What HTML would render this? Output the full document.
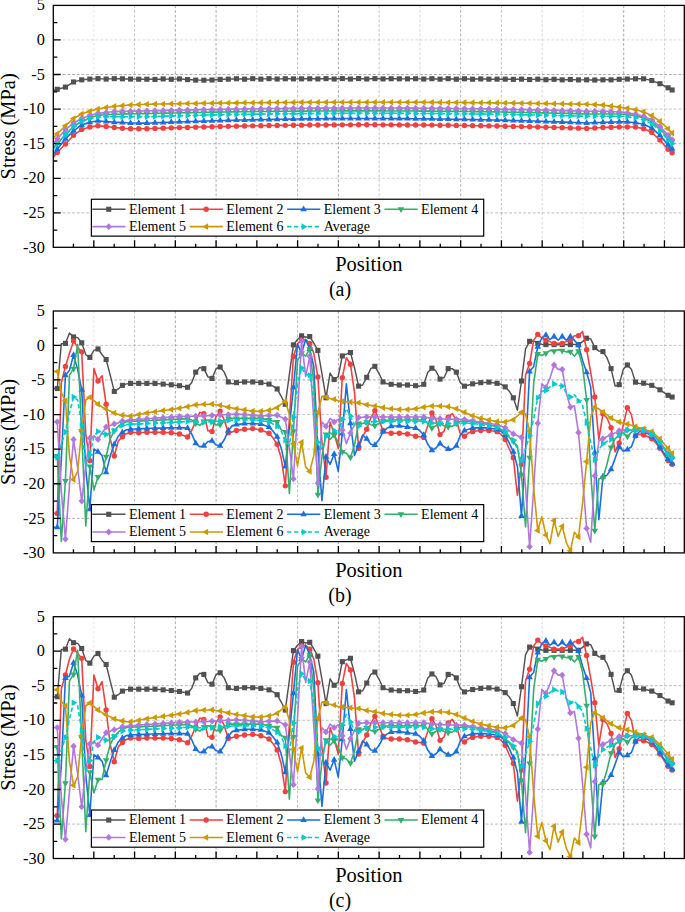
<!DOCTYPE html>
<html><head><meta charset="utf-8"><title>Stress vs Position</title>
<style>
html,body{margin:0;padding:0;background:#fff;}
svg{display:block;}
text{font-family:"Liberation Serif",serif;fill:#000;}
</style></head><body>
<svg width="685" height="912" viewBox="0 0 685 912">
<rect width="685" height="912" fill="#fff"/>
<defs><clipPath id="clip0"><rect x="53.30" y="5.40" width="631.00" height="241.90"/></clipPath><clipPath id="clip1"><rect x="53.30" y="311.00" width="631.00" height="241.90"/></clipPath><clipPath id="clip2"><rect x="53.30" y="616.70" width="631.00" height="241.80"/></clipPath></defs>
<path d="M93.81 5.40V247.30" stroke="#808080" stroke-opacity="0.23" stroke-width="0.85" stroke-dasharray="2.8 1.9" fill="none"/>
<path d="M134.57 5.40V247.30" stroke="#808080" stroke-opacity="0.54" stroke-width="0.85" stroke-dasharray="2.8 1.9" fill="none"/>
<path d="M175.33 5.40V247.30" stroke="#808080" stroke-opacity="0.81" stroke-width="0.85" stroke-dasharray="2.8 1.9" fill="none"/>
<path d="M216.09 5.40V247.30" stroke="#808080" stroke-opacity="0.81" stroke-width="0.85" stroke-dasharray="2.8 1.9" fill="none"/>
<path d="M256.85 5.40V247.30" stroke="#808080" stroke-opacity="0.27" stroke-width="0.85" stroke-dasharray="2.8 1.9" fill="none"/>
<path d="M297.61 5.40V247.30" stroke="#808080" stroke-opacity="0.63" stroke-width="0.85" stroke-dasharray="2.8 1.9" fill="none"/>
<path d="M338.37 5.40V247.30" stroke="#808080" stroke-opacity="0.81" stroke-width="0.85" stroke-dasharray="2.8 1.9" fill="none"/>
<path d="M379.13 5.40V247.30" stroke="#808080" stroke-opacity="0.54" stroke-width="0.85" stroke-dasharray="2.8 1.9" fill="none"/>
<path d="M419.89 5.40V247.30" stroke="#808080" stroke-opacity="0.36" stroke-width="0.85" stroke-dasharray="2.8 1.9" fill="none"/>
<path d="M460.65 5.40V247.30" stroke="#808080" stroke-opacity="0.68" stroke-width="0.85" stroke-dasharray="2.8 1.9" fill="none"/>
<path d="M501.41 5.40V247.30" stroke="#808080" stroke-opacity="0.54" stroke-width="0.85" stroke-dasharray="2.8 1.9" fill="none"/>
<path d="M542.17 5.40V247.30" stroke="#808080" stroke-opacity="0.38" stroke-width="0.85" stroke-dasharray="2.8 1.9" fill="none"/>
<path d="M582.93 5.40V247.30" stroke="#808080" stroke-opacity="0.18" stroke-width="0.85" stroke-dasharray="2.8 1.9" fill="none"/>
<path d="M623.69 5.40V247.30" stroke="#808080" stroke-opacity="0.81" stroke-width="0.85" stroke-dasharray="2.8 1.9" fill="none"/>
<path d="M664.45 5.40V247.30" stroke="#808080" stroke-opacity="0.41" stroke-width="0.85" stroke-dasharray="2.8 1.9" fill="none"/>
<path d="M53.30 39.90H684.30" stroke="#808080" stroke-opacity="0.36" stroke-width="0.85" stroke-dasharray="2.8 1.9" fill="none"/>
<path d="M53.30 74.50H684.30" stroke="#808080" stroke-opacity="0.77" stroke-width="0.85" stroke-dasharray="2.8 1.9" fill="none"/>
<path d="M53.30 109.10H684.30" stroke="#808080" stroke-opacity="0.54" stroke-width="0.85" stroke-dasharray="2.8 1.9" fill="none"/>
<path d="M53.30 143.70H684.30" stroke="#808080" stroke-opacity="0.68" stroke-width="0.85" stroke-dasharray="2.8 1.9" fill="none"/>
<path d="M53.30 178.30H684.30" stroke="#808080" stroke-opacity="0.41" stroke-width="0.85" stroke-dasharray="2.8 1.9" fill="none"/>
<path d="M53.30 212.90H684.30" stroke="#808080" stroke-opacity="0.63" stroke-width="0.85" stroke-dasharray="2.8 1.9" fill="none"/>
<g clip-path="url(#clip0)">
<polyline points="53.20,90.53 57.27,89.31 61.34,88.20 65.42,87.09 69.49,84.53 73.56,81.97 77.63,80.90 81.70,79.83 85.78,79.45 89.85,79.07 93.92,78.86 97.99,78.65 102.06,78.86 106.14,79.07 110.21,78.86 114.28,78.65 118.35,78.72 122.42,78.79 126.50,78.93 130.57,79.07 134.64,79.14 138.71,79.21 142.78,79.21 146.86,79.21 150.93,79.31 155.00,79.42 159.07,79.17 163.14,78.92 167.22,79.12 171.29,79.32 175.36,79.13 179.43,78.93 183.50,79.26 187.58,79.59 191.65,79.84 195.72,80.10 199.79,80.14 203.86,80.18 207.94,80.08 212.01,79.97 216.08,79.68 220.15,79.39 224.22,79.27 228.30,79.14 232.37,78.93 236.44,78.72 240.51,78.94 244.58,79.16 248.66,78.91 252.73,78.66 256.80,78.89 260.87,79.12 264.94,78.89 269.02,78.67 273.09,78.85 277.16,79.02 281.23,78.88 285.30,78.73 289.38,78.81 293.45,78.89 297.52,78.86 301.59,78.83 305.66,78.79 309.74,78.75 313.81,78.84 317.88,78.94 321.95,78.78 326.02,78.63 330.10,78.82 334.17,79.01 338.24,78.79 342.31,78.56 346.38,78.80 350.46,79.03 354.53,78.80 358.60,78.56 362.67,78.78 366.74,79.00 370.82,78.81 374.89,78.62 378.96,78.77 383.03,78.92 387.10,78.83 391.18,78.74 395.25,78.78 399.32,78.82 403.39,78.85 407.46,78.88 411.54,78.80 415.61,78.72 419.68,78.88 423.75,79.03 427.82,78.85 431.90,78.68 435.97,78.91 440.04,79.14 444.11,78.91 448.18,78.69 452.26,78.94 456.33,79.20 460.40,78.99 464.47,78.78 468.54,79.00 472.62,79.21 476.69,79.07 480.76,78.94 484.83,79.06 488.90,79.19 492.98,79.16 497.05,79.14 501.12,79.15 505.19,79.15 509.26,79.26 513.34,79.36 517.41,79.25 521.48,79.14 525.55,79.35 529.62,79.56 533.70,79.38 537.77,79.19 541.84,79.46 545.91,79.72 549.98,79.51 554.06,79.31 558.13,79.57 562.20,79.83 566.27,79.66 570.34,79.50 574.42,79.69 578.49,79.89 582.56,79.86 586.63,79.83 590.70,79.93 594.78,80.04 598.85,79.93 602.92,79.83 606.99,79.83 611.06,79.83 615.14,79.59 619.21,79.34 623.28,79.21 627.35,79.07 631.42,78.93 635.50,78.79 639.57,78.79 643.64,78.79 647.71,79.66 651.78,80.52 655.86,82.11 659.93,83.70 664.00,85.75 668.07,87.79 672.14,90.00" fill="none" stroke="#515151" stroke-width="1.45" stroke-linejoin="round"/>
<rect x="54.72" y="86.76" width="5.10" height="5.10" fill="#515151"/><rect x="62.87" y="84.54" width="5.10" height="5.10" fill="#515151"/><rect x="71.01" y="79.42" width="5.10" height="5.10" fill="#515151"/><rect x="79.15" y="77.28" width="5.10" height="5.10" fill="#515151"/><rect x="87.30" y="76.52" width="5.10" height="5.10" fill="#515151"/><rect x="95.44" y="76.10" width="5.10" height="5.10" fill="#515151"/><rect x="103.59" y="76.52" width="5.10" height="5.10" fill="#515151"/><rect x="111.73" y="76.10" width="5.10" height="5.10" fill="#515151"/><rect x="119.87" y="76.24" width="5.10" height="5.10" fill="#515151"/><rect x="128.02" y="76.52" width="5.10" height="5.10" fill="#515151"/><rect x="136.16" y="76.66" width="5.10" height="5.10" fill="#515151"/><rect x="144.31" y="76.66" width="5.10" height="5.10" fill="#515151"/><rect x="152.45" y="76.87" width="5.10" height="5.10" fill="#515151"/><rect x="160.59" y="76.37" width="5.10" height="5.10" fill="#515151"/><rect x="168.74" y="76.77" width="5.10" height="5.10" fill="#515151"/><rect x="176.88" y="76.38" width="5.10" height="5.10" fill="#515151"/><rect x="185.03" y="77.04" width="5.10" height="5.10" fill="#515151"/><rect x="193.17" y="77.55" width="5.10" height="5.10" fill="#515151"/><rect x="201.31" y="77.63" width="5.10" height="5.10" fill="#515151"/><rect x="209.46" y="77.42" width="5.10" height="5.10" fill="#515151"/><rect x="217.60" y="76.84" width="5.10" height="5.10" fill="#515151"/><rect x="225.75" y="76.59" width="5.10" height="5.10" fill="#515151"/><rect x="233.89" y="76.17" width="5.10" height="5.10" fill="#515151"/><rect x="242.03" y="76.61" width="5.10" height="5.10" fill="#515151"/><rect x="250.18" y="76.11" width="5.10" height="5.10" fill="#515151"/><rect x="258.32" y="76.57" width="5.10" height="5.10" fill="#515151"/><rect x="266.47" y="76.12" width="5.10" height="5.10" fill="#515151"/><rect x="274.61" y="76.47" width="5.10" height="5.10" fill="#515151"/><rect x="282.75" y="76.18" width="5.10" height="5.10" fill="#515151"/><rect x="290.90" y="76.34" width="5.10" height="5.10" fill="#515151"/><rect x="299.04" y="76.28" width="5.10" height="5.10" fill="#515151"/><rect x="307.19" y="76.20" width="5.10" height="5.10" fill="#515151"/><rect x="315.33" y="76.39" width="5.10" height="5.10" fill="#515151"/><rect x="323.47" y="76.08" width="5.10" height="5.10" fill="#515151"/><rect x="331.62" y="76.46" width="5.10" height="5.10" fill="#515151"/><rect x="339.76" y="76.01" width="5.10" height="5.10" fill="#515151"/><rect x="347.91" y="76.48" width="5.10" height="5.10" fill="#515151"/><rect x="356.05" y="76.01" width="5.10" height="5.10" fill="#515151"/><rect x="364.19" y="76.45" width="5.10" height="5.10" fill="#515151"/><rect x="372.34" y="76.07" width="5.10" height="5.10" fill="#515151"/><rect x="380.48" y="76.37" width="5.10" height="5.10" fill="#515151"/><rect x="388.63" y="76.19" width="5.10" height="5.10" fill="#515151"/><rect x="396.77" y="76.27" width="5.10" height="5.10" fill="#515151"/><rect x="404.91" y="76.33" width="5.10" height="5.10" fill="#515151"/><rect x="413.06" y="76.17" width="5.10" height="5.10" fill="#515151"/><rect x="421.20" y="76.48" width="5.10" height="5.10" fill="#515151"/><rect x="429.35" y="76.13" width="5.10" height="5.10" fill="#515151"/><rect x="437.49" y="76.59" width="5.10" height="5.10" fill="#515151"/><rect x="445.63" y="76.14" width="5.10" height="5.10" fill="#515151"/><rect x="453.78" y="76.65" width="5.10" height="5.10" fill="#515151"/><rect x="461.92" y="76.23" width="5.10" height="5.10" fill="#515151"/><rect x="470.07" y="76.66" width="5.10" height="5.10" fill="#515151"/><rect x="478.21" y="76.39" width="5.10" height="5.10" fill="#515151"/><rect x="486.35" y="76.64" width="5.10" height="5.10" fill="#515151"/><rect x="494.50" y="76.59" width="5.10" height="5.10" fill="#515151"/><rect x="502.64" y="76.60" width="5.10" height="5.10" fill="#515151"/><rect x="510.79" y="76.81" width="5.10" height="5.10" fill="#515151"/><rect x="518.93" y="76.59" width="5.10" height="5.10" fill="#515151"/><rect x="527.07" y="77.01" width="5.10" height="5.10" fill="#515151"/><rect x="535.22" y="76.64" width="5.10" height="5.10" fill="#515151"/><rect x="543.36" y="77.17" width="5.10" height="5.10" fill="#515151"/><rect x="551.51" y="76.76" width="5.10" height="5.10" fill="#515151"/><rect x="559.65" y="77.28" width="5.10" height="5.10" fill="#515151"/><rect x="567.79" y="76.95" width="5.10" height="5.10" fill="#515151"/><rect x="575.94" y="77.34" width="5.10" height="5.10" fill="#515151"/><rect x="584.08" y="77.28" width="5.10" height="5.10" fill="#515151"/><rect x="592.23" y="77.49" width="5.10" height="5.10" fill="#515151"/><rect x="600.37" y="77.28" width="5.10" height="5.10" fill="#515151"/><rect x="608.51" y="77.28" width="5.10" height="5.10" fill="#515151"/><rect x="616.66" y="76.79" width="5.10" height="5.10" fill="#515151"/><rect x="624.80" y="76.52" width="5.10" height="5.10" fill="#515151"/><rect x="632.95" y="76.24" width="5.10" height="5.10" fill="#515151"/><rect x="641.09" y="76.24" width="5.10" height="5.10" fill="#515151"/><rect x="649.23" y="77.97" width="5.10" height="5.10" fill="#515151"/><rect x="657.38" y="81.15" width="5.10" height="5.10" fill="#515151"/><rect x="665.52" y="85.24" width="5.10" height="5.10" fill="#515151"/><rect x="669.59" y="87.45" width="5.10" height="5.10" fill="#515151"/>
<polyline points="53.20,157.13 57.27,152.49 61.34,148.27 65.42,144.05 69.49,139.69 73.56,135.33 77.63,132.35 81.70,129.38 85.78,128.20 89.85,127.02 93.92,126.40 97.99,125.78 102.06,126.12 106.14,126.47 110.21,126.99 114.28,127.51 118.35,127.89 122.42,128.27 126.50,128.48 130.57,128.68 134.64,128.68 138.71,128.68 142.78,128.68 146.86,128.68 150.93,128.54 155.00,128.40 159.07,128.27 163.14,128.13 167.22,128.00 171.29,127.87 175.36,127.75 179.43,127.62 183.50,127.50 187.58,127.38 191.65,127.27 195.72,127.15 199.79,127.04 203.86,126.93 207.94,126.83 212.01,126.73 216.08,126.63 220.15,126.53 224.22,126.44 228.30,126.34 232.37,126.26 236.44,126.17 240.51,126.09 244.58,126.00 248.66,125.93 252.73,125.85 256.80,125.78 260.87,125.71 264.94,125.64 269.02,125.57 273.09,125.51 277.16,125.45 281.23,125.40 285.30,125.34 289.38,125.29 293.45,125.24 297.52,125.19 301.59,125.15 305.66,125.11 309.74,125.07 313.81,125.03 317.88,125.00 321.95,124.97 326.02,124.94 330.10,124.92 334.17,124.89 338.24,124.87 342.31,124.86 346.38,124.84 350.46,124.83 354.53,124.82 358.60,124.81 362.67,124.81 366.74,124.81 370.82,124.81 374.89,124.81 378.96,124.82 383.03,124.83 387.10,124.84 391.18,124.85 395.25,124.87 399.32,124.89 403.39,124.91 407.46,124.93 411.54,124.96 415.61,124.99 419.68,125.02 423.75,125.05 427.82,125.09 431.90,125.12 435.97,125.17 440.04,125.21 444.11,125.26 448.18,125.30 452.26,125.35 456.33,125.41 460.40,125.46 464.47,125.52 468.54,125.58 472.62,125.64 476.69,125.71 480.76,125.78 484.83,125.85 488.90,125.92 492.98,126.00 497.05,126.07 501.12,126.15 505.19,126.23 509.26,126.32 513.34,126.41 517.41,126.50 521.48,126.59 525.55,126.69 529.62,126.78 533.70,126.88 537.77,126.99 541.84,127.09 545.91,127.20 549.98,127.31 554.06,127.42 558.13,127.54 562.20,127.65 566.27,127.77 570.34,127.89 574.42,128.02 578.49,128.15 582.56,128.28 586.63,128.41 590.70,128.20 594.78,127.99 598.85,127.75 602.92,127.51 606.99,127.40 611.06,127.30 615.14,127.16 619.21,127.02 623.28,127.02 627.35,127.02 631.42,127.02 635.50,127.02 639.57,127.85 643.64,128.68 647.71,130.55 651.78,132.42 655.86,136.26 659.93,140.10 664.00,144.67 668.07,149.24 672.14,152.70" fill="none" stroke="#F14040" stroke-width="1.6" stroke-linejoin="round"/>
<circle cx="57.27" cy="152.49" r="2.70" fill="#F14040"/><circle cx="65.42" cy="144.05" r="2.70" fill="#F14040"/><circle cx="73.56" cy="135.33" r="2.70" fill="#F14040"/><circle cx="81.70" cy="129.38" r="2.70" fill="#F14040"/><circle cx="89.85" cy="127.02" r="2.70" fill="#F14040"/><circle cx="97.99" cy="125.78" r="2.70" fill="#F14040"/><circle cx="106.14" cy="126.47" r="2.70" fill="#F14040"/><circle cx="114.28" cy="127.51" r="2.70" fill="#F14040"/><circle cx="122.42" cy="128.27" r="2.70" fill="#F14040"/><circle cx="130.57" cy="128.68" r="2.70" fill="#F14040"/><circle cx="138.71" cy="128.68" r="2.70" fill="#F14040"/><circle cx="146.86" cy="128.68" r="2.70" fill="#F14040"/><circle cx="155.00" cy="128.40" r="2.70" fill="#F14040"/><circle cx="163.14" cy="128.13" r="2.70" fill="#F14040"/><circle cx="171.29" cy="127.87" r="2.70" fill="#F14040"/><circle cx="179.43" cy="127.62" r="2.70" fill="#F14040"/><circle cx="187.58" cy="127.38" r="2.70" fill="#F14040"/><circle cx="195.72" cy="127.15" r="2.70" fill="#F14040"/><circle cx="203.86" cy="126.93" r="2.70" fill="#F14040"/><circle cx="212.01" cy="126.73" r="2.70" fill="#F14040"/><circle cx="220.15" cy="126.53" r="2.70" fill="#F14040"/><circle cx="228.30" cy="126.34" r="2.70" fill="#F14040"/><circle cx="236.44" cy="126.17" r="2.70" fill="#F14040"/><circle cx="244.58" cy="126.00" r="2.70" fill="#F14040"/><circle cx="252.73" cy="125.85" r="2.70" fill="#F14040"/><circle cx="260.87" cy="125.71" r="2.70" fill="#F14040"/><circle cx="269.02" cy="125.57" r="2.70" fill="#F14040"/><circle cx="277.16" cy="125.45" r="2.70" fill="#F14040"/><circle cx="285.30" cy="125.34" r="2.70" fill="#F14040"/><circle cx="293.45" cy="125.24" r="2.70" fill="#F14040"/><circle cx="301.59" cy="125.15" r="2.70" fill="#F14040"/><circle cx="309.74" cy="125.07" r="2.70" fill="#F14040"/><circle cx="317.88" cy="125.00" r="2.70" fill="#F14040"/><circle cx="326.02" cy="124.94" r="2.70" fill="#F14040"/><circle cx="334.17" cy="124.89" r="2.70" fill="#F14040"/><circle cx="342.31" cy="124.86" r="2.70" fill="#F14040"/><circle cx="350.46" cy="124.83" r="2.70" fill="#F14040"/><circle cx="358.60" cy="124.81" r="2.70" fill="#F14040"/><circle cx="366.74" cy="124.81" r="2.70" fill="#F14040"/><circle cx="374.89" cy="124.81" r="2.70" fill="#F14040"/><circle cx="383.03" cy="124.83" r="2.70" fill="#F14040"/><circle cx="391.18" cy="124.85" r="2.70" fill="#F14040"/><circle cx="399.32" cy="124.89" r="2.70" fill="#F14040"/><circle cx="407.46" cy="124.93" r="2.70" fill="#F14040"/><circle cx="415.61" cy="124.99" r="2.70" fill="#F14040"/><circle cx="423.75" cy="125.05" r="2.70" fill="#F14040"/><circle cx="431.90" cy="125.12" r="2.70" fill="#F14040"/><circle cx="440.04" cy="125.21" r="2.70" fill="#F14040"/><circle cx="448.18" cy="125.30" r="2.70" fill="#F14040"/><circle cx="456.33" cy="125.41" r="2.70" fill="#F14040"/><circle cx="464.47" cy="125.52" r="2.70" fill="#F14040"/><circle cx="472.62" cy="125.64" r="2.70" fill="#F14040"/><circle cx="480.76" cy="125.78" r="2.70" fill="#F14040"/><circle cx="488.90" cy="125.92" r="2.70" fill="#F14040"/><circle cx="497.05" cy="126.07" r="2.70" fill="#F14040"/><circle cx="505.19" cy="126.23" r="2.70" fill="#F14040"/><circle cx="513.34" cy="126.41" r="2.70" fill="#F14040"/><circle cx="521.48" cy="126.59" r="2.70" fill="#F14040"/><circle cx="529.62" cy="126.78" r="2.70" fill="#F14040"/><circle cx="537.77" cy="126.99" r="2.70" fill="#F14040"/><circle cx="545.91" cy="127.20" r="2.70" fill="#F14040"/><circle cx="554.06" cy="127.42" r="2.70" fill="#F14040"/><circle cx="562.20" cy="127.65" r="2.70" fill="#F14040"/><circle cx="570.34" cy="127.89" r="2.70" fill="#F14040"/><circle cx="578.49" cy="128.15" r="2.70" fill="#F14040"/><circle cx="586.63" cy="128.41" r="2.70" fill="#F14040"/><circle cx="594.78" cy="127.99" r="2.70" fill="#F14040"/><circle cx="602.92" cy="127.51" r="2.70" fill="#F14040"/><circle cx="611.06" cy="127.30" r="2.70" fill="#F14040"/><circle cx="619.21" cy="127.02" r="2.70" fill="#F14040"/><circle cx="627.35" cy="127.02" r="2.70" fill="#F14040"/><circle cx="635.50" cy="127.02" r="2.70" fill="#F14040"/><circle cx="643.64" cy="128.68" r="2.70" fill="#F14040"/><circle cx="651.78" cy="132.42" r="2.70" fill="#F14040"/><circle cx="659.93" cy="140.10" r="2.70" fill="#F14040"/><circle cx="668.07" cy="149.24" r="2.70" fill="#F14040"/><circle cx="672.14" cy="152.70" r="2.70" fill="#F14040"/>
<polyline points="53.20,154.94 57.27,149.24 61.34,144.05 65.42,138.86 69.49,134.88 73.56,130.90 77.63,127.96 81.70,125.02 85.78,123.63 89.85,122.25 93.92,121.56 97.99,120.86 102.06,121.21 106.14,121.56 110.21,121.90 114.28,122.25 118.35,122.42 122.42,122.59 126.50,122.77 130.57,122.94 134.64,123.04 138.71,123.15 142.78,123.15 146.86,123.15 150.93,122.98 155.00,122.81 159.07,122.65 163.14,122.49 167.22,122.33 171.29,122.17 175.36,122.03 179.43,121.88 183.50,121.73 187.58,121.59 191.65,121.45 195.72,121.32 199.79,121.19 203.86,121.06 207.94,120.93 212.01,120.81 216.08,120.69 220.15,120.57 224.22,120.46 228.30,120.35 232.37,120.24 236.44,120.14 240.51,120.04 244.58,119.94 248.66,119.85 252.73,119.76 256.80,119.67 260.87,119.59 264.94,119.51 269.02,119.43 273.09,119.35 277.16,119.28 281.23,119.21 285.30,119.15 289.38,119.09 293.45,119.03 297.52,118.97 301.59,118.92 305.66,118.87 309.74,118.82 313.81,118.78 317.88,118.74 321.95,118.71 326.02,118.67 330.10,118.64 334.17,118.61 338.24,118.59 342.31,118.57 346.38,118.55 350.46,118.54 354.53,118.53 358.60,118.52 362.67,118.51 366.74,118.51 370.82,118.51 374.89,118.52 378.96,118.53 383.03,118.54 387.10,118.55 391.18,118.57 395.25,118.59 399.32,118.61 403.39,118.64 407.46,118.66 411.54,118.70 415.61,118.73 419.68,118.77 423.75,118.81 427.82,118.85 431.90,118.90 435.97,118.95 440.04,119.00 444.11,119.06 448.18,119.12 452.26,119.18 456.33,119.25 460.40,119.32 464.47,119.39 468.54,119.46 472.62,119.54 476.69,119.62 480.76,119.70 484.83,119.79 488.90,119.88 492.98,119.97 497.05,120.07 501.12,120.17 505.19,120.27 509.26,120.37 513.34,120.48 517.41,120.59 521.48,120.70 525.55,120.82 529.62,120.94 533.70,121.07 537.77,121.19 541.84,121.32 545.91,121.45 549.98,121.59 554.06,121.72 558.13,121.87 562.20,122.01 566.27,122.16 570.34,122.31 574.42,122.46 578.49,122.62 582.56,122.78 586.63,122.94 590.70,122.77 594.78,122.59 598.85,122.49 602.92,122.39 606.99,122.25 611.06,122.11 615.14,122.01 619.21,121.90 623.28,121.90 627.35,121.90 631.42,122.25 635.50,122.59 639.57,123.46 643.64,124.32 647.71,126.16 651.78,127.99 655.86,131.66 659.93,135.33 664.00,140.07 668.07,144.81 672.14,148.89" fill="none" stroke="#1A6FDF" stroke-width="1.6" stroke-linejoin="round"/>
<polygon points="57.27,145.44 60.57,151.19 53.97,151.19" fill="#1A6FDF"/><polygon points="65.42,135.06 68.72,140.81 62.12,140.81" fill="#1A6FDF"/><polygon points="73.56,127.10 76.86,132.85 70.26,132.85" fill="#1A6FDF"/><polygon points="81.70,121.22 85.00,126.97 78.40,126.97" fill="#1A6FDF"/><polygon points="89.85,118.45 93.15,124.20 86.55,124.20" fill="#1A6FDF"/><polygon points="97.99,117.06 101.29,122.81 94.69,122.81" fill="#1A6FDF"/><polygon points="106.14,117.76 109.44,123.51 102.84,123.51" fill="#1A6FDF"/><polygon points="114.28,118.45 117.58,124.20 110.98,124.20" fill="#1A6FDF"/><polygon points="122.42,118.79 125.72,124.54 119.12,124.54" fill="#1A6FDF"/><polygon points="130.57,119.14 133.87,124.89 127.27,124.89" fill="#1A6FDF"/><polygon points="138.71,119.35 142.01,125.10 135.41,125.10" fill="#1A6FDF"/><polygon points="146.86,119.35 150.16,125.10 143.56,125.10" fill="#1A6FDF"/><polygon points="155.00,119.01 158.30,124.76 151.70,124.76" fill="#1A6FDF"/><polygon points="163.14,118.69 166.44,124.44 159.84,124.44" fill="#1A6FDF"/><polygon points="171.29,118.37 174.59,124.12 167.99,124.12" fill="#1A6FDF"/><polygon points="179.43,118.08 182.73,123.83 176.13,123.83" fill="#1A6FDF"/><polygon points="187.58,117.79 190.88,123.54 184.28,123.54" fill="#1A6FDF"/><polygon points="195.72,117.52 199.02,123.27 192.42,123.27" fill="#1A6FDF"/><polygon points="203.86,117.26 207.16,123.01 200.56,123.01" fill="#1A6FDF"/><polygon points="212.01,117.01 215.31,122.76 208.71,122.76" fill="#1A6FDF"/><polygon points="220.15,116.77 223.45,122.52 216.85,122.52" fill="#1A6FDF"/><polygon points="228.30,116.55 231.60,122.30 225.00,122.30" fill="#1A6FDF"/><polygon points="236.44,116.34 239.74,122.09 233.14,122.09" fill="#1A6FDF"/><polygon points="244.58,116.14 247.88,121.89 241.28,121.89" fill="#1A6FDF"/><polygon points="252.73,115.96 256.03,121.71 249.43,121.71" fill="#1A6FDF"/><polygon points="260.87,115.79 264.17,121.54 257.57,121.54" fill="#1A6FDF"/><polygon points="269.02,115.63 272.32,121.38 265.72,121.38" fill="#1A6FDF"/><polygon points="277.16,115.48 280.46,121.23 273.86,121.23" fill="#1A6FDF"/><polygon points="285.30,115.35 288.60,121.10 282.00,121.10" fill="#1A6FDF"/><polygon points="293.45,115.23 296.75,120.98 290.15,120.98" fill="#1A6FDF"/><polygon points="301.59,115.12 304.89,120.87 298.29,120.87" fill="#1A6FDF"/><polygon points="309.74,115.02 313.04,120.77 306.44,120.77" fill="#1A6FDF"/><polygon points="317.88,114.94 321.18,120.69 314.58,120.69" fill="#1A6FDF"/><polygon points="326.02,114.87 329.32,120.62 322.72,120.62" fill="#1A6FDF"/><polygon points="334.17,114.81 337.47,120.56 330.87,120.56" fill="#1A6FDF"/><polygon points="342.31,114.77 345.61,120.52 339.01,120.52" fill="#1A6FDF"/><polygon points="350.46,114.74 353.76,120.49 347.16,120.49" fill="#1A6FDF"/><polygon points="358.60,114.72 361.90,120.47 355.30,120.47" fill="#1A6FDF"/><polygon points="366.74,114.71 370.04,120.46 363.44,120.46" fill="#1A6FDF"/><polygon points="374.89,114.72 378.19,120.47 371.59,120.47" fill="#1A6FDF"/><polygon points="383.03,114.74 386.33,120.49 379.73,120.49" fill="#1A6FDF"/><polygon points="391.18,114.77 394.48,120.52 387.88,120.52" fill="#1A6FDF"/><polygon points="399.32,114.81 402.62,120.56 396.02,120.56" fill="#1A6FDF"/><polygon points="407.46,114.86 410.76,120.61 404.16,120.61" fill="#1A6FDF"/><polygon points="415.61,114.93 418.91,120.68 412.31,120.68" fill="#1A6FDF"/><polygon points="423.75,115.01 427.05,120.76 420.45,120.76" fill="#1A6FDF"/><polygon points="431.90,115.10 435.20,120.85 428.60,120.85" fill="#1A6FDF"/><polygon points="440.04,115.20 443.34,120.95 436.74,120.95" fill="#1A6FDF"/><polygon points="448.18,115.32 451.48,121.07 444.88,121.07" fill="#1A6FDF"/><polygon points="456.33,115.45 459.63,121.20 453.03,121.20" fill="#1A6FDF"/><polygon points="464.47,115.59 467.77,121.34 461.17,121.34" fill="#1A6FDF"/><polygon points="472.62,115.74 475.92,121.49 469.32,121.49" fill="#1A6FDF"/><polygon points="480.76,115.90 484.06,121.65 477.46,121.65" fill="#1A6FDF"/><polygon points="488.90,116.08 492.20,121.83 485.60,121.83" fill="#1A6FDF"/><polygon points="497.05,116.27 500.35,122.02 493.75,122.02" fill="#1A6FDF"/><polygon points="505.19,116.47 508.49,122.22 501.89,122.22" fill="#1A6FDF"/><polygon points="513.34,116.68 516.64,122.43 510.04,122.43" fill="#1A6FDF"/><polygon points="521.48,116.90 524.78,122.65 518.18,122.65" fill="#1A6FDF"/><polygon points="529.62,117.14 532.92,122.89 526.32,122.89" fill="#1A6FDF"/><polygon points="537.77,117.39 541.07,123.14 534.47,123.14" fill="#1A6FDF"/><polygon points="545.91,117.65 549.21,123.40 542.61,123.40" fill="#1A6FDF"/><polygon points="554.06,117.92 557.36,123.67 550.76,123.67" fill="#1A6FDF"/><polygon points="562.20,118.21 565.50,123.96 558.90,123.96" fill="#1A6FDF"/><polygon points="570.34,118.51 573.64,124.26 567.04,124.26" fill="#1A6FDF"/><polygon points="578.49,118.82 581.79,124.57 575.19,124.57" fill="#1A6FDF"/><polygon points="586.63,119.14 589.93,124.89 583.33,124.89" fill="#1A6FDF"/><polygon points="594.78,118.79 598.08,124.54 591.48,124.54" fill="#1A6FDF"/><polygon points="602.92,118.59 606.22,124.34 599.62,124.34" fill="#1A6FDF"/><polygon points="611.06,118.31 614.36,124.06 607.76,124.06" fill="#1A6FDF"/><polygon points="619.21,118.10 622.51,123.85 615.91,123.85" fill="#1A6FDF"/><polygon points="627.35,118.10 630.65,123.85 624.05,123.85" fill="#1A6FDF"/><polygon points="635.50,118.79 638.80,124.54 632.20,124.54" fill="#1A6FDF"/><polygon points="643.64,120.52 646.94,126.27 640.34,126.27" fill="#1A6FDF"/><polygon points="651.78,124.19 655.08,129.94 648.48,129.94" fill="#1A6FDF"/><polygon points="659.93,131.53 663.23,137.28 656.63,137.28" fill="#1A6FDF"/><polygon points="668.07,141.01 671.37,146.76 664.77,146.76" fill="#1A6FDF"/><polygon points="672.14,145.09 675.44,150.84 668.84,150.84" fill="#1A6FDF"/>
<polyline points="53.20,148.11 57.27,143.35 61.34,139.03 65.42,134.70 69.49,130.55 73.56,126.40 77.63,123.98 81.70,121.56 85.78,119.69 89.85,117.82 93.92,116.57 97.99,115.33 102.06,114.98 106.14,114.64 110.21,114.53 114.28,114.43 118.35,114.19 122.42,113.94 126.50,113.87 130.57,113.81 134.64,113.74 138.71,113.67 142.78,113.63 146.86,113.60 150.93,113.50 155.00,113.40 159.07,113.31 163.14,113.21 167.22,113.12 171.29,113.03 175.36,112.94 179.43,112.86 183.50,112.77 187.58,112.69 191.65,112.61 195.72,112.53 199.79,112.46 203.86,112.38 207.94,112.31 212.01,112.24 216.08,112.17 220.15,112.10 224.22,112.03 228.30,111.97 232.37,111.91 236.44,111.85 240.51,111.79 244.58,111.73 248.66,111.68 252.73,111.62 256.80,111.57 260.87,111.52 264.94,111.48 269.02,111.43 273.09,111.39 277.16,111.35 281.23,111.31 285.30,111.27 289.38,111.23 293.45,111.20 297.52,111.17 301.59,111.14 305.66,111.11 309.74,111.08 313.81,111.06 317.88,111.03 321.95,111.01 326.02,110.99 330.10,110.98 334.17,110.96 338.24,110.95 342.31,110.93 346.38,110.92 350.46,110.91 354.53,110.91 358.60,110.90 362.67,110.90 366.74,110.90 370.82,110.90 374.89,110.90 378.96,110.91 383.03,110.92 387.10,110.93 391.18,110.94 395.25,110.95 399.32,110.97 403.39,110.98 407.46,111.00 411.54,111.03 415.61,111.05 419.68,111.08 423.75,111.10 427.82,111.14 431.90,111.17 435.97,111.20 440.04,111.24 444.11,111.28 448.18,111.32 452.26,111.36 456.33,111.40 460.40,111.45 464.47,111.50 468.54,111.55 472.62,111.61 476.69,111.66 480.76,111.72 484.83,111.78 488.90,111.84 492.98,111.90 497.05,111.97 501.12,112.04 505.19,112.11 509.26,112.18 513.34,112.25 517.41,112.33 521.48,112.41 525.55,112.49 529.62,112.57 533.70,112.66 537.77,112.74 541.84,112.83 545.91,112.92 549.98,113.01 554.06,113.11 558.13,113.21 562.20,113.30 566.27,113.41 570.34,113.51 574.42,113.62 578.49,113.72 582.56,113.83 586.63,113.94 590.70,113.94 594.78,113.94 598.85,113.94 602.92,113.94 606.99,113.94 611.06,113.94 615.14,113.94 619.21,113.94 623.28,114.22 627.35,114.50 631.42,115.09 635.50,115.67 639.57,116.82 643.64,117.96 647.71,119.76 651.78,121.56 655.86,125.19 659.93,128.82 664.00,133.15 668.07,137.47 672.14,141.62" fill="none" stroke="#37AD6B" stroke-width="1.6" stroke-linejoin="round"/>
<polygon points="57.27,147.15 60.57,141.40 53.97,141.40" fill="#37AD6B"/><polygon points="65.42,138.50 68.72,132.75 62.12,132.75" fill="#37AD6B"/><polygon points="73.56,130.20 76.86,124.45 70.26,124.45" fill="#37AD6B"/><polygon points="81.70,125.36 85.00,119.61 78.40,119.61" fill="#37AD6B"/><polygon points="89.85,121.62 93.15,115.87 86.55,115.87" fill="#37AD6B"/><polygon points="97.99,119.13 101.29,113.38 94.69,113.38" fill="#37AD6B"/><polygon points="106.14,118.44 109.44,112.69 102.84,112.69" fill="#37AD6B"/><polygon points="114.28,118.23 117.58,112.48 110.98,112.48" fill="#37AD6B"/><polygon points="122.42,117.74 125.72,111.99 119.12,111.99" fill="#37AD6B"/><polygon points="130.57,117.61 133.87,111.86 127.27,111.86" fill="#37AD6B"/><polygon points="138.71,117.47 142.01,111.72 135.41,111.72" fill="#37AD6B"/><polygon points="146.86,117.40 150.16,111.65 143.56,111.65" fill="#37AD6B"/><polygon points="155.00,117.20 158.30,111.45 151.70,111.45" fill="#37AD6B"/><polygon points="163.14,117.01 166.44,111.26 159.84,111.26" fill="#37AD6B"/><polygon points="171.29,116.83 174.59,111.08 167.99,111.08" fill="#37AD6B"/><polygon points="179.43,116.66 182.73,110.91 176.13,110.91" fill="#37AD6B"/><polygon points="187.58,116.49 190.88,110.74 184.28,110.74" fill="#37AD6B"/><polygon points="195.72,116.33 199.02,110.58 192.42,110.58" fill="#37AD6B"/><polygon points="203.86,116.18 207.16,110.43 200.56,110.43" fill="#37AD6B"/><polygon points="212.01,116.04 215.31,110.29 208.71,110.29" fill="#37AD6B"/><polygon points="220.15,115.90 223.45,110.15 216.85,110.15" fill="#37AD6B"/><polygon points="228.30,115.77 231.60,110.02 225.00,110.02" fill="#37AD6B"/><polygon points="236.44,115.65 239.74,109.90 233.14,109.90" fill="#37AD6B"/><polygon points="244.58,115.53 247.88,109.78 241.28,109.78" fill="#37AD6B"/><polygon points="252.73,115.42 256.03,109.67 249.43,109.67" fill="#37AD6B"/><polygon points="260.87,115.32 264.17,109.57 257.57,109.57" fill="#37AD6B"/><polygon points="269.02,115.23 272.32,109.48 265.72,109.48" fill="#37AD6B"/><polygon points="277.16,115.15 280.46,109.40 273.86,109.40" fill="#37AD6B"/><polygon points="285.30,115.07 288.60,109.32 282.00,109.32" fill="#37AD6B"/><polygon points="293.45,115.00 296.75,109.25 290.15,109.25" fill="#37AD6B"/><polygon points="301.59,114.94 304.89,109.19 298.29,109.19" fill="#37AD6B"/><polygon points="309.74,114.88 313.04,109.13 306.44,109.13" fill="#37AD6B"/><polygon points="317.88,114.83 321.18,109.08 314.58,109.08" fill="#37AD6B"/><polygon points="326.02,114.79 329.32,109.04 322.72,109.04" fill="#37AD6B"/><polygon points="334.17,114.76 337.47,109.01 330.87,109.01" fill="#37AD6B"/><polygon points="342.31,114.73 345.61,108.98 339.01,108.98" fill="#37AD6B"/><polygon points="350.46,114.71 353.76,108.96 347.16,108.96" fill="#37AD6B"/><polygon points="358.60,114.70 361.90,108.95 355.30,108.95" fill="#37AD6B"/><polygon points="366.74,114.70 370.04,108.95 363.44,108.95" fill="#37AD6B"/><polygon points="374.89,114.70 378.19,108.95 371.59,108.95" fill="#37AD6B"/><polygon points="383.03,114.72 386.33,108.97 379.73,108.97" fill="#37AD6B"/><polygon points="391.18,114.74 394.48,108.99 387.88,108.99" fill="#37AD6B"/><polygon points="399.32,114.77 402.62,109.02 396.02,109.02" fill="#37AD6B"/><polygon points="407.46,114.80 410.76,109.05 404.16,109.05" fill="#37AD6B"/><polygon points="415.61,114.85 418.91,109.10 412.31,109.10" fill="#37AD6B"/><polygon points="423.75,114.90 427.05,109.15 420.45,109.15" fill="#37AD6B"/><polygon points="431.90,114.97 435.20,109.22 428.60,109.22" fill="#37AD6B"/><polygon points="440.04,115.04 443.34,109.29 436.74,109.29" fill="#37AD6B"/><polygon points="448.18,115.12 451.48,109.37 444.88,109.37" fill="#37AD6B"/><polygon points="456.33,115.20 459.63,109.45 453.03,109.45" fill="#37AD6B"/><polygon points="464.47,115.30 467.77,109.55 461.17,109.55" fill="#37AD6B"/><polygon points="472.62,115.41 475.92,109.66 469.32,109.66" fill="#37AD6B"/><polygon points="480.76,115.52 484.06,109.77 477.46,109.77" fill="#37AD6B"/><polygon points="488.90,115.64 492.20,109.89 485.60,109.89" fill="#37AD6B"/><polygon points="497.05,115.77 500.35,110.02 493.75,110.02" fill="#37AD6B"/><polygon points="505.19,115.91 508.49,110.16 501.89,110.16" fill="#37AD6B"/><polygon points="513.34,116.05 516.64,110.30 510.04,110.30" fill="#37AD6B"/><polygon points="521.48,116.21 524.78,110.46 518.18,110.46" fill="#37AD6B"/><polygon points="529.62,116.37 532.92,110.62 526.32,110.62" fill="#37AD6B"/><polygon points="537.77,116.54 541.07,110.79 534.47,110.79" fill="#37AD6B"/><polygon points="545.91,116.72 549.21,110.97 542.61,110.97" fill="#37AD6B"/><polygon points="554.06,116.91 557.36,111.16 550.76,111.16" fill="#37AD6B"/><polygon points="562.20,117.10 565.50,111.35 558.90,111.35" fill="#37AD6B"/><polygon points="570.34,117.31 573.64,111.56 567.04,111.56" fill="#37AD6B"/><polygon points="578.49,117.52 581.79,111.77 575.19,111.77" fill="#37AD6B"/><polygon points="586.63,117.74 589.93,111.99 583.33,111.99" fill="#37AD6B"/><polygon points="594.78,117.74 598.08,111.99 591.48,111.99" fill="#37AD6B"/><polygon points="602.92,117.74 606.22,111.99 599.62,111.99" fill="#37AD6B"/><polygon points="611.06,117.74 614.36,111.99 607.76,111.99" fill="#37AD6B"/><polygon points="619.21,117.74 622.51,111.99 615.91,111.99" fill="#37AD6B"/><polygon points="627.35,118.30 630.65,112.55 624.05,112.55" fill="#37AD6B"/><polygon points="635.50,119.47 638.80,113.72 632.20,113.72" fill="#37AD6B"/><polygon points="643.64,121.76 646.94,116.01 640.34,116.01" fill="#37AD6B"/><polygon points="651.78,125.36 655.08,119.61 648.48,119.61" fill="#37AD6B"/><polygon points="659.93,132.62 663.23,126.87 656.63,126.87" fill="#37AD6B"/><polygon points="668.07,141.27 671.37,135.52 664.77,135.52" fill="#37AD6B"/><polygon points="672.14,145.42 675.44,139.67 668.84,139.67" fill="#37AD6B"/>
<polyline points="53.20,143.80 57.27,138.86 61.34,134.36 65.42,129.86 69.49,126.40 73.56,122.94 77.63,120.73 81.70,118.51 85.78,116.92 89.85,115.33 93.92,114.29 97.99,113.25 102.06,112.91 106.14,112.56 110.21,112.04 114.28,111.52 118.35,111.35 122.42,111.18 126.50,111.18 130.57,111.18 134.64,111.11 138.71,111.04 142.78,110.97 146.86,110.90 150.93,110.79 155.00,110.69 159.07,110.59 163.14,110.48 167.22,110.39 171.29,110.29 175.36,110.20 179.43,110.10 183.50,110.01 187.58,109.92 191.65,109.84 195.72,109.75 199.79,109.67 203.86,109.59 207.94,109.51 212.01,109.43 216.08,109.36 220.15,109.28 224.22,109.21 228.30,109.14 232.37,109.08 236.44,109.01 240.51,108.95 244.58,108.89 248.66,108.83 252.73,108.77 256.80,108.72 260.87,108.67 264.94,108.62 269.02,108.57 273.09,108.52 277.16,108.48 281.23,108.43 285.30,108.39 289.38,108.35 293.45,108.32 297.52,108.28 301.59,108.25 305.66,108.22 309.74,108.19 313.81,108.16 317.88,108.14 321.95,108.11 326.02,108.09 330.10,108.07 334.17,108.06 338.24,108.04 342.31,108.03 346.38,108.02 350.46,108.01 354.53,108.00 358.60,108.00 362.67,107.99 366.74,107.99 370.82,107.99 374.89,108.00 378.96,108.00 383.03,108.01 387.10,108.02 391.18,108.03 395.25,108.05 399.32,108.06 403.39,108.08 407.46,108.10 411.54,108.13 415.61,108.15 419.68,108.18 423.75,108.21 427.82,108.24 431.90,108.27 435.97,108.31 440.04,108.35 444.11,108.39 448.18,108.43 452.26,108.48 456.33,108.52 460.40,108.57 464.47,108.62 468.54,108.68 472.62,108.73 476.69,108.79 480.76,108.85 484.83,108.91 488.90,108.98 492.98,109.04 497.05,109.11 501.12,109.18 505.19,109.25 509.26,109.33 513.34,109.41 517.41,109.49 521.48,109.57 525.55,109.65 529.62,109.74 533.70,109.83 537.77,109.92 541.84,110.01 545.91,110.11 549.98,110.20 554.06,110.30 558.13,110.41 562.20,110.51 566.27,110.61 570.34,110.72 574.42,110.83 578.49,110.94 582.56,111.06 586.63,111.18 590.70,111.18 594.78,111.18 598.85,111.18 602.92,111.18 606.99,111.35 611.06,111.52 615.14,111.69 619.21,111.87 623.28,112.39 627.35,112.91 631.42,113.49 635.50,114.08 639.57,115.19 643.64,116.30 647.71,118.13 651.78,119.96 655.86,123.18 659.93,126.40 664.00,130.86 668.07,135.33 672.14,139.69" fill="none" stroke="#B177DE" stroke-width="1.6" stroke-linejoin="round"/>
<polygon points="57.27,135.46 60.47,138.86 57.27,142.26 54.07,138.86" fill="#B177DE"/><polygon points="65.42,126.46 68.62,129.86 65.42,133.26 62.22,129.86" fill="#B177DE"/><polygon points="73.56,119.54 76.76,122.94 73.56,126.34 70.36,122.94" fill="#B177DE"/><polygon points="81.70,115.11 84.90,118.51 81.70,121.91 78.50,118.51" fill="#B177DE"/><polygon points="89.85,111.93 93.05,115.33 89.85,118.73 86.65,115.33" fill="#B177DE"/><polygon points="97.99,109.85 101.19,113.25 97.99,116.65 94.79,113.25" fill="#B177DE"/><polygon points="106.14,109.16 109.34,112.56 106.14,115.96 102.94,112.56" fill="#B177DE"/><polygon points="114.28,108.12 117.48,111.52 114.28,114.92 111.08,111.52" fill="#B177DE"/><polygon points="122.42,107.78 125.62,111.18 122.42,114.58 119.22,111.18" fill="#B177DE"/><polygon points="130.57,107.78 133.77,111.18 130.57,114.58 127.37,111.18" fill="#B177DE"/><polygon points="138.71,107.64 141.91,111.04 138.71,114.44 135.51,111.04" fill="#B177DE"/><polygon points="146.86,107.50 150.06,110.90 146.86,114.30 143.66,110.90" fill="#B177DE"/><polygon points="155.00,107.29 158.20,110.69 155.00,114.09 151.80,110.69" fill="#B177DE"/><polygon points="163.14,107.08 166.34,110.48 163.14,113.88 159.94,110.48" fill="#B177DE"/><polygon points="171.29,106.89 174.49,110.29 171.29,113.69 168.09,110.29" fill="#B177DE"/><polygon points="179.43,106.70 182.63,110.10 179.43,113.50 176.23,110.10" fill="#B177DE"/><polygon points="187.58,106.52 190.78,109.92 187.58,113.32 184.38,109.92" fill="#B177DE"/><polygon points="195.72,106.35 198.92,109.75 195.72,113.15 192.52,109.75" fill="#B177DE"/><polygon points="203.86,106.19 207.06,109.59 203.86,112.99 200.66,109.59" fill="#B177DE"/><polygon points="212.01,106.03 215.21,109.43 212.01,112.83 208.81,109.43" fill="#B177DE"/><polygon points="220.15,105.88 223.35,109.28 220.15,112.68 216.95,109.28" fill="#B177DE"/><polygon points="228.30,105.74 231.50,109.14 228.30,112.54 225.10,109.14" fill="#B177DE"/><polygon points="236.44,105.61 239.64,109.01 236.44,112.41 233.24,109.01" fill="#B177DE"/><polygon points="244.58,105.49 247.78,108.89 244.58,112.29 241.38,108.89" fill="#B177DE"/><polygon points="252.73,105.37 255.93,108.77 252.73,112.17 249.53,108.77" fill="#B177DE"/><polygon points="260.87,105.27 264.07,108.67 260.87,112.07 257.67,108.67" fill="#B177DE"/><polygon points="269.02,105.17 272.22,108.57 269.02,111.97 265.82,108.57" fill="#B177DE"/><polygon points="277.16,105.08 280.36,108.48 277.16,111.88 273.96,108.48" fill="#B177DE"/><polygon points="285.30,104.99 288.50,108.39 285.30,111.79 282.10,108.39" fill="#B177DE"/><polygon points="293.45,104.92 296.65,108.32 293.45,111.72 290.25,108.32" fill="#B177DE"/><polygon points="301.59,104.85 304.79,108.25 301.59,111.65 298.39,108.25" fill="#B177DE"/><polygon points="309.74,104.79 312.94,108.19 309.74,111.59 306.54,108.19" fill="#B177DE"/><polygon points="317.88,104.74 321.08,108.14 317.88,111.54 314.68,108.14" fill="#B177DE"/><polygon points="326.02,104.69 329.22,108.09 326.02,111.49 322.82,108.09" fill="#B177DE"/><polygon points="334.17,104.66 337.37,108.06 334.17,111.46 330.97,108.06" fill="#B177DE"/><polygon points="342.31,104.63 345.51,108.03 342.31,111.43 339.11,108.03" fill="#B177DE"/><polygon points="350.46,104.61 353.66,108.01 350.46,111.41 347.26,108.01" fill="#B177DE"/><polygon points="358.60,104.60 361.80,108.00 358.60,111.40 355.40,108.00" fill="#B177DE"/><polygon points="366.74,104.59 369.94,107.99 366.74,111.39 363.54,107.99" fill="#B177DE"/><polygon points="374.89,104.60 378.09,108.00 374.89,111.40 371.69,108.00" fill="#B177DE"/><polygon points="383.03,104.61 386.23,108.01 383.03,111.41 379.83,108.01" fill="#B177DE"/><polygon points="391.18,104.63 394.38,108.03 391.18,111.43 387.98,108.03" fill="#B177DE"/><polygon points="399.32,104.66 402.52,108.06 399.32,111.46 396.12,108.06" fill="#B177DE"/><polygon points="407.46,104.70 410.66,108.10 407.46,111.50 404.26,108.10" fill="#B177DE"/><polygon points="415.61,104.75 418.81,108.15 415.61,111.55 412.41,108.15" fill="#B177DE"/><polygon points="423.75,104.81 426.95,108.21 423.75,111.61 420.55,108.21" fill="#B177DE"/><polygon points="431.90,104.87 435.10,108.27 431.90,111.67 428.70,108.27" fill="#B177DE"/><polygon points="440.04,104.95 443.24,108.35 440.04,111.75 436.84,108.35" fill="#B177DE"/><polygon points="448.18,105.03 451.38,108.43 448.18,111.83 444.98,108.43" fill="#B177DE"/><polygon points="456.33,105.12 459.53,108.52 456.33,111.92 453.13,108.52" fill="#B177DE"/><polygon points="464.47,105.22 467.67,108.62 464.47,112.02 461.27,108.62" fill="#B177DE"/><polygon points="472.62,105.33 475.82,108.73 472.62,112.13 469.42,108.73" fill="#B177DE"/><polygon points="480.76,105.45 483.96,108.85 480.76,112.25 477.56,108.85" fill="#B177DE"/><polygon points="488.90,105.58 492.10,108.98 488.90,112.38 485.70,108.98" fill="#B177DE"/><polygon points="497.05,105.71 500.25,109.11 497.05,112.51 493.85,109.11" fill="#B177DE"/><polygon points="505.19,105.85 508.39,109.25 505.19,112.65 501.99,109.25" fill="#B177DE"/><polygon points="513.34,106.01 516.54,109.41 513.34,112.81 510.14,109.41" fill="#B177DE"/><polygon points="521.48,106.17 524.68,109.57 521.48,112.97 518.28,109.57" fill="#B177DE"/><polygon points="529.62,106.34 532.82,109.74 529.62,113.14 526.42,109.74" fill="#B177DE"/><polygon points="537.77,106.52 540.97,109.92 537.77,113.32 534.57,109.92" fill="#B177DE"/><polygon points="545.91,106.71 549.11,110.11 545.91,113.51 542.71,110.11" fill="#B177DE"/><polygon points="554.06,106.90 557.26,110.30 554.06,113.70 550.86,110.30" fill="#B177DE"/><polygon points="562.20,107.11 565.40,110.51 562.20,113.91 559.00,110.51" fill="#B177DE"/><polygon points="570.34,107.32 573.54,110.72 570.34,114.12 567.14,110.72" fill="#B177DE"/><polygon points="578.49,107.54 581.69,110.94 578.49,114.34 575.29,110.94" fill="#B177DE"/><polygon points="586.63,107.78 589.83,111.18 586.63,114.58 583.43,111.18" fill="#B177DE"/><polygon points="594.78,107.78 597.98,111.18 594.78,114.58 591.58,111.18" fill="#B177DE"/><polygon points="602.92,107.78 606.12,111.18 602.92,114.58 599.72,111.18" fill="#B177DE"/><polygon points="611.06,108.12 614.26,111.52 611.06,114.92 607.86,111.52" fill="#B177DE"/><polygon points="619.21,108.47 622.41,111.87 619.21,115.27 616.01,111.87" fill="#B177DE"/><polygon points="627.35,109.51 630.55,112.91 627.35,116.31 624.15,112.91" fill="#B177DE"/><polygon points="635.50,110.68 638.70,114.08 635.50,117.48 632.30,114.08" fill="#B177DE"/><polygon points="643.64,112.90 646.84,116.30 643.64,119.70 640.44,116.30" fill="#B177DE"/><polygon points="651.78,116.56 654.98,119.96 651.78,123.36 648.58,119.96" fill="#B177DE"/><polygon points="659.93,123.00 663.13,126.40 659.93,129.80 656.73,126.40" fill="#B177DE"/><polygon points="668.07,131.93 671.27,135.33 668.07,138.73 664.87,135.33" fill="#B177DE"/><polygon points="672.14,136.29 675.34,139.69 672.14,143.09 668.94,139.69" fill="#B177DE"/>
<polyline points="53.20,138.26 57.27,133.80 61.34,129.76 65.42,125.71 69.49,122.11 73.56,118.51 77.63,116.23 81.70,113.94 85.78,112.56 89.85,111.18 93.92,110.10 97.99,109.03 102.06,108.27 106.14,107.51 110.21,106.92 114.28,106.33 118.35,105.99 122.42,105.64 126.50,105.29 130.57,104.95 134.64,104.78 138.71,104.60 142.78,104.43 146.86,104.26 150.93,104.18 155.00,104.11 159.07,104.03 163.14,103.96 167.22,103.89 171.29,103.82 175.36,103.75 179.43,103.69 183.50,103.62 187.58,103.56 191.65,103.50 195.72,103.44 199.79,103.38 203.86,103.32 207.94,103.26 212.01,103.21 216.08,103.16 220.15,103.10 224.22,103.05 228.30,103.00 232.37,102.96 236.44,102.91 240.51,102.86 244.58,102.82 248.66,102.78 252.73,102.74 256.80,102.70 260.87,102.66 264.94,102.63 269.02,102.59 273.09,102.56 277.16,102.52 281.23,102.49 285.30,102.46 289.38,102.44 293.45,102.41 297.52,102.39 301.59,102.36 305.66,102.34 309.74,102.32 313.81,102.30 317.88,102.28 321.95,102.27 326.02,102.25 330.10,102.24 334.17,102.23 338.24,102.22 342.31,102.21 346.38,102.20 350.46,102.19 354.53,102.19 358.60,102.18 362.67,102.18 366.74,102.18 370.82,102.18 374.89,102.18 378.96,102.19 383.03,102.19 387.10,102.20 391.18,102.21 395.25,102.22 399.32,102.23 403.39,102.24 407.46,102.25 411.54,102.27 415.61,102.28 419.68,102.30 423.75,102.32 427.82,102.34 431.90,102.36 435.97,102.39 440.04,102.41 444.11,102.44 448.18,102.46 452.26,102.49 456.33,102.52 460.40,102.56 464.47,102.59 468.54,102.63 472.62,102.66 476.69,102.70 480.76,102.74 484.83,102.78 488.90,102.82 492.98,102.86 497.05,102.91 501.12,102.96 505.19,103.00 509.26,103.05 513.34,103.10 517.41,103.16 521.48,103.21 525.55,103.26 529.62,103.32 533.70,103.38 537.77,103.44 541.84,103.50 545.91,103.56 549.98,103.62 554.06,103.69 558.13,103.75 562.20,103.82 566.27,103.89 570.34,103.96 574.42,104.03 578.49,104.11 582.56,104.18 586.63,104.26 590.70,104.43 594.78,104.60 598.85,104.84 602.92,105.09 606.99,105.61 611.06,106.12 615.14,106.61 619.21,107.09 623.28,107.68 627.35,108.27 631.42,109.03 635.50,109.79 639.57,110.83 643.64,111.87 647.71,113.74 651.78,115.60 655.86,118.51 659.93,121.42 664.00,125.05 668.07,128.68 672.14,133.11" fill="none" stroke="#CC9900" stroke-width="1.6" stroke-linejoin="round"/>
<polygon points="53.47,133.80 59.22,130.50 59.22,137.10" fill="#CC9900"/><polygon points="61.62,125.71 67.37,122.41 67.37,129.01" fill="#CC9900"/><polygon points="69.76,118.51 75.51,115.21 75.51,121.81" fill="#CC9900"/><polygon points="77.90,113.94 83.65,110.64 83.65,117.24" fill="#CC9900"/><polygon points="86.05,111.18 91.80,107.88 91.80,114.48" fill="#CC9900"/><polygon points="94.19,109.03 99.94,105.73 99.94,112.33" fill="#CC9900"/><polygon points="102.34,107.51 108.09,104.21 108.09,110.81" fill="#CC9900"/><polygon points="110.48,106.33 116.23,103.03 116.23,109.63" fill="#CC9900"/><polygon points="118.62,105.64 124.37,102.34 124.37,108.94" fill="#CC9900"/><polygon points="126.77,104.95 132.52,101.65 132.52,108.25" fill="#CC9900"/><polygon points="134.91,104.60 140.66,101.30 140.66,107.90" fill="#CC9900"/><polygon points="143.06,104.26 148.81,100.96 148.81,107.56" fill="#CC9900"/><polygon points="151.20,104.11 156.95,100.81 156.95,107.41" fill="#CC9900"/><polygon points="159.34,103.96 165.09,100.66 165.09,107.26" fill="#CC9900"/><polygon points="167.49,103.82 173.24,100.52 173.24,107.12" fill="#CC9900"/><polygon points="175.63,103.69 181.38,100.39 181.38,106.99" fill="#CC9900"/><polygon points="183.78,103.56 189.53,100.26 189.53,106.86" fill="#CC9900"/><polygon points="191.92,103.44 197.67,100.14 197.67,106.74" fill="#CC9900"/><polygon points="200.06,103.32 205.81,100.02 205.81,106.62" fill="#CC9900"/><polygon points="208.21,103.21 213.96,99.91 213.96,106.51" fill="#CC9900"/><polygon points="216.35,103.10 222.10,99.80 222.10,106.40" fill="#CC9900"/><polygon points="224.50,103.00 230.25,99.70 230.25,106.30" fill="#CC9900"/><polygon points="232.64,102.91 238.39,99.61 238.39,106.21" fill="#CC9900"/><polygon points="240.78,102.82 246.53,99.52 246.53,106.12" fill="#CC9900"/><polygon points="248.93,102.74 254.68,99.44 254.68,106.04" fill="#CC9900"/><polygon points="257.07,102.66 262.82,99.36 262.82,105.96" fill="#CC9900"/><polygon points="265.22,102.59 270.97,99.29 270.97,105.89" fill="#CC9900"/><polygon points="273.36,102.52 279.11,99.22 279.11,105.82" fill="#CC9900"/><polygon points="281.50,102.46 287.25,99.16 287.25,105.76" fill="#CC9900"/><polygon points="289.65,102.41 295.40,99.11 295.40,105.71" fill="#CC9900"/><polygon points="297.79,102.36 303.54,99.06 303.54,105.66" fill="#CC9900"/><polygon points="305.94,102.32 311.69,99.02 311.69,105.62" fill="#CC9900"/><polygon points="314.08,102.28 319.83,98.98 319.83,105.58" fill="#CC9900"/><polygon points="322.22,102.25 327.97,98.95 327.97,105.55" fill="#CC9900"/><polygon points="330.37,102.23 336.12,98.93 336.12,105.53" fill="#CC9900"/><polygon points="338.51,102.21 344.26,98.91 344.26,105.51" fill="#CC9900"/><polygon points="346.66,102.19 352.41,98.89 352.41,105.49" fill="#CC9900"/><polygon points="354.80,102.18 360.55,98.88 360.55,105.48" fill="#CC9900"/><polygon points="362.94,102.18 368.69,98.88 368.69,105.48" fill="#CC9900"/><polygon points="371.09,102.18 376.84,98.88 376.84,105.48" fill="#CC9900"/><polygon points="379.23,102.19 384.98,98.89 384.98,105.49" fill="#CC9900"/><polygon points="387.38,102.21 393.13,98.91 393.13,105.51" fill="#CC9900"/><polygon points="395.52,102.23 401.27,98.93 401.27,105.53" fill="#CC9900"/><polygon points="403.66,102.25 409.41,98.95 409.41,105.55" fill="#CC9900"/><polygon points="411.81,102.28 417.56,98.98 417.56,105.58" fill="#CC9900"/><polygon points="419.95,102.32 425.70,99.02 425.70,105.62" fill="#CC9900"/><polygon points="428.10,102.36 433.85,99.06 433.85,105.66" fill="#CC9900"/><polygon points="436.24,102.41 441.99,99.11 441.99,105.71" fill="#CC9900"/><polygon points="444.38,102.46 450.13,99.16 450.13,105.76" fill="#CC9900"/><polygon points="452.53,102.52 458.28,99.22 458.28,105.82" fill="#CC9900"/><polygon points="460.67,102.59 466.42,99.29 466.42,105.89" fill="#CC9900"/><polygon points="468.82,102.66 474.57,99.36 474.57,105.96" fill="#CC9900"/><polygon points="476.96,102.74 482.71,99.44 482.71,106.04" fill="#CC9900"/><polygon points="485.10,102.82 490.85,99.52 490.85,106.12" fill="#CC9900"/><polygon points="493.25,102.91 499.00,99.61 499.00,106.21" fill="#CC9900"/><polygon points="501.39,103.00 507.14,99.70 507.14,106.30" fill="#CC9900"/><polygon points="509.54,103.10 515.29,99.80 515.29,106.40" fill="#CC9900"/><polygon points="517.68,103.21 523.43,99.91 523.43,106.51" fill="#CC9900"/><polygon points="525.82,103.32 531.57,100.02 531.57,106.62" fill="#CC9900"/><polygon points="533.97,103.44 539.72,100.14 539.72,106.74" fill="#CC9900"/><polygon points="542.11,103.56 547.86,100.26 547.86,106.86" fill="#CC9900"/><polygon points="550.26,103.69 556.01,100.39 556.01,106.99" fill="#CC9900"/><polygon points="558.40,103.82 564.15,100.52 564.15,107.12" fill="#CC9900"/><polygon points="566.54,103.96 572.29,100.66 572.29,107.26" fill="#CC9900"/><polygon points="574.69,104.11 580.44,100.81 580.44,107.41" fill="#CC9900"/><polygon points="582.83,104.26 588.58,100.96 588.58,107.56" fill="#CC9900"/><polygon points="590.98,104.60 596.73,101.30 596.73,107.90" fill="#CC9900"/><polygon points="599.12,105.09 604.87,101.79 604.87,108.39" fill="#CC9900"/><polygon points="607.26,106.12 613.01,102.82 613.01,109.42" fill="#CC9900"/><polygon points="615.41,107.09 621.16,103.79 621.16,110.39" fill="#CC9900"/><polygon points="623.55,108.27 629.30,104.97 629.30,111.57" fill="#CC9900"/><polygon points="631.70,109.79 637.45,106.49 637.45,113.09" fill="#CC9900"/><polygon points="639.84,111.87 645.59,108.57 645.59,115.17" fill="#CC9900"/><polygon points="647.98,115.60 653.73,112.30 653.73,118.90" fill="#CC9900"/><polygon points="656.13,121.42 661.88,118.12 661.88,124.72" fill="#CC9900"/><polygon points="664.27,128.68 670.02,125.38 670.02,131.98" fill="#CC9900"/><polygon points="668.34,133.11 674.09,129.81 674.09,136.41" fill="#CC9900"/>
<polyline points="53.20,149.18 57.27,144.05 61.34,139.38 65.42,134.70 69.49,130.55 73.56,126.40 77.63,123.74 81.70,121.07 85.78,119.79 89.85,118.51 93.92,117.75 97.99,116.99 102.06,116.85 106.14,116.71 110.21,116.71 114.28,116.71 118.35,116.71 122.42,116.71 126.50,116.71 130.57,116.71 134.64,116.71 138.71,116.71 142.78,116.71 146.86,116.71 150.93,116.59 155.00,116.46 159.07,116.34 163.14,116.22 167.22,116.10 171.29,115.99 175.36,115.87 179.43,115.76 183.50,115.66 187.58,115.55 191.65,115.45 195.72,115.35 199.79,115.25 203.86,115.15 207.94,115.06 212.01,114.97 216.08,114.88 220.15,114.79 224.22,114.71 228.30,114.62 232.37,114.55 236.44,114.47 240.51,114.39 244.58,114.32 248.66,114.25 252.73,114.18 256.80,114.12 260.87,114.05 264.94,113.99 269.02,113.94 273.09,113.88 277.16,113.83 281.23,113.78 285.30,113.73 289.38,113.68 293.45,113.64 297.52,113.60 301.59,113.56 305.66,113.52 309.74,113.48 313.81,113.45 317.88,113.42 321.95,113.40 326.02,113.37 330.10,113.35 334.17,113.33 338.24,113.31 342.31,113.29 346.38,113.28 350.46,113.27 354.53,113.26 358.60,113.26 362.67,113.25 366.74,113.25 370.82,113.25 374.89,113.26 378.96,113.26 383.03,113.27 387.10,113.28 391.18,113.29 395.25,113.30 399.32,113.32 403.39,113.34 407.46,113.36 411.54,113.38 415.61,113.40 419.68,113.43 423.75,113.46 427.82,113.49 431.90,113.52 435.97,113.55 440.04,113.59 444.11,113.63 448.18,113.67 452.26,113.71 456.33,113.76 460.40,113.81 464.47,113.85 468.54,113.91 472.62,113.96 476.69,114.01 480.76,114.07 484.83,114.13 488.90,114.19 492.98,114.26 497.05,114.32 501.12,114.39 505.19,114.46 509.26,114.53 513.34,114.61 517.41,114.68 521.48,114.76 525.55,114.84 529.62,114.92 533.70,115.01 537.77,115.09 541.84,115.18 545.91,115.27 549.98,115.37 554.06,115.46 558.13,115.56 562.20,115.66 566.27,115.76 570.34,115.86 574.42,115.97 578.49,116.08 582.56,116.19 586.63,116.30 590.70,116.30 594.78,116.30 598.85,116.30 602.92,116.30 606.99,116.30 611.06,116.30 615.14,116.30 619.21,116.30 623.28,116.50 627.35,116.71 631.42,117.27 635.50,117.82 639.57,118.89 643.64,119.96 647.71,121.80 651.78,123.63 655.86,127.26 659.93,130.90 664.00,135.29 668.07,139.69 672.14,143.56" fill="none" stroke="#00CBCC" stroke-width="1.6" stroke-linejoin="round" stroke-dasharray="4.3 2.6"/>
<polygon points="61.07,144.05 55.32,140.75 55.32,147.35" fill="#00CBCC"/><polygon points="69.22,134.70 63.47,131.40 63.47,138.00" fill="#00CBCC"/><polygon points="77.36,126.40 71.61,123.10 71.61,129.70" fill="#00CBCC"/><polygon points="85.50,121.07 79.75,117.77 79.75,124.37" fill="#00CBCC"/><polygon points="93.65,118.51 87.90,115.21 87.90,121.81" fill="#00CBCC"/><polygon points="101.79,116.99 96.04,113.69 96.04,120.29" fill="#00CBCC"/><polygon points="109.94,116.71 104.19,113.41 104.19,120.01" fill="#00CBCC"/><polygon points="118.08,116.71 112.33,113.41 112.33,120.01" fill="#00CBCC"/><polygon points="126.22,116.71 120.47,113.41 120.47,120.01" fill="#00CBCC"/><polygon points="134.37,116.71 128.62,113.41 128.62,120.01" fill="#00CBCC"/><polygon points="142.51,116.71 136.76,113.41 136.76,120.01" fill="#00CBCC"/><polygon points="150.66,116.71 144.91,113.41 144.91,120.01" fill="#00CBCC"/><polygon points="158.80,116.46 153.05,113.16 153.05,119.76" fill="#00CBCC"/><polygon points="166.94,116.22 161.19,112.92 161.19,119.52" fill="#00CBCC"/><polygon points="175.09,115.99 169.34,112.69 169.34,119.29" fill="#00CBCC"/><polygon points="183.23,115.76 177.48,112.46 177.48,119.06" fill="#00CBCC"/><polygon points="191.38,115.55 185.63,112.25 185.63,118.85" fill="#00CBCC"/><polygon points="199.52,115.35 193.77,112.05 193.77,118.65" fill="#00CBCC"/><polygon points="207.66,115.15 201.91,111.85 201.91,118.45" fill="#00CBCC"/><polygon points="215.81,114.97 210.06,111.67 210.06,118.27" fill="#00CBCC"/><polygon points="223.95,114.79 218.20,111.49 218.20,118.09" fill="#00CBCC"/><polygon points="232.10,114.62 226.35,111.32 226.35,117.92" fill="#00CBCC"/><polygon points="240.24,114.47 234.49,111.17 234.49,117.77" fill="#00CBCC"/><polygon points="248.38,114.32 242.63,111.02 242.63,117.62" fill="#00CBCC"/><polygon points="256.53,114.18 250.78,110.88 250.78,117.48" fill="#00CBCC"/><polygon points="264.67,114.05 258.92,110.75 258.92,117.35" fill="#00CBCC"/><polygon points="272.82,113.94 267.07,110.64 267.07,117.24" fill="#00CBCC"/><polygon points="280.96,113.83 275.21,110.53 275.21,117.13" fill="#00CBCC"/><polygon points="289.10,113.73 283.35,110.43 283.35,117.03" fill="#00CBCC"/><polygon points="297.25,113.64 291.50,110.34 291.50,116.94" fill="#00CBCC"/><polygon points="305.39,113.56 299.64,110.26 299.64,116.86" fill="#00CBCC"/><polygon points="313.54,113.48 307.79,110.18 307.79,116.78" fill="#00CBCC"/><polygon points="321.68,113.42 315.93,110.12 315.93,116.72" fill="#00CBCC"/><polygon points="329.82,113.37 324.07,110.07 324.07,116.67" fill="#00CBCC"/><polygon points="337.97,113.33 332.22,110.03 332.22,116.63" fill="#00CBCC"/><polygon points="346.11,113.29 340.36,109.99 340.36,116.59" fill="#00CBCC"/><polygon points="354.26,113.27 348.51,109.97 348.51,116.57" fill="#00CBCC"/><polygon points="362.40,113.26 356.65,109.96 356.65,116.56" fill="#00CBCC"/><polygon points="370.54,113.25 364.79,109.95 364.79,116.55" fill="#00CBCC"/><polygon points="378.69,113.26 372.94,109.96 372.94,116.56" fill="#00CBCC"/><polygon points="386.83,113.27 381.08,109.97 381.08,116.57" fill="#00CBCC"/><polygon points="394.98,113.29 389.23,109.99 389.23,116.59" fill="#00CBCC"/><polygon points="403.12,113.32 397.37,110.02 397.37,116.62" fill="#00CBCC"/><polygon points="411.26,113.36 405.51,110.06 405.51,116.66" fill="#00CBCC"/><polygon points="419.41,113.40 413.66,110.10 413.66,116.70" fill="#00CBCC"/><polygon points="427.55,113.46 421.80,110.16 421.80,116.76" fill="#00CBCC"/><polygon points="435.70,113.52 429.95,110.22 429.95,116.82" fill="#00CBCC"/><polygon points="443.84,113.59 438.09,110.29 438.09,116.89" fill="#00CBCC"/><polygon points="451.98,113.67 446.23,110.37 446.23,116.97" fill="#00CBCC"/><polygon points="460.13,113.76 454.38,110.46 454.38,117.06" fill="#00CBCC"/><polygon points="468.27,113.85 462.52,110.55 462.52,117.15" fill="#00CBCC"/><polygon points="476.42,113.96 470.67,110.66 470.67,117.26" fill="#00CBCC"/><polygon points="484.56,114.07 478.81,110.77 478.81,117.37" fill="#00CBCC"/><polygon points="492.70,114.19 486.95,110.89 486.95,117.49" fill="#00CBCC"/><polygon points="500.85,114.32 495.10,111.02 495.10,117.62" fill="#00CBCC"/><polygon points="508.99,114.46 503.24,111.16 503.24,117.76" fill="#00CBCC"/><polygon points="517.14,114.61 511.39,111.31 511.39,117.91" fill="#00CBCC"/><polygon points="525.28,114.76 519.53,111.46 519.53,118.06" fill="#00CBCC"/><polygon points="533.42,114.92 527.67,111.62 527.67,118.22" fill="#00CBCC"/><polygon points="541.57,115.09 535.82,111.79 535.82,118.39" fill="#00CBCC"/><polygon points="549.71,115.27 543.96,111.97 543.96,118.57" fill="#00CBCC"/><polygon points="557.86,115.46 552.11,112.16 552.11,118.76" fill="#00CBCC"/><polygon points="566.00,115.66 560.25,112.36 560.25,118.96" fill="#00CBCC"/><polygon points="574.14,115.86 568.39,112.56 568.39,119.16" fill="#00CBCC"/><polygon points="582.29,116.08 576.54,112.78 576.54,119.38" fill="#00CBCC"/><polygon points="590.43,116.30 584.68,113.00 584.68,119.60" fill="#00CBCC"/><polygon points="598.58,116.30 592.83,113.00 592.83,119.60" fill="#00CBCC"/><polygon points="606.72,116.30 600.97,113.00 600.97,119.60" fill="#00CBCC"/><polygon points="614.86,116.30 609.11,113.00 609.11,119.60" fill="#00CBCC"/><polygon points="623.01,116.30 617.26,113.00 617.26,119.60" fill="#00CBCC"/><polygon points="631.15,116.71 625.40,113.41 625.40,120.01" fill="#00CBCC"/><polygon points="639.30,117.82 633.55,114.52 633.55,121.12" fill="#00CBCC"/><polygon points="647.44,119.96 641.69,116.66 641.69,123.26" fill="#00CBCC"/><polygon points="655.58,123.63 649.83,120.33 649.83,126.93" fill="#00CBCC"/><polygon points="663.73,130.90 657.98,127.60 657.98,134.20" fill="#00CBCC"/><polygon points="671.87,139.69 666.12,136.39 666.12,142.99" fill="#00CBCC"/><polygon points="675.94,143.56 670.19,140.26 670.19,146.86" fill="#00CBCC"/>
</g>
<rect x="91.40" y="199.24" width="392.30" height="36.89" fill="#fff" stroke="#000" stroke-width="1.2"/>
<line x1="92.30" y1="209.27" x2="125.50" y2="209.27" stroke="#515151" stroke-width="1.45"/>
<rect x="106.20" y="206.72" width="5.10" height="5.10" fill="#515151"/>
<text x="128.90" y="213.67" font-size="14">Element 1</text>
<line x1="189.70" y1="209.27" x2="222.90" y2="209.27" stroke="#F14040" stroke-width="1.6"/>
<circle cx="206.15" cy="209.27" r="2.70" fill="#F14040"/>
<text x="226.30" y="213.67" font-size="14">Element 2</text>
<line x1="287.10" y1="209.27" x2="320.30" y2="209.27" stroke="#1A6FDF" stroke-width="1.6"/>
<polygon points="303.55,205.47 306.85,211.22 300.25,211.22" fill="#1A6FDF"/>
<text x="323.70" y="213.67" font-size="14">Element 3</text>
<line x1="384.50" y1="209.27" x2="417.70" y2="209.27" stroke="#37AD6B" stroke-width="1.6"/>
<polygon points="400.95,213.07 404.25,207.32 397.65,207.32" fill="#37AD6B"/>
<text x="421.10" y="213.67" font-size="14">Element 4</text>
<line x1="92.30" y1="226.65" x2="125.50" y2="226.65" stroke="#B177DE" stroke-width="1.6"/>
<polygon points="108.75,223.25 111.95,226.65 108.75,230.05 105.55,226.65" fill="#B177DE"/>
<text x="128.90" y="231.05" font-size="14">Element 5</text>
<line x1="189.70" y1="226.65" x2="222.90" y2="226.65" stroke="#CC9900" stroke-width="1.6"/>
<polygon points="202.35,226.65 208.10,223.35 208.10,229.95" fill="#CC9900"/>
<text x="226.30" y="231.05" font-size="14">Element 6</text>
<line x1="287.10" y1="226.65" x2="320.30" y2="226.65" stroke="#00CBCC" stroke-width="1.6" stroke-dasharray="4.3 2.6"/>
<polygon points="307.35,226.65 301.60,223.35 301.60,229.95" fill="#00CBCC"/>
<text x="323.70" y="231.05" font-size="14">Average</text>
<rect x="53.30" y="5.40" width="631.00" height="241.90" fill="none" stroke="#000" stroke-width="1.3"/>
<text x="44.8" y="10.45" font-size="16.3" text-anchor="end">5</text>
<text x="44.8" y="45.05" font-size="16.3" text-anchor="end">0</text>
<text x="44.8" y="79.65" font-size="16.3" text-anchor="end">-5</text>
<text x="44.8" y="114.25" font-size="16.3" text-anchor="end">-10</text>
<text x="44.8" y="148.85" font-size="16.3" text-anchor="end">-15</text>
<text x="44.8" y="183.45" font-size="16.3" text-anchor="end">-20</text>
<text x="44.8" y="218.05" font-size="16.3" text-anchor="end">-25</text>
<text x="44.8" y="252.65" font-size="16.3" text-anchor="end">-30</text>
<path d="M73.43 247.30v-3.6M93.81 247.30v-7M114.19 247.30v-3.6M134.57 247.30v-7M154.95 247.30v-3.6M175.33 247.30v-7M195.71 247.30v-3.6M216.09 247.30v-7M236.47 247.30v-3.6M256.85 247.30v-7M277.23 247.30v-3.6M297.61 247.30v-7M317.99 247.30v-3.6M338.37 247.30v-7M358.75 247.30v-3.6M379.13 247.30v-7M399.51 247.30v-3.6M419.89 247.30v-7M440.27 247.30v-3.6M460.65 247.30v-7M481.03 247.30v-3.6M501.41 247.30v-7M521.79 247.30v-3.6M542.17 247.30v-7M562.55 247.30v-3.6M582.93 247.30v-7M603.31 247.30v-3.6M623.69 247.30v-7M644.07 247.30v-3.6M664.45 247.30v-7M53.30 22.60h4M53.30 39.90h7.4M53.30 57.20h4M53.30 74.50h7.4M53.30 91.80h4M53.30 109.10h7.4M53.30 126.40h4M53.30 143.70h7.4M53.30 161.00h4M53.30 178.30h7.4M53.30 195.60h4M53.30 212.90h7.4M53.30 230.20h4" stroke="#000" stroke-width="1.3" fill="none"/>
<text transform="translate(14.8 126.35) rotate(-90)" font-size="20.45" text-anchor="middle">Stress (MPa)</text>
<text x="368.8" y="271.20" font-size="20.5" text-anchor="middle">Position</text>
<text x="340" y="296.10" font-size="20" text-anchor="middle">(a)</text><path d="M93.81 311.00V552.90" stroke="#808080" stroke-opacity="0.23" stroke-width="0.85" stroke-dasharray="2.8 1.9" fill="none"/>
<path d="M134.57 311.00V552.90" stroke="#808080" stroke-opacity="0.54" stroke-width="0.85" stroke-dasharray="2.8 1.9" fill="none"/>
<path d="M175.33 311.00V552.90" stroke="#808080" stroke-opacity="0.81" stroke-width="0.85" stroke-dasharray="2.8 1.9" fill="none"/>
<path d="M216.09 311.00V552.90" stroke="#808080" stroke-opacity="0.81" stroke-width="0.85" stroke-dasharray="2.8 1.9" fill="none"/>
<path d="M256.85 311.00V552.90" stroke="#808080" stroke-opacity="0.27" stroke-width="0.85" stroke-dasharray="2.8 1.9" fill="none"/>
<path d="M297.61 311.00V552.90" stroke="#808080" stroke-opacity="0.63" stroke-width="0.85" stroke-dasharray="2.8 1.9" fill="none"/>
<path d="M338.37 311.00V552.90" stroke="#808080" stroke-opacity="0.81" stroke-width="0.85" stroke-dasharray="2.8 1.9" fill="none"/>
<path d="M379.13 311.00V552.90" stroke="#808080" stroke-opacity="0.54" stroke-width="0.85" stroke-dasharray="2.8 1.9" fill="none"/>
<path d="M419.89 311.00V552.90" stroke="#808080" stroke-opacity="0.36" stroke-width="0.85" stroke-dasharray="2.8 1.9" fill="none"/>
<path d="M460.65 311.00V552.90" stroke="#808080" stroke-opacity="0.68" stroke-width="0.85" stroke-dasharray="2.8 1.9" fill="none"/>
<path d="M501.41 311.00V552.90" stroke="#808080" stroke-opacity="0.54" stroke-width="0.85" stroke-dasharray="2.8 1.9" fill="none"/>
<path d="M542.17 311.00V552.90" stroke="#808080" stroke-opacity="0.38" stroke-width="0.85" stroke-dasharray="2.8 1.9" fill="none"/>
<path d="M582.93 311.00V552.90" stroke="#808080" stroke-opacity="0.18" stroke-width="0.85" stroke-dasharray="2.8 1.9" fill="none"/>
<path d="M623.69 311.00V552.90" stroke="#808080" stroke-opacity="0.81" stroke-width="0.85" stroke-dasharray="2.8 1.9" fill="none"/>
<path d="M664.45 311.00V552.90" stroke="#808080" stroke-opacity="0.41" stroke-width="0.85" stroke-dasharray="2.8 1.9" fill="none"/>
<path d="M53.30 345.35H684.30" stroke="#808080" stroke-opacity="0.54" stroke-width="0.85" stroke-dasharray="2.8 1.9" fill="none"/>
<path d="M53.30 379.95H684.30" stroke="#808080" stroke-opacity="0.77" stroke-width="0.85" stroke-dasharray="2.8 1.9" fill="none"/>
<path d="M53.30 414.55H684.30" stroke="#808080" stroke-opacity="0.54" stroke-width="0.85" stroke-dasharray="2.8 1.9" fill="none"/>
<path d="M53.30 449.15H684.30" stroke="#808080" stroke-opacity="0.54" stroke-width="0.85" stroke-dasharray="2.8 1.9" fill="none"/>
<path d="M53.30 483.75H684.30" stroke="#808080" stroke-opacity="0.54" stroke-width="0.85" stroke-dasharray="2.8 1.9" fill="none"/>
<path d="M53.30 518.35H684.30" stroke="#808080" stroke-opacity="0.77" stroke-width="0.85" stroke-dasharray="2.8 1.9" fill="none"/>
<g clip-path="url(#clip1)">
<polyline points="53.20,388.53 57.27,388.53 61.34,343.83 65.42,343.41 69.49,332.89 73.56,336.98 77.63,337.60 81.70,342.79 85.78,354.76 89.85,357.39 93.92,350.40 97.99,348.95 102.06,354.76 106.14,359.54 110.21,375.11 114.28,391.44 118.35,388.95 122.42,385.35 126.50,383.89 130.57,383.41 134.64,383.41 138.71,383.41 142.78,383.41 146.86,383.41 150.93,383.41 155.00,383.41 159.07,383.76 163.14,384.10 167.22,384.45 171.29,384.79 175.36,385.24 179.43,385.69 183.50,386.49 187.58,387.29 191.65,382.72 195.72,372.13 199.79,367.49 203.86,368.67 207.94,376.84 212.01,378.43 216.08,368.67 220.15,367.01 224.22,372.13 228.30,381.96 232.37,383.83 236.44,382.65 240.51,382.30 244.58,381.96 248.66,381.96 252.73,381.96 256.80,382.30 260.87,382.65 264.94,383.38 269.02,384.10 273.09,386.18 277.16,388.95 281.23,396.28 285.30,404.31 289.38,374.41 293.45,344.87 297.52,339.47 301.59,335.80 305.66,337.25 309.74,336.56 313.81,343.14 317.88,350.40 321.95,373.72 326.02,397.80 330.10,373.03 334.17,379.53 338.24,376.49 342.31,355.94 346.38,354.07 350.46,352.55 354.53,367.91 358.60,386.11 362.67,385.00 366.74,377.32 370.82,368.67 374.89,366.32 378.96,373.31 383.03,381.96 387.10,383.83 391.18,384.31 395.25,384.66 399.32,385.00 403.39,385.00 407.46,385.00 411.54,385.35 415.61,385.69 419.68,386.18 423.75,384.31 427.82,372.34 431.90,368.19 435.97,370.95 440.04,379.12 444.11,377.53 448.18,368.67 452.26,368.67 456.33,372.13 460.40,382.65 464.47,386.18 468.54,385.00 472.62,383.83 476.69,383.24 480.76,382.65 484.83,382.41 488.90,382.16 492.98,382.75 497.05,383.34 501.12,384.31 505.19,386.87 509.26,391.23 513.34,397.80 517.41,410.19 521.48,380.99 525.55,348.95 529.62,341.34 533.70,340.92 537.77,343.41 541.84,344.24 545.91,344.59 549.98,344.59 554.06,344.59 558.13,344.59 562.20,344.59 566.27,344.59 570.34,344.59 574.42,344.59 578.49,344.59 582.56,341.61 586.63,338.22 590.70,338.91 594.78,347.63 598.85,351.09 602.92,351.58 606.99,357.67 611.06,368.60 615.14,386.11 619.21,384.66 623.28,369.36 627.35,365.00 631.42,369.36 635.50,382.16 639.57,383.62 643.64,383.20 647.71,384.24 651.78,385.35 655.86,387.56 659.93,389.78 664.00,392.68 668.07,395.31 672.14,397.04" fill="none" stroke="#515151" stroke-width="1.45" stroke-linejoin="round"/>
<rect x="54.72" y="385.98" width="5.10" height="5.10" fill="#515151"/><rect x="62.87" y="340.86" width="5.10" height="5.10" fill="#515151"/><rect x="71.01" y="334.43" width="5.10" height="5.10" fill="#515151"/><rect x="79.15" y="340.24" width="5.10" height="5.10" fill="#515151"/><rect x="87.30" y="354.84" width="5.10" height="5.10" fill="#515151"/><rect x="95.44" y="346.40" width="5.10" height="5.10" fill="#515151"/><rect x="103.59" y="356.99" width="5.10" height="5.10" fill="#515151"/><rect x="111.73" y="388.89" width="5.10" height="5.10" fill="#515151"/><rect x="119.87" y="382.80" width="5.10" height="5.10" fill="#515151"/><rect x="128.02" y="380.86" width="5.10" height="5.10" fill="#515151"/><rect x="136.16" y="380.86" width="5.10" height="5.10" fill="#515151"/><rect x="144.31" y="380.86" width="5.10" height="5.10" fill="#515151"/><rect x="152.45" y="380.86" width="5.10" height="5.10" fill="#515151"/><rect x="160.59" y="381.55" width="5.10" height="5.10" fill="#515151"/><rect x="168.74" y="382.24" width="5.10" height="5.10" fill="#515151"/><rect x="176.88" y="383.14" width="5.10" height="5.10" fill="#515151"/><rect x="185.03" y="384.74" width="5.10" height="5.10" fill="#515151"/><rect x="193.17" y="369.58" width="5.10" height="5.10" fill="#515151"/><rect x="201.31" y="366.12" width="5.10" height="5.10" fill="#515151"/><rect x="209.46" y="375.88" width="5.10" height="5.10" fill="#515151"/><rect x="217.60" y="364.46" width="5.10" height="5.10" fill="#515151"/><rect x="225.75" y="379.41" width="5.10" height="5.10" fill="#515151"/><rect x="233.89" y="380.10" width="5.10" height="5.10" fill="#515151"/><rect x="242.03" y="379.41" width="5.10" height="5.10" fill="#515151"/><rect x="250.18" y="379.41" width="5.10" height="5.10" fill="#515151"/><rect x="258.32" y="380.10" width="5.10" height="5.10" fill="#515151"/><rect x="266.47" y="381.55" width="5.10" height="5.10" fill="#515151"/><rect x="274.61" y="386.40" width="5.10" height="5.10" fill="#515151"/><rect x="282.75" y="401.76" width="5.10" height="5.10" fill="#515151"/><rect x="290.90" y="342.32" width="5.10" height="5.10" fill="#515151"/><rect x="299.04" y="333.25" width="5.10" height="5.10" fill="#515151"/><rect x="307.19" y="334.01" width="5.10" height="5.10" fill="#515151"/><rect x="315.33" y="347.85" width="5.10" height="5.10" fill="#515151"/><rect x="323.47" y="395.25" width="5.10" height="5.10" fill="#515151"/><rect x="331.62" y="376.98" width="5.10" height="5.10" fill="#515151"/><rect x="339.76" y="353.39" width="5.10" height="5.10" fill="#515151"/><rect x="347.91" y="350.00" width="5.10" height="5.10" fill="#515151"/><rect x="356.05" y="383.56" width="5.10" height="5.10" fill="#515151"/><rect x="364.19" y="374.77" width="5.10" height="5.10" fill="#515151"/><rect x="372.34" y="363.77" width="5.10" height="5.10" fill="#515151"/><rect x="380.48" y="379.41" width="5.10" height="5.10" fill="#515151"/><rect x="388.63" y="381.76" width="5.10" height="5.10" fill="#515151"/><rect x="396.77" y="382.45" width="5.10" height="5.10" fill="#515151"/><rect x="404.91" y="382.45" width="5.10" height="5.10" fill="#515151"/><rect x="413.06" y="383.14" width="5.10" height="5.10" fill="#515151"/><rect x="421.20" y="381.76" width="5.10" height="5.10" fill="#515151"/><rect x="429.35" y="365.64" width="5.10" height="5.10" fill="#515151"/><rect x="437.49" y="376.57" width="5.10" height="5.10" fill="#515151"/><rect x="445.63" y="366.12" width="5.10" height="5.10" fill="#515151"/><rect x="453.78" y="369.58" width="5.10" height="5.10" fill="#515151"/><rect x="461.92" y="383.63" width="5.10" height="5.10" fill="#515151"/><rect x="470.07" y="381.28" width="5.10" height="5.10" fill="#515151"/><rect x="478.21" y="380.10" width="5.10" height="5.10" fill="#515151"/><rect x="486.35" y="379.61" width="5.10" height="5.10" fill="#515151"/><rect x="494.50" y="380.79" width="5.10" height="5.10" fill="#515151"/><rect x="502.64" y="384.32" width="5.10" height="5.10" fill="#515151"/><rect x="510.79" y="395.25" width="5.10" height="5.10" fill="#515151"/><rect x="518.93" y="378.44" width="5.10" height="5.10" fill="#515151"/><rect x="527.07" y="338.79" width="5.10" height="5.10" fill="#515151"/><rect x="535.22" y="340.86" width="5.10" height="5.10" fill="#515151"/><rect x="543.36" y="342.04" width="5.10" height="5.10" fill="#515151"/><rect x="551.51" y="342.04" width="5.10" height="5.10" fill="#515151"/><rect x="559.65" y="342.04" width="5.10" height="5.10" fill="#515151"/><rect x="567.79" y="342.04" width="5.10" height="5.10" fill="#515151"/><rect x="575.94" y="342.04" width="5.10" height="5.10" fill="#515151"/><rect x="584.08" y="335.67" width="5.10" height="5.10" fill="#515151"/><rect x="592.23" y="345.08" width="5.10" height="5.10" fill="#515151"/><rect x="600.37" y="349.03" width="5.10" height="5.10" fill="#515151"/><rect x="608.51" y="366.05" width="5.10" height="5.10" fill="#515151"/><rect x="616.66" y="382.11" width="5.10" height="5.10" fill="#515151"/><rect x="624.80" y="362.45" width="5.10" height="5.10" fill="#515151"/><rect x="632.95" y="379.61" width="5.10" height="5.10" fill="#515151"/><rect x="641.09" y="380.65" width="5.10" height="5.10" fill="#515151"/><rect x="649.23" y="382.80" width="5.10" height="5.10" fill="#515151"/><rect x="657.38" y="387.23" width="5.10" height="5.10" fill="#515151"/><rect x="665.52" y="392.76" width="5.10" height="5.10" fill="#515151"/><rect x="669.59" y="394.49" width="5.10" height="5.10" fill="#515151"/>
<polyline points="53.20,513.51 57.27,513.51 61.34,382.72 65.42,366.39 69.49,353.31 73.56,340.92 77.63,347.43 81.70,351.85 85.78,434.62 89.85,460.64 93.92,368.60 97.99,380.99 102.06,375.87 106.14,404.31 110.21,438.77 114.28,456.07 118.35,440.85 122.42,436.69 126.50,433.65 130.57,432.20 134.64,432.51 138.71,432.82 142.78,432.51 146.86,432.20 150.93,432.27 155.00,432.33 159.07,432.33 163.14,432.33 167.22,432.58 171.29,432.82 175.36,433.37 179.43,433.93 183.50,435.45 187.58,436.97 191.65,430.47 195.72,421.12 199.79,412.27 203.86,413.65 207.94,430.81 212.01,431.50 216.08,416.49 220.15,411.09 224.22,419.95 228.30,432.82 232.37,431.85 236.44,430.47 240.51,429.88 244.58,429.29 248.66,428.94 252.73,428.60 256.80,429.29 260.87,429.98 264.94,431.61 269.02,433.23 273.09,438.08 277.16,444.31 281.23,458.15 285.30,485.83 289.38,418.70 293.45,356.49 297.52,343.83 301.59,340.16 305.66,339.47 309.74,343.41 313.81,353.31 317.88,376.91 321.95,442.23 326.02,477.31 330.10,421.95 334.17,433.58 338.24,448.18 342.31,377.67 346.38,357.67 350.46,364.24 354.53,392.68 358.60,448.18 362.67,436.69 366.74,429.29 370.82,417.66 374.89,410.61 378.96,419.95 383.03,430.47 387.10,432.82 391.18,433.23 395.25,433.23 399.32,433.23 403.39,433.58 407.46,433.93 411.54,435.10 415.61,436.28 419.68,436.83 423.75,437.39 427.82,425.76 431.90,412.96 435.97,419.95 440.04,434.62 444.11,431.16 448.18,417.32 452.26,413.51 456.33,420.09 460.40,433.93 464.47,436.28 468.54,432.82 472.62,431.64 476.69,431.05 480.76,430.47 484.83,430.47 488.90,430.47 492.98,431.05 497.05,431.64 501.12,434.41 505.19,439.46 509.26,449.01 513.34,457.73 517.41,495.51 521.48,464.37 525.55,375.11 529.62,363.48 533.70,340.16 537.77,334.35 541.84,338.01 545.91,340.16 549.98,341.61 554.06,343.41 558.13,343.41 562.20,343.41 566.27,341.61 570.34,340.16 574.42,335.80 578.49,335.80 582.56,331.51 586.63,349.64 590.70,372.34 594.78,397.04 598.85,439.46 602.92,413.86 606.99,418.01 611.06,427.70 615.14,451.92 619.21,442.92 623.28,424.93 627.35,407.63 631.42,414.55 635.50,435.79 639.57,434.34 643.64,435.03 647.71,436.49 651.78,438.77 655.86,442.92 659.93,448.18 664.00,454.69 668.07,460.57 672.14,464.24" fill="none" stroke="#F14040" stroke-width="1.6" stroke-linejoin="round"/>
<circle cx="57.27" cy="513.51" r="2.70" fill="#F14040"/><circle cx="65.42" cy="366.39" r="2.70" fill="#F14040"/><circle cx="73.56" cy="340.92" r="2.70" fill="#F14040"/><circle cx="81.70" cy="351.85" r="2.70" fill="#F14040"/><circle cx="89.85" cy="460.64" r="2.70" fill="#F14040"/><circle cx="97.99" cy="380.99" r="2.70" fill="#F14040"/><circle cx="106.14" cy="404.31" r="2.70" fill="#F14040"/><circle cx="114.28" cy="456.07" r="2.70" fill="#F14040"/><circle cx="122.42" cy="436.69" r="2.70" fill="#F14040"/><circle cx="130.57" cy="432.20" r="2.70" fill="#F14040"/><circle cx="138.71" cy="432.82" r="2.70" fill="#F14040"/><circle cx="146.86" cy="432.20" r="2.70" fill="#F14040"/><circle cx="155.00" cy="432.33" r="2.70" fill="#F14040"/><circle cx="163.14" cy="432.33" r="2.70" fill="#F14040"/><circle cx="171.29" cy="432.82" r="2.70" fill="#F14040"/><circle cx="179.43" cy="433.93" r="2.70" fill="#F14040"/><circle cx="187.58" cy="436.97" r="2.70" fill="#F14040"/><circle cx="195.72" cy="421.12" r="2.70" fill="#F14040"/><circle cx="203.86" cy="413.65" r="2.70" fill="#F14040"/><circle cx="212.01" cy="431.50" r="2.70" fill="#F14040"/><circle cx="220.15" cy="411.09" r="2.70" fill="#F14040"/><circle cx="228.30" cy="432.82" r="2.70" fill="#F14040"/><circle cx="236.44" cy="430.47" r="2.70" fill="#F14040"/><circle cx="244.58" cy="429.29" r="2.70" fill="#F14040"/><circle cx="252.73" cy="428.60" r="2.70" fill="#F14040"/><circle cx="260.87" cy="429.98" r="2.70" fill="#F14040"/><circle cx="269.02" cy="433.23" r="2.70" fill="#F14040"/><circle cx="277.16" cy="444.31" r="2.70" fill="#F14040"/><circle cx="285.30" cy="485.83" r="2.70" fill="#F14040"/><circle cx="293.45" cy="356.49" r="2.70" fill="#F14040"/><circle cx="301.59" cy="340.16" r="2.70" fill="#F14040"/><circle cx="309.74" cy="343.41" r="2.70" fill="#F14040"/><circle cx="317.88" cy="376.91" r="2.70" fill="#F14040"/><circle cx="326.02" cy="477.31" r="2.70" fill="#F14040"/><circle cx="334.17" cy="433.58" r="2.70" fill="#F14040"/><circle cx="342.31" cy="377.67" r="2.70" fill="#F14040"/><circle cx="350.46" cy="364.24" r="2.70" fill="#F14040"/><circle cx="358.60" cy="448.18" r="2.70" fill="#F14040"/><circle cx="366.74" cy="429.29" r="2.70" fill="#F14040"/><circle cx="374.89" cy="410.61" r="2.70" fill="#F14040"/><circle cx="383.03" cy="430.47" r="2.70" fill="#F14040"/><circle cx="391.18" cy="433.23" r="2.70" fill="#F14040"/><circle cx="399.32" cy="433.23" r="2.70" fill="#F14040"/><circle cx="407.46" cy="433.93" r="2.70" fill="#F14040"/><circle cx="415.61" cy="436.28" r="2.70" fill="#F14040"/><circle cx="423.75" cy="437.39" r="2.70" fill="#F14040"/><circle cx="431.90" cy="412.96" r="2.70" fill="#F14040"/><circle cx="440.04" cy="434.62" r="2.70" fill="#F14040"/><circle cx="448.18" cy="417.32" r="2.70" fill="#F14040"/><circle cx="456.33" cy="420.09" r="2.70" fill="#F14040"/><circle cx="464.47" cy="436.28" r="2.70" fill="#F14040"/><circle cx="472.62" cy="431.64" r="2.70" fill="#F14040"/><circle cx="480.76" cy="430.47" r="2.70" fill="#F14040"/><circle cx="488.90" cy="430.47" r="2.70" fill="#F14040"/><circle cx="497.05" cy="431.64" r="2.70" fill="#F14040"/><circle cx="505.19" cy="439.46" r="2.70" fill="#F14040"/><circle cx="513.34" cy="457.73" r="2.70" fill="#F14040"/><circle cx="521.48" cy="464.37" r="2.70" fill="#F14040"/><circle cx="529.62" cy="363.48" r="2.70" fill="#F14040"/><circle cx="537.77" cy="334.35" r="2.70" fill="#F14040"/><circle cx="545.91" cy="340.16" r="2.70" fill="#F14040"/><circle cx="554.06" cy="343.41" r="2.70" fill="#F14040"/><circle cx="562.20" cy="343.41" r="2.70" fill="#F14040"/><circle cx="570.34" cy="340.16" r="2.70" fill="#F14040"/><circle cx="578.49" cy="335.80" r="2.70" fill="#F14040"/><circle cx="586.63" cy="349.64" r="2.70" fill="#F14040"/><circle cx="594.78" cy="397.04" r="2.70" fill="#F14040"/><circle cx="602.92" cy="413.86" r="2.70" fill="#F14040"/><circle cx="611.06" cy="427.70" r="2.70" fill="#F14040"/><circle cx="619.21" cy="442.92" r="2.70" fill="#F14040"/><circle cx="627.35" cy="407.63" r="2.70" fill="#F14040"/><circle cx="635.50" cy="435.79" r="2.70" fill="#F14040"/><circle cx="643.64" cy="435.03" r="2.70" fill="#F14040"/><circle cx="651.78" cy="438.77" r="2.70" fill="#F14040"/><circle cx="659.93" cy="448.18" r="2.70" fill="#F14040"/><circle cx="668.07" cy="460.57" r="2.70" fill="#F14040"/><circle cx="672.14" cy="464.24" r="2.70" fill="#F14040"/>
<polyline points="53.20,527.35 57.27,527.35 61.34,459.18 65.42,375.18 69.49,370.26 73.56,355.04 77.63,369.36 81.70,389.78 85.78,469.22 89.85,509.35 93.92,448.94 97.99,451.92 102.06,455.38 106.14,472.33 110.21,456.07 114.28,444.31 118.35,436.00 122.42,432.20 126.50,429.77 130.57,429.29 134.64,429.01 138.71,428.74 142.78,428.60 146.86,428.46 150.93,428.32 155.00,428.18 159.07,428.10 163.14,428.01 167.22,427.92 171.29,427.84 175.36,427.77 179.43,427.70 183.50,427.91 187.58,428.11 191.65,433.93 195.72,443.27 199.79,446.80 203.86,445.69 207.94,441.54 212.01,440.85 216.08,445.00 220.15,445.69 224.22,439.81 228.30,430.47 232.37,425.62 236.44,424.65 240.51,424.10 244.58,423.55 248.66,423.55 252.73,423.55 256.80,423.82 260.87,424.10 264.94,425.55 269.02,427.01 273.09,431.16 277.16,436.69 281.23,448.18 285.30,466.45 289.38,427.01 293.45,387.56 297.52,343.83 301.59,353.31 305.66,339.47 309.74,348.95 313.81,366.46 317.88,448.18 321.95,500.63 326.02,456.76 330.10,464.37 334.17,453.99 338.24,471.29 342.31,433.58 346.38,383.89 350.46,423.41 354.53,455.38 358.60,445.27 362.67,435.10 366.74,438.77 370.82,444.31 374.89,445.00 378.96,439.81 383.03,431.85 387.10,428.11 391.18,426.31 395.25,426.04 399.32,425.76 403.39,426.38 407.46,427.01 411.54,427.56 415.61,428.11 419.68,430.47 423.75,435.10 427.82,444.31 431.90,450.26 435.97,447.97 440.04,443.61 444.11,446.80 448.18,449.15 452.26,449.15 456.33,445.69 460.40,435.10 464.47,430.47 468.54,429.29 472.62,428.11 476.69,427.91 480.76,427.70 484.83,427.91 488.90,428.11 492.98,428.70 497.05,429.29 501.12,431.50 505.19,435.10 509.26,442.92 513.34,451.92 517.41,466.45 521.48,516.07 525.55,450.53 529.62,371.51 533.70,366.46 537.77,346.73 541.84,338.01 545.91,335.11 549.98,339.47 554.06,336.56 558.13,340.16 562.20,336.56 566.27,340.16 570.34,336.56 574.42,340.16 578.49,345.35 582.56,360.57 586.63,372.34 590.70,386.87 594.78,452.61 598.85,519.73 602.92,476.62 606.99,475.17 611.06,469.22 615.14,458.35 619.21,446.73 623.28,451.09 627.35,449.63 631.42,446.73 635.50,435.79 639.57,431.43 643.64,432.13 647.71,433.58 651.78,436.49 655.86,440.85 659.93,446.73 664.00,453.30 668.07,459.11 672.14,463.47" fill="none" stroke="#1A6FDF" stroke-width="1.6" stroke-linejoin="round"/>
<polygon points="57.27,523.55 60.57,529.30 53.97,529.30" fill="#1A6FDF"/><polygon points="65.42,371.38 68.72,377.13 62.12,377.13" fill="#1A6FDF"/><polygon points="73.56,351.24 76.86,356.99 70.26,356.99" fill="#1A6FDF"/><polygon points="81.70,385.98 85.00,391.73 78.40,391.73" fill="#1A6FDF"/><polygon points="89.85,505.55 93.15,511.30 86.55,511.30" fill="#1A6FDF"/><polygon points="97.99,448.12 101.29,453.87 94.69,453.87" fill="#1A6FDF"/><polygon points="106.14,468.53 109.44,474.28 102.84,474.28" fill="#1A6FDF"/><polygon points="114.28,440.51 117.58,446.26 110.98,446.26" fill="#1A6FDF"/><polygon points="122.42,428.40 125.72,434.15 119.12,434.15" fill="#1A6FDF"/><polygon points="130.57,425.49 133.87,431.24 127.27,431.24" fill="#1A6FDF"/><polygon points="138.71,424.94 142.01,430.69 135.41,430.69" fill="#1A6FDF"/><polygon points="146.86,424.66 150.16,430.41 143.56,430.41" fill="#1A6FDF"/><polygon points="155.00,424.38 158.30,430.13 151.70,430.13" fill="#1A6FDF"/><polygon points="163.14,424.21 166.44,429.96 159.84,429.96" fill="#1A6FDF"/><polygon points="171.29,424.04 174.59,429.79 167.99,429.79" fill="#1A6FDF"/><polygon points="179.43,423.90 182.73,429.65 176.13,429.65" fill="#1A6FDF"/><polygon points="187.58,424.31 190.88,430.06 184.28,430.06" fill="#1A6FDF"/><polygon points="195.72,439.47 199.02,445.22 192.42,445.22" fill="#1A6FDF"/><polygon points="203.86,441.89 207.16,447.64 200.56,447.64" fill="#1A6FDF"/><polygon points="212.01,437.05 215.31,442.80 208.71,442.80" fill="#1A6FDF"/><polygon points="220.15,441.89 223.45,447.64 216.85,447.64" fill="#1A6FDF"/><polygon points="228.30,426.67 231.60,432.42 225.00,432.42" fill="#1A6FDF"/><polygon points="236.44,420.85 239.74,426.60 233.14,426.60" fill="#1A6FDF"/><polygon points="244.58,419.75 247.88,425.50 241.28,425.50" fill="#1A6FDF"/><polygon points="252.73,419.75 256.03,425.50 249.43,425.50" fill="#1A6FDF"/><polygon points="260.87,420.30 264.17,426.05 257.57,426.05" fill="#1A6FDF"/><polygon points="269.02,423.21 272.32,428.96 265.72,428.96" fill="#1A6FDF"/><polygon points="277.16,432.89 280.46,438.64 273.86,438.64" fill="#1A6FDF"/><polygon points="285.30,462.65 288.60,468.40 282.00,468.40" fill="#1A6FDF"/><polygon points="293.45,383.76 296.75,389.51 290.15,389.51" fill="#1A6FDF"/><polygon points="301.59,349.51 304.89,355.26 298.29,355.26" fill="#1A6FDF"/><polygon points="309.74,345.15 313.04,350.90 306.44,350.90" fill="#1A6FDF"/><polygon points="317.88,444.38 321.18,450.13 314.58,450.13" fill="#1A6FDF"/><polygon points="326.02,452.96 329.32,458.71 322.72,458.71" fill="#1A6FDF"/><polygon points="334.17,450.19 337.47,455.94 330.87,455.94" fill="#1A6FDF"/><polygon points="342.31,429.78 345.61,435.53 339.01,435.53" fill="#1A6FDF"/><polygon points="350.46,419.61 353.76,425.36 347.16,425.36" fill="#1A6FDF"/><polygon points="358.60,441.47 361.90,447.22 355.30,447.22" fill="#1A6FDF"/><polygon points="366.74,434.97 370.04,440.72 363.44,440.72" fill="#1A6FDF"/><polygon points="374.89,441.20 378.19,446.95 371.59,446.95" fill="#1A6FDF"/><polygon points="383.03,428.05 386.33,433.80 379.73,433.80" fill="#1A6FDF"/><polygon points="391.18,422.51 394.48,428.26 387.88,428.26" fill="#1A6FDF"/><polygon points="399.32,421.96 402.62,427.71 396.02,427.71" fill="#1A6FDF"/><polygon points="407.46,423.21 410.76,428.96 404.16,428.96" fill="#1A6FDF"/><polygon points="415.61,424.31 418.91,430.06 412.31,430.06" fill="#1A6FDF"/><polygon points="423.75,431.30 427.05,437.05 420.45,437.05" fill="#1A6FDF"/><polygon points="431.90,446.46 435.20,452.21 428.60,452.21" fill="#1A6FDF"/><polygon points="440.04,439.81 443.34,445.56 436.74,445.56" fill="#1A6FDF"/><polygon points="448.18,445.35 451.48,451.10 444.88,451.10" fill="#1A6FDF"/><polygon points="456.33,441.89 459.63,447.64 453.03,447.64" fill="#1A6FDF"/><polygon points="464.47,426.67 467.77,432.42 461.17,432.42" fill="#1A6FDF"/><polygon points="472.62,424.31 475.92,430.06 469.32,430.06" fill="#1A6FDF"/><polygon points="480.76,423.90 484.06,429.65 477.46,429.65" fill="#1A6FDF"/><polygon points="488.90,424.31 492.20,430.06 485.60,430.06" fill="#1A6FDF"/><polygon points="497.05,425.49 500.35,431.24 493.75,431.24" fill="#1A6FDF"/><polygon points="505.19,431.30 508.49,437.05 501.89,437.05" fill="#1A6FDF"/><polygon points="513.34,448.12 516.64,453.87 510.04,453.87" fill="#1A6FDF"/><polygon points="521.48,512.27 524.78,518.02 518.18,518.02" fill="#1A6FDF"/><polygon points="529.62,367.71 532.92,373.46 526.32,373.46" fill="#1A6FDF"/><polygon points="537.77,342.93 541.07,348.68 534.47,348.68" fill="#1A6FDF"/><polygon points="545.91,331.31 549.21,337.06 542.61,337.06" fill="#1A6FDF"/><polygon points="554.06,332.76 557.36,338.51 550.76,338.51" fill="#1A6FDF"/><polygon points="562.20,332.76 565.50,338.51 558.90,338.51" fill="#1A6FDF"/><polygon points="570.34,332.76 573.64,338.51 567.04,338.51" fill="#1A6FDF"/><polygon points="578.49,341.55 581.79,347.30 575.19,347.30" fill="#1A6FDF"/><polygon points="586.63,368.54 589.93,374.29 583.33,374.29" fill="#1A6FDF"/><polygon points="594.78,448.81 598.08,454.56 591.48,454.56" fill="#1A6FDF"/><polygon points="602.92,472.82 606.22,478.57 599.62,478.57" fill="#1A6FDF"/><polygon points="611.06,465.42 614.36,471.17 607.76,471.17" fill="#1A6FDF"/><polygon points="619.21,442.93 622.51,448.68 615.91,448.68" fill="#1A6FDF"/><polygon points="627.35,445.83 630.65,451.58 624.05,451.58" fill="#1A6FDF"/><polygon points="635.50,431.99 638.80,437.74 632.20,437.74" fill="#1A6FDF"/><polygon points="643.64,428.33 646.94,434.08 640.34,434.08" fill="#1A6FDF"/><polygon points="651.78,432.69 655.08,438.44 648.48,438.44" fill="#1A6FDF"/><polygon points="659.93,442.93 663.23,448.68 656.63,448.68" fill="#1A6FDF"/><polygon points="668.07,455.31 671.37,461.06 664.77,461.06" fill="#1A6FDF"/><polygon points="672.14,459.67 675.44,465.42 668.84,465.42" fill="#1A6FDF"/>
<polyline points="53.20,456.07 57.27,456.07 61.34,541.53 65.42,480.98 69.49,375.11 73.56,368.60 77.63,344.66 81.70,432.54 85.78,525.96 89.85,466.45 93.92,489.98 97.99,476.83 102.06,473.72 106.14,456.76 110.21,438.77 114.28,430.74 118.35,426.18 122.42,423.27 126.50,421.82 130.57,421.47 134.64,421.28 138.71,421.09 142.78,420.90 146.86,420.71 150.93,420.52 155.00,420.33 159.07,420.14 163.14,419.95 167.22,419.74 171.29,419.53 175.36,419.32 179.43,419.12 183.50,418.91 187.58,418.70 191.65,420.09 195.72,423.55 199.79,425.35 203.86,421.47 207.94,419.95 212.01,421.47 216.08,424.93 220.15,424.65 224.22,421.12 228.30,418.36 232.37,418.36 236.44,418.36 240.51,418.36 244.58,418.36 248.66,418.36 252.73,418.36 256.80,418.36 260.87,418.36 264.94,419.15 269.02,419.95 273.09,420.95 277.16,421.95 281.23,429.77 285.30,431.85 289.38,493.44 293.45,431.16 297.52,360.57 301.59,353.31 305.66,356.21 309.74,348.95 313.81,383.89 317.88,494.82 321.95,456.07 326.02,434.34 330.10,439.46 334.17,435.03 338.24,442.23 342.31,451.92 346.38,453.30 350.46,457.45 354.53,445.00 358.60,423.41 362.67,423.55 366.74,422.30 370.82,424.65 374.89,425.76 378.96,423.48 383.03,420.64 387.10,420.29 391.18,419.95 395.25,419.95 399.32,419.95 403.39,419.95 407.46,419.95 411.54,419.95 415.61,419.95 419.68,419.95 423.75,419.95 427.82,423.48 431.90,428.11 435.97,425.76 440.04,423.48 444.11,425.76 448.18,427.01 452.26,426.31 456.33,423.48 460.40,421.47 464.47,421.12 468.54,421.30 472.62,421.47 476.69,422.23 480.76,422.99 484.83,423.82 488.90,424.65 492.98,425.83 497.05,427.01 501.12,429.77 505.19,432.82 509.26,437.39 513.34,441.54 517.41,446.04 521.48,474.48 525.55,527.00 529.62,457.73 533.70,383.41 537.77,354.07 541.84,355.52 545.91,353.31 549.98,350.40 554.06,351.09 558.13,349.64 562.20,350.68 566.27,351.85 570.34,351.58 574.42,356.21 578.49,351.09 582.56,366.46 586.63,400.02 590.70,472.33 594.78,530.81 598.85,478.77 602.92,478.08 606.99,464.24 611.06,447.42 615.14,438.77 619.21,435.03 623.28,432.89 627.35,436.49 631.42,432.13 635.50,429.98 639.57,428.39 643.64,429.08 647.71,431.43 651.78,433.58 655.86,437.39 659.93,442.23 664.00,448.87 668.07,454.69 672.14,458.35" fill="none" stroke="#37AD6B" stroke-width="1.6" stroke-linejoin="round"/>
<polygon points="57.27,459.87 60.57,454.12 53.97,454.12" fill="#37AD6B"/><polygon points="65.42,484.78 68.72,479.03 62.12,479.03" fill="#37AD6B"/><polygon points="73.56,372.40 76.86,366.65 70.26,366.65" fill="#37AD6B"/><polygon points="81.70,436.34 85.00,430.59 78.40,430.59" fill="#37AD6B"/><polygon points="89.85,470.25 93.15,464.50 86.55,464.50" fill="#37AD6B"/><polygon points="97.99,480.63 101.29,474.88 94.69,474.88" fill="#37AD6B"/><polygon points="106.14,460.56 109.44,454.81 102.84,454.81" fill="#37AD6B"/><polygon points="114.28,434.54 117.58,428.79 110.98,428.79" fill="#37AD6B"/><polygon points="122.42,427.07 125.72,421.32 119.12,421.32" fill="#37AD6B"/><polygon points="130.57,425.27 133.87,419.52 127.27,419.52" fill="#37AD6B"/><polygon points="138.71,424.89 142.01,419.14 135.41,419.14" fill="#37AD6B"/><polygon points="146.86,424.51 150.16,418.76 143.56,418.76" fill="#37AD6B"/><polygon points="155.00,424.13 158.30,418.38 151.70,418.38" fill="#37AD6B"/><polygon points="163.14,423.75 166.44,418.00 159.84,418.00" fill="#37AD6B"/><polygon points="171.29,423.33 174.59,417.58 167.99,417.58" fill="#37AD6B"/><polygon points="179.43,422.92 182.73,417.17 176.13,417.17" fill="#37AD6B"/><polygon points="187.58,422.50 190.88,416.75 184.28,416.75" fill="#37AD6B"/><polygon points="195.72,427.35 199.02,421.60 192.42,421.60" fill="#37AD6B"/><polygon points="203.86,425.27 207.16,419.52 200.56,419.52" fill="#37AD6B"/><polygon points="212.01,425.27 215.31,419.52 208.71,419.52" fill="#37AD6B"/><polygon points="220.15,428.45 223.45,422.70 216.85,422.70" fill="#37AD6B"/><polygon points="228.30,422.16 231.60,416.41 225.00,416.41" fill="#37AD6B"/><polygon points="236.44,422.16 239.74,416.41 233.14,416.41" fill="#37AD6B"/><polygon points="244.58,422.16 247.88,416.41 241.28,416.41" fill="#37AD6B"/><polygon points="252.73,422.16 256.03,416.41 249.43,416.41" fill="#37AD6B"/><polygon points="260.87,422.16 264.17,416.41 257.57,416.41" fill="#37AD6B"/><polygon points="269.02,423.75 272.32,418.00 265.72,418.00" fill="#37AD6B"/><polygon points="277.16,425.75 280.46,420.00 273.86,420.00" fill="#37AD6B"/><polygon points="285.30,435.65 288.60,429.90 282.00,429.90" fill="#37AD6B"/><polygon points="293.45,434.96 296.75,429.21 290.15,429.21" fill="#37AD6B"/><polygon points="301.59,357.11 304.89,351.36 298.29,351.36" fill="#37AD6B"/><polygon points="309.74,352.75 313.04,347.00 306.44,347.00" fill="#37AD6B"/><polygon points="317.88,498.62 321.18,492.87 314.58,492.87" fill="#37AD6B"/><polygon points="326.02,438.14 329.32,432.39 322.72,432.39" fill="#37AD6B"/><polygon points="334.17,438.83 337.47,433.08 330.87,433.08" fill="#37AD6B"/><polygon points="342.31,455.72 345.61,449.97 339.01,449.97" fill="#37AD6B"/><polygon points="350.46,461.25 353.76,455.50 347.16,455.50" fill="#37AD6B"/><polygon points="358.60,427.21 361.90,421.46 355.30,421.46" fill="#37AD6B"/><polygon points="366.74,426.10 370.04,420.35 363.44,420.35" fill="#37AD6B"/><polygon points="374.89,429.56 378.19,423.81 371.59,423.81" fill="#37AD6B"/><polygon points="383.03,424.44 386.33,418.69 379.73,418.69" fill="#37AD6B"/><polygon points="391.18,423.75 394.48,418.00 387.88,418.00" fill="#37AD6B"/><polygon points="399.32,423.75 402.62,418.00 396.02,418.00" fill="#37AD6B"/><polygon points="407.46,423.75 410.76,418.00 404.16,418.00" fill="#37AD6B"/><polygon points="415.61,423.75 418.91,418.00 412.31,418.00" fill="#37AD6B"/><polygon points="423.75,423.75 427.05,418.00 420.45,418.00" fill="#37AD6B"/><polygon points="431.90,431.91 435.20,426.16 428.60,426.16" fill="#37AD6B"/><polygon points="440.04,427.28 443.34,421.53 436.74,421.53" fill="#37AD6B"/><polygon points="448.18,430.81 451.48,425.06 444.88,425.06" fill="#37AD6B"/><polygon points="456.33,427.28 459.63,421.53 453.03,421.53" fill="#37AD6B"/><polygon points="464.47,424.92 467.77,419.17 461.17,419.17" fill="#37AD6B"/><polygon points="472.62,425.27 475.92,419.52 469.32,419.52" fill="#37AD6B"/><polygon points="480.76,426.79 484.06,421.04 477.46,421.04" fill="#37AD6B"/><polygon points="488.90,428.45 492.20,422.70 485.60,422.70" fill="#37AD6B"/><polygon points="497.05,430.81 500.35,425.06 493.75,425.06" fill="#37AD6B"/><polygon points="505.19,436.62 508.49,430.87 501.89,430.87" fill="#37AD6B"/><polygon points="513.34,445.34 516.64,439.59 510.04,439.59" fill="#37AD6B"/><polygon points="521.48,478.28 524.78,472.53 518.18,472.53" fill="#37AD6B"/><polygon points="529.62,461.53 532.92,455.78 526.32,455.78" fill="#37AD6B"/><polygon points="537.77,357.87 541.07,352.12 534.47,352.12" fill="#37AD6B"/><polygon points="545.91,357.11 549.21,351.36 542.61,351.36" fill="#37AD6B"/><polygon points="554.06,354.89 557.36,349.14 550.76,349.14" fill="#37AD6B"/><polygon points="562.20,354.48 565.50,348.73 558.90,348.73" fill="#37AD6B"/><polygon points="570.34,355.38 573.64,349.63 567.04,349.63" fill="#37AD6B"/><polygon points="578.49,354.89 581.79,349.14 575.19,349.14" fill="#37AD6B"/><polygon points="586.63,403.82 589.93,398.07 583.33,398.07" fill="#37AD6B"/><polygon points="594.78,534.61 598.08,528.86 591.48,528.86" fill="#37AD6B"/><polygon points="602.92,481.88 606.22,476.13 599.62,476.13" fill="#37AD6B"/><polygon points="611.06,451.22 614.36,445.47 607.76,445.47" fill="#37AD6B"/><polygon points="619.21,438.83 622.51,433.08 615.91,433.08" fill="#37AD6B"/><polygon points="627.35,440.29 630.65,434.54 624.05,434.54" fill="#37AD6B"/><polygon points="635.50,433.78 638.80,428.03 632.20,428.03" fill="#37AD6B"/><polygon points="643.64,432.88 646.94,427.13 640.34,427.13" fill="#37AD6B"/><polygon points="651.78,437.38 655.08,431.63 648.48,431.63" fill="#37AD6B"/><polygon points="659.93,446.03 663.23,440.28 656.63,440.28" fill="#37AD6B"/><polygon points="668.07,458.49 671.37,452.74 664.77,452.74" fill="#37AD6B"/><polygon points="672.14,462.15 675.44,456.40 668.84,456.40" fill="#37AD6B"/>
<polyline points="53.20,421.82 57.27,421.82 61.34,491.36 65.42,539.11 69.49,485.13 73.56,439.46 77.63,467.83 81.70,501.05 85.78,465.07 89.85,438.08 93.92,435.86 97.99,439.46 102.06,432.96 106.14,426.94 110.21,425.41 114.28,423.89 118.35,422.85 122.42,420.99 126.50,420.54 130.57,420.09 134.64,419.74 138.71,419.39 142.78,419.05 146.86,418.70 150.93,418.44 155.00,418.18 159.07,417.92 163.14,417.66 167.22,417.37 171.29,417.08 175.36,416.78 179.43,416.49 183.50,416.40 187.58,416.30 191.65,416.21 195.72,416.12 199.79,416.03 203.86,415.93 207.94,415.70 212.01,415.47 216.08,415.24 220.15,415.01 224.22,414.78 228.30,414.55 232.37,414.34 236.44,414.13 240.51,414.34 244.58,414.55 248.66,414.90 252.73,415.24 256.80,415.59 260.87,415.93 264.94,415.76 269.02,415.59 273.09,415.42 277.16,415.24 281.23,417.15 285.30,419.05 289.38,448.18 293.45,478.91 297.52,411.78 301.59,340.92 305.66,376.63 309.74,356.21 313.81,420.09 317.88,483.06 321.95,421.95 326.02,426.31 330.10,418.29 334.17,421.95 338.24,419.05 342.31,429.98 346.38,443.61 350.46,432.89 354.53,424.93 358.60,417.59 362.67,417.28 366.74,416.97 370.82,416.97 374.89,416.97 378.96,416.97 383.03,416.97 387.10,416.97 391.18,416.97 395.25,416.97 399.32,416.97 403.39,416.97 407.46,416.97 411.54,416.97 415.61,416.97 419.68,416.97 423.75,416.97 427.82,417.66 431.90,418.36 435.97,418.56 440.04,418.77 444.11,419.01 448.18,419.26 452.26,419.29 456.33,419.32 460.40,419.36 464.47,419.39 468.54,420.26 472.62,421.12 476.69,421.71 480.76,422.30 484.83,422.89 488.90,423.48 492.98,424.07 497.05,424.65 501.12,426.18 505.19,427.70 509.26,430.81 513.34,433.93 517.41,435.66 521.48,437.39 525.55,488.32 529.62,546.72 533.70,488.32 537.77,423.27 541.84,383.89 545.91,387.56 549.98,378.08 554.06,365.00 558.13,369.36 562.20,369.36 566.27,392.68 570.34,407.21 574.42,405.76 578.49,432.54 582.56,478.21 586.63,528.45 590.70,542.29 594.78,475.86 598.85,440.85 602.92,438.77 606.99,436.49 611.06,435.03 615.14,432.89 619.21,430.67 623.28,430.33 627.35,429.98 631.42,429.98 635.50,429.98 639.57,430.33 643.64,430.67 647.71,432.13 651.78,434.34 655.86,437.25 659.93,441.54 664.00,447.42 668.07,453.30 672.14,457.66" fill="none" stroke="#B177DE" stroke-width="1.6" stroke-linejoin="round"/>
<polygon points="57.27,418.42 60.47,421.82 57.27,425.22 54.07,421.82" fill="#B177DE"/><polygon points="65.42,535.71 68.62,539.11 65.42,542.51 62.22,539.11" fill="#B177DE"/><polygon points="73.56,436.06 76.76,439.46 73.56,442.86 70.36,439.46" fill="#B177DE"/><polygon points="81.70,497.65 84.90,501.05 81.70,504.45 78.50,501.05" fill="#B177DE"/><polygon points="89.85,434.68 93.05,438.08 89.85,441.48 86.65,438.08" fill="#B177DE"/><polygon points="97.99,436.06 101.19,439.46 97.99,442.86 94.79,439.46" fill="#B177DE"/><polygon points="106.14,423.54 109.34,426.94 106.14,430.34 102.94,426.94" fill="#B177DE"/><polygon points="114.28,420.49 117.48,423.89 114.28,427.29 111.08,423.89" fill="#B177DE"/><polygon points="122.42,417.59 125.62,420.99 122.42,424.39 119.22,420.99" fill="#B177DE"/><polygon points="130.57,416.69 133.77,420.09 130.57,423.49 127.37,420.09" fill="#B177DE"/><polygon points="138.71,415.99 141.91,419.39 138.71,422.79 135.51,419.39" fill="#B177DE"/><polygon points="146.86,415.30 150.06,418.70 146.86,422.10 143.66,418.70" fill="#B177DE"/><polygon points="155.00,414.78 158.20,418.18 155.00,421.58 151.80,418.18" fill="#B177DE"/><polygon points="163.14,414.26 166.34,417.66 163.14,421.06 159.94,417.66" fill="#B177DE"/><polygon points="171.29,413.68 174.49,417.08 171.29,420.48 168.09,417.08" fill="#B177DE"/><polygon points="179.43,413.09 182.63,416.49 179.43,419.89 176.23,416.49" fill="#B177DE"/><polygon points="187.58,412.90 190.78,416.30 187.58,419.70 184.38,416.30" fill="#B177DE"/><polygon points="195.72,412.72 198.92,416.12 195.72,419.52 192.52,416.12" fill="#B177DE"/><polygon points="203.86,412.53 207.06,415.93 203.86,419.33 200.66,415.93" fill="#B177DE"/><polygon points="212.01,412.07 215.21,415.47 212.01,418.87 208.81,415.47" fill="#B177DE"/><polygon points="220.15,411.61 223.35,415.01 220.15,418.41 216.95,415.01" fill="#B177DE"/><polygon points="228.30,411.15 231.50,414.55 228.30,417.95 225.10,414.55" fill="#B177DE"/><polygon points="236.44,410.73 239.64,414.13 236.44,417.53 233.24,414.13" fill="#B177DE"/><polygon points="244.58,411.15 247.78,414.55 244.58,417.95 241.38,414.55" fill="#B177DE"/><polygon points="252.73,411.84 255.93,415.24 252.73,418.64 249.53,415.24" fill="#B177DE"/><polygon points="260.87,412.53 264.07,415.93 260.87,419.33 257.67,415.93" fill="#B177DE"/><polygon points="269.02,412.19 272.22,415.59 269.02,418.99 265.82,415.59" fill="#B177DE"/><polygon points="277.16,411.84 280.36,415.24 277.16,418.64 273.96,415.24" fill="#B177DE"/><polygon points="285.30,415.65 288.50,419.05 285.30,422.45 282.10,419.05" fill="#B177DE"/><polygon points="293.45,475.51 296.65,478.91 293.45,482.31 290.25,478.91" fill="#B177DE"/><polygon points="301.59,337.52 304.79,340.92 301.59,344.32 298.39,340.92" fill="#B177DE"/><polygon points="309.74,352.81 312.94,356.21 309.74,359.61 306.54,356.21" fill="#B177DE"/><polygon points="317.88,479.66 321.08,483.06 317.88,486.46 314.68,483.06" fill="#B177DE"/><polygon points="326.02,422.91 329.22,426.31 326.02,429.71 322.82,426.31" fill="#B177DE"/><polygon points="334.17,418.55 337.37,421.95 334.17,425.35 330.97,421.95" fill="#B177DE"/><polygon points="342.31,426.58 345.51,429.98 342.31,433.38 339.11,429.98" fill="#B177DE"/><polygon points="350.46,429.49 353.66,432.89 350.46,436.29 347.26,432.89" fill="#B177DE"/><polygon points="358.60,414.19 361.80,417.59 358.60,420.99 355.40,417.59" fill="#B177DE"/><polygon points="366.74,413.57 369.94,416.97 366.74,420.37 363.54,416.97" fill="#B177DE"/><polygon points="374.89,413.57 378.09,416.97 374.89,420.37 371.69,416.97" fill="#B177DE"/><polygon points="383.03,413.57 386.23,416.97 383.03,420.37 379.83,416.97" fill="#B177DE"/><polygon points="391.18,413.57 394.38,416.97 391.18,420.37 387.98,416.97" fill="#B177DE"/><polygon points="399.32,413.57 402.52,416.97 399.32,420.37 396.12,416.97" fill="#B177DE"/><polygon points="407.46,413.57 410.66,416.97 407.46,420.37 404.26,416.97" fill="#B177DE"/><polygon points="415.61,413.57 418.81,416.97 415.61,420.37 412.41,416.97" fill="#B177DE"/><polygon points="423.75,413.57 426.95,416.97 423.75,420.37 420.55,416.97" fill="#B177DE"/><polygon points="431.90,414.96 435.10,418.36 431.90,421.76 428.70,418.36" fill="#B177DE"/><polygon points="440.04,415.37 443.24,418.77 440.04,422.17 436.84,418.77" fill="#B177DE"/><polygon points="448.18,415.86 451.38,419.26 448.18,422.66 444.98,419.26" fill="#B177DE"/><polygon points="456.33,415.92 459.53,419.32 456.33,422.72 453.13,419.32" fill="#B177DE"/><polygon points="464.47,415.99 467.67,419.39 464.47,422.79 461.27,419.39" fill="#B177DE"/><polygon points="472.62,417.72 475.82,421.12 472.62,424.52 469.42,421.12" fill="#B177DE"/><polygon points="480.76,418.90 483.96,422.30 480.76,425.70 477.56,422.30" fill="#B177DE"/><polygon points="488.90,420.08 492.10,423.48 488.90,426.88 485.70,423.48" fill="#B177DE"/><polygon points="497.05,421.25 500.25,424.65 497.05,428.05 493.85,424.65" fill="#B177DE"/><polygon points="505.19,424.30 508.39,427.70 505.19,431.10 501.99,427.70" fill="#B177DE"/><polygon points="513.34,430.53 516.54,433.93 513.34,437.33 510.14,433.93" fill="#B177DE"/><polygon points="521.48,433.99 524.68,437.39 521.48,440.79 518.28,437.39" fill="#B177DE"/><polygon points="529.62,543.32 532.82,546.72 529.62,550.12 526.42,546.72" fill="#B177DE"/><polygon points="537.77,419.87 540.97,423.27 537.77,426.67 534.57,423.27" fill="#B177DE"/><polygon points="545.91,384.16 549.11,387.56 545.91,390.96 542.71,387.56" fill="#B177DE"/><polygon points="554.06,361.60 557.26,365.00 554.06,368.40 550.86,365.00" fill="#B177DE"/><polygon points="562.20,365.96 565.40,369.36 562.20,372.76 559.00,369.36" fill="#B177DE"/><polygon points="570.34,403.81 573.54,407.21 570.34,410.61 567.14,407.21" fill="#B177DE"/><polygon points="578.49,429.14 581.69,432.54 578.49,435.94 575.29,432.54" fill="#B177DE"/><polygon points="586.63,525.05 589.83,528.45 586.63,531.85 583.43,528.45" fill="#B177DE"/><polygon points="594.78,472.46 597.98,475.86 594.78,479.26 591.58,475.86" fill="#B177DE"/><polygon points="602.92,435.37 606.12,438.77 602.92,442.17 599.72,438.77" fill="#B177DE"/><polygon points="611.06,431.63 614.26,435.03 611.06,438.43 607.86,435.03" fill="#B177DE"/><polygon points="619.21,427.27 622.41,430.67 619.21,434.07 616.01,430.67" fill="#B177DE"/><polygon points="627.35,426.58 630.55,429.98 627.35,433.38 624.15,429.98" fill="#B177DE"/><polygon points="635.50,426.58 638.70,429.98 635.50,433.38 632.30,429.98" fill="#B177DE"/><polygon points="643.64,427.27 646.84,430.67 643.64,434.07 640.44,430.67" fill="#B177DE"/><polygon points="651.78,430.94 654.98,434.34 651.78,437.74 648.58,434.34" fill="#B177DE"/><polygon points="659.93,438.14 663.13,441.54 659.93,444.94 656.73,441.54" fill="#B177DE"/><polygon points="668.07,449.90 671.27,453.30 668.07,456.70 664.87,453.30" fill="#B177DE"/><polygon points="672.14,454.26 675.34,457.66 672.14,461.06 668.94,457.66" fill="#B177DE"/>
<polyline points="53.20,371.51 57.27,371.51 61.34,392.61 65.42,400.71 69.49,456.07 73.56,479.60 77.63,471.29 81.70,429.77 85.78,400.02 89.85,397.25 93.92,400.71 97.99,404.17 102.06,406.94 106.14,409.01 110.21,411.09 114.28,412.96 118.35,414.41 122.42,415.17 126.50,415.93 130.57,415.93 134.64,415.59 138.71,414.55 142.78,413.75 146.86,412.96 150.93,412.37 155.00,411.78 159.07,411.19 163.14,410.61 167.22,410.03 171.29,409.46 175.36,408.89 179.43,408.32 183.50,407.49 187.58,406.66 191.65,405.76 195.72,404.86 199.79,404.59 203.86,404.31 207.94,404.20 212.01,404.10 216.08,404.69 220.15,405.28 224.22,406.21 228.30,407.15 232.37,407.94 236.44,408.74 240.51,409.33 244.58,409.91 248.66,410.50 252.73,411.09 256.80,411.23 260.87,411.37 264.94,410.81 269.02,410.26 273.09,408.94 277.16,407.63 281.23,404.17 285.30,401.40 289.38,414.55 293.45,443.82 297.52,465.76 301.59,442.23 305.66,467.14 309.74,471.50 313.81,455.38 317.88,412.34 321.95,396.28 326.02,397.04 330.10,398.50 334.17,399.26 338.24,400.71 342.31,401.40 346.38,401.75 350.46,402.09 354.53,402.44 358.60,402.79 362.67,403.79 366.74,404.79 370.82,405.38 374.89,405.97 378.96,406.80 383.03,407.63 387.10,408.22 391.18,408.81 395.25,409.15 399.32,409.50 403.39,409.50 407.46,409.50 411.54,409.15 415.61,408.81 419.68,407.98 423.75,407.15 427.82,406.56 431.90,405.97 435.97,405.97 440.04,405.97 444.11,406.32 448.18,406.66 452.26,407.73 456.33,408.81 460.40,410.54 464.47,412.27 468.54,414.03 472.62,415.80 476.69,417.08 480.76,418.36 484.83,419.15 488.90,419.95 492.98,420.71 497.05,421.47 501.12,422.16 505.19,422.02 509.26,420.78 513.34,419.74 517.41,415.93 521.48,412.34 525.55,413.86 529.62,431.16 533.70,488.32 537.77,530.60 541.84,516.76 545.91,534.96 549.98,543.75 554.06,520.43 558.13,536.34 562.20,526.24 566.27,542.29 570.34,550.87 574.42,532.19 578.49,537.03 582.56,502.92 586.63,461.61 590.70,417.32 594.78,406.94 598.85,409.01 602.92,411.99 606.99,414.90 611.06,418.01 615.14,420.22 619.21,421.89 623.28,423.34 627.35,424.10 631.42,425.28 635.50,426.45 639.57,427.70 643.64,428.87 647.71,430.47 651.78,431.43 655.86,435.03 659.93,438.77 664.00,443.82 668.07,448.18 672.14,453.30" fill="none" stroke="#CC9900" stroke-width="1.6" stroke-linejoin="round"/>
<polygon points="53.47,371.51 59.22,368.21 59.22,374.81" fill="#CC9900"/><polygon points="61.62,400.71 67.37,397.41 67.37,404.01" fill="#CC9900"/><polygon points="69.76,479.60 75.51,476.30 75.51,482.90" fill="#CC9900"/><polygon points="77.90,429.77 83.65,426.47 83.65,433.07" fill="#CC9900"/><polygon points="86.05,397.25 91.80,393.95 91.80,400.55" fill="#CC9900"/><polygon points="94.19,404.17 99.94,400.87 99.94,407.47" fill="#CC9900"/><polygon points="102.34,409.01 108.09,405.71 108.09,412.31" fill="#CC9900"/><polygon points="110.48,412.96 116.23,409.66 116.23,416.26" fill="#CC9900"/><polygon points="118.62,415.17 124.37,411.87 124.37,418.47" fill="#CC9900"/><polygon points="126.77,415.93 132.52,412.63 132.52,419.23" fill="#CC9900"/><polygon points="134.91,414.55 140.66,411.25 140.66,417.85" fill="#CC9900"/><polygon points="143.06,412.96 148.81,409.66 148.81,416.26" fill="#CC9900"/><polygon points="151.20,411.78 156.95,408.48 156.95,415.08" fill="#CC9900"/><polygon points="159.34,410.61 165.09,407.31 165.09,413.91" fill="#CC9900"/><polygon points="167.49,409.46 173.24,406.16 173.24,412.76" fill="#CC9900"/><polygon points="175.63,408.32 181.38,405.02 181.38,411.62" fill="#CC9900"/><polygon points="183.78,406.66 189.53,403.36 189.53,409.96" fill="#CC9900"/><polygon points="191.92,404.86 197.67,401.56 197.67,408.16" fill="#CC9900"/><polygon points="200.06,404.31 205.81,401.01 205.81,407.61" fill="#CC9900"/><polygon points="208.21,404.10 213.96,400.80 213.96,407.40" fill="#CC9900"/><polygon points="216.35,405.28 222.10,401.98 222.10,408.58" fill="#CC9900"/><polygon points="224.50,407.15 230.25,403.85 230.25,410.45" fill="#CC9900"/><polygon points="232.64,408.74 238.39,405.44 238.39,412.04" fill="#CC9900"/><polygon points="240.78,409.91 246.53,406.61 246.53,413.21" fill="#CC9900"/><polygon points="248.93,411.09 254.68,407.79 254.68,414.39" fill="#CC9900"/><polygon points="257.07,411.37 262.82,408.07 262.82,414.67" fill="#CC9900"/><polygon points="265.22,410.26 270.97,406.96 270.97,413.56" fill="#CC9900"/><polygon points="273.36,407.63 279.11,404.33 279.11,410.93" fill="#CC9900"/><polygon points="281.50,401.40 287.25,398.10 287.25,404.70" fill="#CC9900"/><polygon points="289.65,443.82 295.40,440.52 295.40,447.12" fill="#CC9900"/><polygon points="297.79,442.23 303.54,438.93 303.54,445.53" fill="#CC9900"/><polygon points="305.94,471.50 311.69,468.20 311.69,474.80" fill="#CC9900"/><polygon points="314.08,412.34 319.83,409.04 319.83,415.64" fill="#CC9900"/><polygon points="322.22,397.04 327.97,393.74 327.97,400.34" fill="#CC9900"/><polygon points="330.37,399.26 336.12,395.96 336.12,402.56" fill="#CC9900"/><polygon points="338.51,401.40 344.26,398.10 344.26,404.70" fill="#CC9900"/><polygon points="346.66,402.09 352.41,398.79 352.41,405.39" fill="#CC9900"/><polygon points="354.80,402.79 360.55,399.49 360.55,406.09" fill="#CC9900"/><polygon points="362.94,404.79 368.69,401.49 368.69,408.09" fill="#CC9900"/><polygon points="371.09,405.97 376.84,402.67 376.84,409.27" fill="#CC9900"/><polygon points="379.23,407.63 384.98,404.33 384.98,410.93" fill="#CC9900"/><polygon points="387.38,408.81 393.13,405.51 393.13,412.11" fill="#CC9900"/><polygon points="395.52,409.50 401.27,406.20 401.27,412.80" fill="#CC9900"/><polygon points="403.66,409.50 409.41,406.20 409.41,412.80" fill="#CC9900"/><polygon points="411.81,408.81 417.56,405.51 417.56,412.11" fill="#CC9900"/><polygon points="419.95,407.15 425.70,403.85 425.70,410.45" fill="#CC9900"/><polygon points="428.10,405.97 433.85,402.67 433.85,409.27" fill="#CC9900"/><polygon points="436.24,405.97 441.99,402.67 441.99,409.27" fill="#CC9900"/><polygon points="444.38,406.66 450.13,403.36 450.13,409.96" fill="#CC9900"/><polygon points="452.53,408.81 458.28,405.51 458.28,412.11" fill="#CC9900"/><polygon points="460.67,412.27 466.42,408.97 466.42,415.57" fill="#CC9900"/><polygon points="468.82,415.80 474.57,412.50 474.57,419.10" fill="#CC9900"/><polygon points="476.96,418.36 482.71,415.06 482.71,421.66" fill="#CC9900"/><polygon points="485.10,419.95 490.85,416.65 490.85,423.25" fill="#CC9900"/><polygon points="493.25,421.47 499.00,418.17 499.00,424.77" fill="#CC9900"/><polygon points="501.39,422.02 507.14,418.72 507.14,425.32" fill="#CC9900"/><polygon points="509.54,419.74 515.29,416.44 515.29,423.04" fill="#CC9900"/><polygon points="517.68,412.34 523.43,409.04 523.43,415.64" fill="#CC9900"/><polygon points="525.82,431.16 531.57,427.86 531.57,434.46" fill="#CC9900"/><polygon points="533.97,530.60 539.72,527.30 539.72,533.90" fill="#CC9900"/><polygon points="542.11,534.96 547.86,531.66 547.86,538.26" fill="#CC9900"/><polygon points="550.26,520.43 556.01,517.13 556.01,523.73" fill="#CC9900"/><polygon points="558.40,526.24 564.15,522.94 564.15,529.54" fill="#CC9900"/><polygon points="566.54,550.87 572.29,547.57 572.29,554.17" fill="#CC9900"/><polygon points="574.69,537.03 580.44,533.73 580.44,540.33" fill="#CC9900"/><polygon points="582.83,461.61 588.58,458.31 588.58,464.91" fill="#CC9900"/><polygon points="590.98,406.94 596.73,403.64 596.73,410.24" fill="#CC9900"/><polygon points="599.12,411.99 604.87,408.69 604.87,415.29" fill="#CC9900"/><polygon points="607.26,418.01 613.01,414.71 613.01,421.31" fill="#CC9900"/><polygon points="615.41,421.89 621.16,418.59 621.16,425.19" fill="#CC9900"/><polygon points="623.55,424.10 629.30,420.80 629.30,427.40" fill="#CC9900"/><polygon points="631.70,426.45 637.45,423.15 637.45,429.75" fill="#CC9900"/><polygon points="639.84,428.87 645.59,425.57 645.59,432.17" fill="#CC9900"/><polygon points="647.98,431.43 653.73,428.13 653.73,434.73" fill="#CC9900"/><polygon points="656.13,438.77 661.88,435.47 661.88,442.07" fill="#CC9900"/><polygon points="664.27,448.18 670.02,444.88 670.02,451.48" fill="#CC9900"/><polygon points="668.34,453.30 674.09,450.00 674.09,456.60" fill="#CC9900"/>
<polyline points="53.20,457.45 57.27,457.45 61.34,444.31 65.42,431.85 69.49,412.96 73.56,397.04 77.63,400.02 81.70,424.93 85.78,466.45 89.85,454.69 93.92,436.00 97.99,431.50 102.06,433.65 106.14,434.41 110.21,432.89 114.28,430.74 118.35,427.70 122.42,425.41 126.50,424.58 130.57,424.24 134.64,424.07 138.71,423.89 142.78,423.72 146.86,423.55 150.93,423.37 155.00,423.20 159.07,423.03 163.14,422.85 167.22,422.62 171.29,422.39 175.36,422.16 179.43,421.93 183.50,421.70 187.58,421.47 191.65,421.64 195.72,421.82 199.79,421.99 203.86,422.16 207.94,421.90 212.01,421.64 216.08,421.38 220.15,421.12 224.22,420.83 228.30,420.54 232.37,420.24 236.44,419.95 240.51,419.95 244.58,419.95 248.66,419.95 252.73,419.95 256.80,420.29 260.87,420.64 264.94,421.30 269.02,421.95 273.09,424.13 277.16,426.31 281.23,431.16 285.30,440.15 289.38,445.69 293.45,417.32 297.52,383.89 301.59,367.91 305.66,374.41 309.74,375.18 313.81,398.50 317.88,442.23 321.95,449.63 326.02,436.49 330.10,433.58 334.17,430.67 338.24,434.34 342.31,419.39 346.38,408.67 350.46,416.14 354.53,424.93 358.60,426.31 362.67,424.10 366.74,422.30 370.82,421.89 374.89,421.47 378.96,421.47 383.03,421.47 387.10,421.47 391.18,421.47 395.25,421.47 399.32,421.47 403.39,421.47 407.46,421.47 411.54,421.47 415.61,421.47 419.68,421.47 423.75,421.47 427.82,422.23 431.90,422.99 435.97,423.23 440.04,423.48 444.11,423.48 448.18,423.48 452.26,423.48 456.33,423.48 460.40,423.23 464.47,422.99 468.54,423.23 472.62,423.48 476.69,424.07 480.76,424.65 484.83,425.21 488.90,425.76 492.98,426.73 497.05,427.70 501.12,429.29 505.19,431.64 509.26,436.28 513.34,440.15 517.41,449.01 521.48,460.64 525.55,448.46 529.62,435.86 533.70,418.70 537.77,397.80 541.84,391.23 545.91,390.47 549.98,386.87 554.06,383.89 558.13,385.35 562.20,386.11 566.27,392.68 570.34,397.04 574.42,394.83 578.49,400.71 582.56,405.76 586.63,422.85 590.70,442.23 594.78,459.81 598.85,449.63 602.92,443.82 606.99,441.54 611.06,439.46 615.14,437.94 619.21,435.03 623.28,432.89 627.35,429.98 631.42,429.98 635.50,430.67 639.57,430.47 643.64,430.67 647.71,432.13 651.78,434.34 655.86,437.94 659.93,442.23 664.00,448.18 668.07,453.99 672.14,458.15" fill="none" stroke="#00CBCC" stroke-width="1.6" stroke-linejoin="round" stroke-dasharray="4.3 2.6"/>
<polygon points="61.07,457.45 55.32,454.15 55.32,460.75" fill="#00CBCC"/><polygon points="69.22,431.85 63.47,428.55 63.47,435.15" fill="#00CBCC"/><polygon points="77.36,397.04 71.61,393.74 71.61,400.34" fill="#00CBCC"/><polygon points="85.50,424.93 79.75,421.63 79.75,428.23" fill="#00CBCC"/><polygon points="93.65,454.69 87.90,451.39 87.90,457.99" fill="#00CBCC"/><polygon points="101.79,431.50 96.04,428.20 96.04,434.80" fill="#00CBCC"/><polygon points="109.94,434.41 104.19,431.11 104.19,437.71" fill="#00CBCC"/><polygon points="118.08,430.74 112.33,427.44 112.33,434.04" fill="#00CBCC"/><polygon points="126.22,425.41 120.47,422.11 120.47,428.71" fill="#00CBCC"/><polygon points="134.37,424.24 128.62,420.94 128.62,427.54" fill="#00CBCC"/><polygon points="142.51,423.89 136.76,420.59 136.76,427.19" fill="#00CBCC"/><polygon points="150.66,423.55 144.91,420.25 144.91,426.85" fill="#00CBCC"/><polygon points="158.80,423.20 153.05,419.90 153.05,426.50" fill="#00CBCC"/><polygon points="166.94,422.85 161.19,419.55 161.19,426.15" fill="#00CBCC"/><polygon points="175.09,422.39 169.34,419.09 169.34,425.69" fill="#00CBCC"/><polygon points="183.23,421.93 177.48,418.63 177.48,425.23" fill="#00CBCC"/><polygon points="191.38,421.47 185.63,418.17 185.63,424.77" fill="#00CBCC"/><polygon points="199.52,421.82 193.77,418.52 193.77,425.12" fill="#00CBCC"/><polygon points="207.66,422.16 201.91,418.86 201.91,425.46" fill="#00CBCC"/><polygon points="215.81,421.64 210.06,418.34 210.06,424.94" fill="#00CBCC"/><polygon points="223.95,421.12 218.20,417.82 218.20,424.42" fill="#00CBCC"/><polygon points="232.10,420.54 226.35,417.24 226.35,423.84" fill="#00CBCC"/><polygon points="240.24,419.95 234.49,416.65 234.49,423.25" fill="#00CBCC"/><polygon points="248.38,419.95 242.63,416.65 242.63,423.25" fill="#00CBCC"/><polygon points="256.53,419.95 250.78,416.65 250.78,423.25" fill="#00CBCC"/><polygon points="264.67,420.64 258.92,417.34 258.92,423.94" fill="#00CBCC"/><polygon points="272.82,421.95 267.07,418.65 267.07,425.25" fill="#00CBCC"/><polygon points="280.96,426.31 275.21,423.01 275.21,429.61" fill="#00CBCC"/><polygon points="289.10,440.15 283.35,436.85 283.35,443.45" fill="#00CBCC"/><polygon points="297.25,417.32 291.50,414.02 291.50,420.62" fill="#00CBCC"/><polygon points="305.39,367.91 299.64,364.61 299.64,371.21" fill="#00CBCC"/><polygon points="313.54,375.18 307.79,371.88 307.79,378.48" fill="#00CBCC"/><polygon points="321.68,442.23 315.93,438.93 315.93,445.53" fill="#00CBCC"/><polygon points="329.82,436.49 324.07,433.19 324.07,439.79" fill="#00CBCC"/><polygon points="337.97,430.67 332.22,427.37 332.22,433.97" fill="#00CBCC"/><polygon points="346.11,419.39 340.36,416.09 340.36,422.69" fill="#00CBCC"/><polygon points="354.26,416.14 348.51,412.84 348.51,419.44" fill="#00CBCC"/><polygon points="362.40,426.31 356.65,423.01 356.65,429.61" fill="#00CBCC"/><polygon points="370.54,422.30 364.79,419.00 364.79,425.60" fill="#00CBCC"/><polygon points="378.69,421.47 372.94,418.17 372.94,424.77" fill="#00CBCC"/><polygon points="386.83,421.47 381.08,418.17 381.08,424.77" fill="#00CBCC"/><polygon points="394.98,421.47 389.23,418.17 389.23,424.77" fill="#00CBCC"/><polygon points="403.12,421.47 397.37,418.17 397.37,424.77" fill="#00CBCC"/><polygon points="411.26,421.47 405.51,418.17 405.51,424.77" fill="#00CBCC"/><polygon points="419.41,421.47 413.66,418.17 413.66,424.77" fill="#00CBCC"/><polygon points="427.55,421.47 421.80,418.17 421.80,424.77" fill="#00CBCC"/><polygon points="435.70,422.99 429.95,419.69 429.95,426.29" fill="#00CBCC"/><polygon points="443.84,423.48 438.09,420.18 438.09,426.78" fill="#00CBCC"/><polygon points="451.98,423.48 446.23,420.18 446.23,426.78" fill="#00CBCC"/><polygon points="460.13,423.48 454.38,420.18 454.38,426.78" fill="#00CBCC"/><polygon points="468.27,422.99 462.52,419.69 462.52,426.29" fill="#00CBCC"/><polygon points="476.42,423.48 470.67,420.18 470.67,426.78" fill="#00CBCC"/><polygon points="484.56,424.65 478.81,421.35 478.81,427.95" fill="#00CBCC"/><polygon points="492.70,425.76 486.95,422.46 486.95,429.06" fill="#00CBCC"/><polygon points="500.85,427.70 495.10,424.40 495.10,431.00" fill="#00CBCC"/><polygon points="508.99,431.64 503.24,428.34 503.24,434.94" fill="#00CBCC"/><polygon points="517.14,440.15 511.39,436.85 511.39,443.45" fill="#00CBCC"/><polygon points="525.28,460.64 519.53,457.34 519.53,463.94" fill="#00CBCC"/><polygon points="533.42,435.86 527.67,432.56 527.67,439.16" fill="#00CBCC"/><polygon points="541.57,397.80 535.82,394.50 535.82,401.10" fill="#00CBCC"/><polygon points="549.71,390.47 543.96,387.17 543.96,393.77" fill="#00CBCC"/><polygon points="557.86,383.89 552.11,380.59 552.11,387.19" fill="#00CBCC"/><polygon points="566.00,386.11 560.25,382.81 560.25,389.41" fill="#00CBCC"/><polygon points="574.14,397.04 568.39,393.74 568.39,400.34" fill="#00CBCC"/><polygon points="582.29,400.71 576.54,397.41 576.54,404.01" fill="#00CBCC"/><polygon points="590.43,422.85 584.68,419.55 584.68,426.15" fill="#00CBCC"/><polygon points="598.58,459.81 592.83,456.51 592.83,463.11" fill="#00CBCC"/><polygon points="606.72,443.82 600.97,440.52 600.97,447.12" fill="#00CBCC"/><polygon points="614.86,439.46 609.11,436.16 609.11,442.76" fill="#00CBCC"/><polygon points="623.01,435.03 617.26,431.73 617.26,438.33" fill="#00CBCC"/><polygon points="631.15,429.98 625.40,426.68 625.40,433.28" fill="#00CBCC"/><polygon points="639.30,430.67 633.55,427.37 633.55,433.97" fill="#00CBCC"/><polygon points="647.44,430.67 641.69,427.37 641.69,433.97" fill="#00CBCC"/><polygon points="655.58,434.34 649.83,431.04 649.83,437.64" fill="#00CBCC"/><polygon points="663.73,442.23 657.98,438.93 657.98,445.53" fill="#00CBCC"/><polygon points="671.87,453.99 666.12,450.69 666.12,457.29" fill="#00CBCC"/><polygon points="675.94,458.15 670.19,454.85 670.19,461.45" fill="#00CBCC"/>
</g>
<rect x="91.40" y="504.60" width="392.30" height="37.00" fill="#fff" stroke="#000" stroke-width="1.2"/>
<line x1="92.30" y1="514.30" x2="125.50" y2="514.30" stroke="#515151" stroke-width="1.45"/>
<rect x="106.20" y="511.75" width="5.10" height="5.10" fill="#515151"/>
<text x="128.90" y="518.70" font-size="14">Element 1</text>
<line x1="189.70" y1="514.30" x2="222.90" y2="514.30" stroke="#F14040" stroke-width="1.6"/>
<circle cx="206.15" cy="514.30" r="2.70" fill="#F14040"/>
<text x="226.30" y="518.70" font-size="14">Element 2</text>
<line x1="287.10" y1="514.30" x2="320.30" y2="514.30" stroke="#1A6FDF" stroke-width="1.6"/>
<polygon points="303.55,510.50 306.85,516.25 300.25,516.25" fill="#1A6FDF"/>
<text x="323.70" y="518.70" font-size="14">Element 3</text>
<line x1="384.50" y1="514.30" x2="417.70" y2="514.30" stroke="#37AD6B" stroke-width="1.6"/>
<polygon points="400.95,518.10 404.25,512.35 397.65,512.35" fill="#37AD6B"/>
<text x="421.10" y="518.70" font-size="14">Element 4</text>
<line x1="92.30" y1="532.00" x2="125.50" y2="532.00" stroke="#B177DE" stroke-width="1.6"/>
<polygon points="108.75,528.60 111.95,532.00 108.75,535.40 105.55,532.00" fill="#B177DE"/>
<text x="128.90" y="536.40" font-size="14">Element 5</text>
<line x1="189.70" y1="532.00" x2="222.90" y2="532.00" stroke="#CC9900" stroke-width="1.6"/>
<polygon points="202.35,532.00 208.10,528.70 208.10,535.30" fill="#CC9900"/>
<text x="226.30" y="536.40" font-size="14">Element 6</text>
<line x1="287.10" y1="532.00" x2="320.30" y2="532.00" stroke="#00CBCC" stroke-width="1.6" stroke-dasharray="4.3 2.6"/>
<polygon points="307.35,532.00 301.60,528.70 301.60,535.30" fill="#00CBCC"/>
<text x="323.70" y="536.40" font-size="14">Average</text>
<rect x="53.30" y="311.00" width="631.00" height="241.90" fill="none" stroke="#000" stroke-width="1.3"/>
<text x="44.8" y="315.90" font-size="16.3" text-anchor="end">5</text>
<text x="44.8" y="350.50" font-size="16.3" text-anchor="end">0</text>
<text x="44.8" y="385.10" font-size="16.3" text-anchor="end">-5</text>
<text x="44.8" y="419.70" font-size="16.3" text-anchor="end">-10</text>
<text x="44.8" y="454.30" font-size="16.3" text-anchor="end">-15</text>
<text x="44.8" y="488.90" font-size="16.3" text-anchor="end">-20</text>
<text x="44.8" y="523.50" font-size="16.3" text-anchor="end">-25</text>
<text x="44.8" y="558.10" font-size="16.3" text-anchor="end">-30</text>
<path d="M73.43 552.90v-3.6M93.81 552.90v-7M114.19 552.90v-3.6M134.57 552.90v-7M154.95 552.90v-3.6M175.33 552.90v-7M195.71 552.90v-3.6M216.09 552.90v-7M236.47 552.90v-3.6M256.85 552.90v-7M277.23 552.90v-3.6M297.61 552.90v-7M317.99 552.90v-3.6M338.37 552.90v-7M358.75 552.90v-3.6M379.13 552.90v-7M399.51 552.90v-3.6M419.89 552.90v-7M440.27 552.90v-3.6M460.65 552.90v-7M481.03 552.90v-3.6M501.41 552.90v-7M521.79 552.90v-3.6M542.17 552.90v-7M562.55 552.90v-3.6M582.93 552.90v-7M603.31 552.90v-3.6M623.69 552.90v-7M644.07 552.90v-3.6M664.45 552.90v-7M53.30 328.05h4M53.30 345.35h7.4M53.30 362.65h4M53.30 379.95h7.4M53.30 397.25h4M53.30 414.55h7.4M53.30 431.85h4M53.30 449.15h7.4M53.30 466.45h4M53.30 483.75h7.4M53.30 501.05h4M53.30 518.35h7.4M53.30 535.65h4" stroke="#000" stroke-width="1.3" fill="none"/>
<text transform="translate(14.8 431.95) rotate(-90)" font-size="20.45" text-anchor="middle">Stress (MPa)</text>
<text x="368.8" y="576.80" font-size="20.5" text-anchor="middle">Position</text>
<text x="340" y="601.70" font-size="20" text-anchor="middle">(b)</text><path d="M93.81 616.70V858.50" stroke="#808080" stroke-opacity="0.23" stroke-width="0.85" stroke-dasharray="2.8 1.9" fill="none"/>
<path d="M134.57 616.70V858.50" stroke="#808080" stroke-opacity="0.54" stroke-width="0.85" stroke-dasharray="2.8 1.9" fill="none"/>
<path d="M175.33 616.70V858.50" stroke="#808080" stroke-opacity="0.81" stroke-width="0.85" stroke-dasharray="2.8 1.9" fill="none"/>
<path d="M216.09 616.70V858.50" stroke="#808080" stroke-opacity="0.81" stroke-width="0.85" stroke-dasharray="2.8 1.9" fill="none"/>
<path d="M256.85 616.70V858.50" stroke="#808080" stroke-opacity="0.27" stroke-width="0.85" stroke-dasharray="2.8 1.9" fill="none"/>
<path d="M297.61 616.70V858.50" stroke="#808080" stroke-opacity="0.63" stroke-width="0.85" stroke-dasharray="2.8 1.9" fill="none"/>
<path d="M338.37 616.70V858.50" stroke="#808080" stroke-opacity="0.81" stroke-width="0.85" stroke-dasharray="2.8 1.9" fill="none"/>
<path d="M379.13 616.70V858.50" stroke="#808080" stroke-opacity="0.54" stroke-width="0.85" stroke-dasharray="2.8 1.9" fill="none"/>
<path d="M419.89 616.70V858.50" stroke="#808080" stroke-opacity="0.36" stroke-width="0.85" stroke-dasharray="2.8 1.9" fill="none"/>
<path d="M460.65 616.70V858.50" stroke="#808080" stroke-opacity="0.68" stroke-width="0.85" stroke-dasharray="2.8 1.9" fill="none"/>
<path d="M501.41 616.70V858.50" stroke="#808080" stroke-opacity="0.54" stroke-width="0.85" stroke-dasharray="2.8 1.9" fill="none"/>
<path d="M542.17 616.70V858.50" stroke="#808080" stroke-opacity="0.38" stroke-width="0.85" stroke-dasharray="2.8 1.9" fill="none"/>
<path d="M582.93 616.70V858.50" stroke="#808080" stroke-opacity="0.18" stroke-width="0.85" stroke-dasharray="2.8 1.9" fill="none"/>
<path d="M623.69 616.70V858.50" stroke="#808080" stroke-opacity="0.81" stroke-width="0.85" stroke-dasharray="2.8 1.9" fill="none"/>
<path d="M664.45 616.70V858.50" stroke="#808080" stroke-opacity="0.41" stroke-width="0.85" stroke-dasharray="2.8 1.9" fill="none"/>
<path d="M53.30 651.10H684.30" stroke="#808080" stroke-opacity="0.36" stroke-width="0.85" stroke-dasharray="2.8 1.9" fill="none"/>
<path d="M53.30 685.70H684.30" stroke="#808080" stroke-opacity="0.68" stroke-width="0.85" stroke-dasharray="2.8 1.9" fill="none"/>
<path d="M53.30 720.30H684.30" stroke="#808080" stroke-opacity="0.54" stroke-width="0.85" stroke-dasharray="2.8 1.9" fill="none"/>
<path d="M53.30 754.90H684.30" stroke="#808080" stroke-opacity="0.72" stroke-width="0.85" stroke-dasharray="2.8 1.9" fill="none"/>
<path d="M53.30 789.50H684.30" stroke="#808080" stroke-opacity="0.54" stroke-width="0.85" stroke-dasharray="2.8 1.9" fill="none"/>
<path d="M53.30 824.10H684.30" stroke="#808080" stroke-opacity="0.63" stroke-width="0.85" stroke-dasharray="2.8 1.9" fill="none"/>
<g clip-path="url(#clip2)">
<polyline points="53.20,696.77 57.27,696.77 61.34,649.58 65.42,649.16 69.49,638.64 73.56,642.73 77.63,643.35 81.70,648.54 85.78,660.51 89.85,663.14 93.92,656.15 97.99,653.52 102.06,660.51 106.14,664.46 110.21,680.86 114.28,697.19 118.35,694.70 122.42,691.10 126.50,689.64 130.57,689.16 134.64,689.16 138.71,689.16 142.78,689.16 146.86,689.16 150.93,689.16 155.00,689.16 159.07,689.51 163.14,689.85 167.22,690.20 171.29,690.54 175.36,690.99 179.43,691.44 183.50,692.24 187.58,693.04 191.65,688.47 195.72,677.88 199.79,673.24 203.86,674.42 207.94,682.59 212.01,684.18 216.08,674.42 220.15,672.76 224.22,677.88 228.30,687.71 232.37,689.58 236.44,688.40 240.51,688.05 244.58,687.71 248.66,687.71 252.73,687.71 256.80,688.05 260.87,688.40 264.94,689.13 269.02,689.85 273.09,691.93 277.16,694.70 281.23,702.03 285.30,710.06 289.38,680.16 293.45,650.62 297.52,645.22 301.59,641.55 305.66,643.00 309.74,642.31 313.81,648.89 317.88,656.15 321.95,679.47 326.02,703.55 330.10,678.78 334.17,685.28 338.24,682.24 342.31,661.69 346.38,659.82 350.46,658.30 354.53,673.66 358.60,691.86 362.67,690.75 366.74,683.07 370.82,674.42 374.89,672.07 378.96,679.06 383.03,687.71 387.10,689.58 391.18,690.06 395.25,690.41 399.32,690.75 403.39,690.75 407.46,690.75 411.54,691.10 415.61,691.44 419.68,691.93 423.75,690.06 427.82,678.09 431.90,673.94 435.97,676.70 440.04,684.87 444.11,683.28 448.18,674.42 452.26,674.42 456.33,677.88 460.40,688.40 464.47,691.93 468.54,690.75 472.62,689.58 476.69,688.99 480.76,688.40 484.83,688.16 488.90,687.91 492.98,688.50 497.05,689.09 501.12,690.06 505.19,692.62 509.26,696.98 513.34,703.55 517.41,715.94 521.48,686.74 525.55,654.70 529.62,647.09 533.70,646.67 537.77,649.16 541.84,649.99 545.91,650.34 549.98,650.34 554.06,650.34 558.13,650.34 562.20,650.34 566.27,650.34 570.34,650.34 574.42,650.34 578.49,650.34 582.56,647.36 586.63,643.97 590.70,644.66 594.78,653.38 598.85,656.84 602.92,657.33 606.99,663.42 611.06,674.35 615.14,691.86 619.21,690.41 623.28,675.11 627.35,670.75 631.42,675.11 635.50,687.91 639.57,689.37 643.64,688.95 647.71,689.99 651.78,691.10 655.86,693.31 659.93,695.53 664.00,698.43 668.07,701.06 672.14,702.79" fill="none" stroke="#515151" stroke-width="1.45" stroke-linejoin="round"/>
<rect x="54.72" y="694.22" width="5.10" height="5.10" fill="#515151"/><rect x="62.87" y="646.61" width="5.10" height="5.10" fill="#515151"/><rect x="71.01" y="640.18" width="5.10" height="5.10" fill="#515151"/><rect x="79.15" y="645.99" width="5.10" height="5.10" fill="#515151"/><rect x="87.30" y="660.59" width="5.10" height="5.10" fill="#515151"/><rect x="95.44" y="650.97" width="5.10" height="5.10" fill="#515151"/><rect x="103.59" y="661.91" width="5.10" height="5.10" fill="#515151"/><rect x="111.73" y="694.64" width="5.10" height="5.10" fill="#515151"/><rect x="119.87" y="688.55" width="5.10" height="5.10" fill="#515151"/><rect x="128.02" y="686.61" width="5.10" height="5.10" fill="#515151"/><rect x="136.16" y="686.61" width="5.10" height="5.10" fill="#515151"/><rect x="144.31" y="686.61" width="5.10" height="5.10" fill="#515151"/><rect x="152.45" y="686.61" width="5.10" height="5.10" fill="#515151"/><rect x="160.59" y="687.30" width="5.10" height="5.10" fill="#515151"/><rect x="168.74" y="687.99" width="5.10" height="5.10" fill="#515151"/><rect x="176.88" y="688.89" width="5.10" height="5.10" fill="#515151"/><rect x="185.03" y="690.49" width="5.10" height="5.10" fill="#515151"/><rect x="193.17" y="675.33" width="5.10" height="5.10" fill="#515151"/><rect x="201.31" y="671.87" width="5.10" height="5.10" fill="#515151"/><rect x="209.46" y="681.63" width="5.10" height="5.10" fill="#515151"/><rect x="217.60" y="670.21" width="5.10" height="5.10" fill="#515151"/><rect x="225.75" y="685.16" width="5.10" height="5.10" fill="#515151"/><rect x="233.89" y="685.85" width="5.10" height="5.10" fill="#515151"/><rect x="242.03" y="685.16" width="5.10" height="5.10" fill="#515151"/><rect x="250.18" y="685.16" width="5.10" height="5.10" fill="#515151"/><rect x="258.32" y="685.85" width="5.10" height="5.10" fill="#515151"/><rect x="266.47" y="687.30" width="5.10" height="5.10" fill="#515151"/><rect x="274.61" y="692.15" width="5.10" height="5.10" fill="#515151"/><rect x="282.75" y="707.51" width="5.10" height="5.10" fill="#515151"/><rect x="290.90" y="648.07" width="5.10" height="5.10" fill="#515151"/><rect x="299.04" y="639.00" width="5.10" height="5.10" fill="#515151"/><rect x="307.19" y="639.76" width="5.10" height="5.10" fill="#515151"/><rect x="315.33" y="653.60" width="5.10" height="5.10" fill="#515151"/><rect x="323.47" y="701.00" width="5.10" height="5.10" fill="#515151"/><rect x="331.62" y="682.73" width="5.10" height="5.10" fill="#515151"/><rect x="339.76" y="659.14" width="5.10" height="5.10" fill="#515151"/><rect x="347.91" y="655.75" width="5.10" height="5.10" fill="#515151"/><rect x="356.05" y="689.31" width="5.10" height="5.10" fill="#515151"/><rect x="364.19" y="680.52" width="5.10" height="5.10" fill="#515151"/><rect x="372.34" y="669.52" width="5.10" height="5.10" fill="#515151"/><rect x="380.48" y="685.16" width="5.10" height="5.10" fill="#515151"/><rect x="388.63" y="687.51" width="5.10" height="5.10" fill="#515151"/><rect x="396.77" y="688.20" width="5.10" height="5.10" fill="#515151"/><rect x="404.91" y="688.20" width="5.10" height="5.10" fill="#515151"/><rect x="413.06" y="688.89" width="5.10" height="5.10" fill="#515151"/><rect x="421.20" y="687.51" width="5.10" height="5.10" fill="#515151"/><rect x="429.35" y="671.39" width="5.10" height="5.10" fill="#515151"/><rect x="437.49" y="682.32" width="5.10" height="5.10" fill="#515151"/><rect x="445.63" y="671.87" width="5.10" height="5.10" fill="#515151"/><rect x="453.78" y="675.33" width="5.10" height="5.10" fill="#515151"/><rect x="461.92" y="689.38" width="5.10" height="5.10" fill="#515151"/><rect x="470.07" y="687.03" width="5.10" height="5.10" fill="#515151"/><rect x="478.21" y="685.85" width="5.10" height="5.10" fill="#515151"/><rect x="486.35" y="685.36" width="5.10" height="5.10" fill="#515151"/><rect x="494.50" y="686.54" width="5.10" height="5.10" fill="#515151"/><rect x="502.64" y="690.07" width="5.10" height="5.10" fill="#515151"/><rect x="510.79" y="701.00" width="5.10" height="5.10" fill="#515151"/><rect x="518.93" y="684.19" width="5.10" height="5.10" fill="#515151"/><rect x="527.07" y="644.54" width="5.10" height="5.10" fill="#515151"/><rect x="535.22" y="646.61" width="5.10" height="5.10" fill="#515151"/><rect x="543.36" y="647.79" width="5.10" height="5.10" fill="#515151"/><rect x="551.51" y="647.79" width="5.10" height="5.10" fill="#515151"/><rect x="559.65" y="647.79" width="5.10" height="5.10" fill="#515151"/><rect x="567.79" y="647.79" width="5.10" height="5.10" fill="#515151"/><rect x="575.94" y="647.79" width="5.10" height="5.10" fill="#515151"/><rect x="584.08" y="641.42" width="5.10" height="5.10" fill="#515151"/><rect x="592.23" y="650.83" width="5.10" height="5.10" fill="#515151"/><rect x="600.37" y="654.78" width="5.10" height="5.10" fill="#515151"/><rect x="608.51" y="671.80" width="5.10" height="5.10" fill="#515151"/><rect x="616.66" y="687.86" width="5.10" height="5.10" fill="#515151"/><rect x="624.80" y="668.20" width="5.10" height="5.10" fill="#515151"/><rect x="632.95" y="685.36" width="5.10" height="5.10" fill="#515151"/><rect x="641.09" y="686.40" width="5.10" height="5.10" fill="#515151"/><rect x="649.23" y="688.55" width="5.10" height="5.10" fill="#515151"/><rect x="657.38" y="692.98" width="5.10" height="5.10" fill="#515151"/><rect x="665.52" y="698.51" width="5.10" height="5.10" fill="#515151"/><rect x="669.59" y="700.24" width="5.10" height="5.10" fill="#515151"/>
<polyline points="53.20,815.80 57.27,815.80 61.34,688.47 65.42,674.97 69.49,659.06 73.56,649.02 77.63,653.18 81.70,658.37 85.78,740.37 89.85,766.39 93.92,674.97 97.99,688.81 102.06,681.62 106.14,710.06 110.21,744.52 114.28,761.82 118.35,746.60 122.42,742.44 126.50,739.40 130.57,737.95 134.64,738.26 138.71,738.57 142.78,738.26 146.86,737.95 150.93,738.02 155.00,738.08 159.07,738.08 163.14,738.08 167.22,738.33 171.29,738.57 175.36,739.12 179.43,739.68 183.50,741.20 187.58,742.72 191.65,736.22 195.72,726.87 199.79,718.02 203.86,719.40 207.94,736.56 212.01,737.25 216.08,722.24 220.15,716.84 224.22,725.70 228.30,738.57 232.37,737.60 236.44,736.22 240.51,735.63 244.58,735.04 248.66,734.69 252.73,734.35 256.80,735.04 260.87,735.73 264.94,737.36 269.02,738.98 273.09,743.83 277.16,750.06 281.23,763.90 285.30,791.58 289.38,724.45 293.45,662.24 297.52,649.58 301.59,645.91 305.66,645.22 309.74,649.16 313.81,659.06 317.88,682.66 321.95,747.98 326.02,783.06 330.10,727.70 334.17,739.33 338.24,753.93 342.31,683.42 346.38,663.42 350.46,669.99 354.53,698.43 358.60,753.93 362.67,742.44 366.74,735.04 370.82,723.41 374.89,716.36 378.96,725.70 383.03,736.22 387.10,738.57 391.18,738.98 395.25,738.98 399.32,738.98 403.39,739.33 407.46,739.68 411.54,740.85 415.61,742.03 419.68,742.58 423.75,743.14 427.82,731.51 431.90,718.71 435.97,725.70 440.04,740.37 444.11,736.91 448.18,723.07 452.26,719.26 456.33,725.84 460.40,739.68 464.47,742.03 468.54,738.57 472.62,737.39 476.69,736.80 480.76,736.22 484.83,736.22 488.90,736.22 492.98,736.80 497.05,737.39 501.12,740.16 505.19,745.21 509.26,754.76 513.34,763.48 517.41,801.26 521.48,770.12 525.55,680.86 529.62,669.23 533.70,645.91 537.77,640.10 541.84,643.76 545.91,645.91 549.98,647.36 554.06,649.16 558.13,649.16 562.20,649.16 566.27,647.36 570.34,645.91 574.42,641.55 578.49,641.55 582.56,637.26 586.63,655.39 590.70,678.09 594.78,702.79 598.85,745.21 602.92,719.61 606.99,723.76 611.06,733.45 615.14,757.67 619.21,748.67 623.28,730.68 627.35,713.38 631.42,720.30 635.50,741.54 639.57,740.09 643.64,740.78 647.71,742.24 651.78,744.52 655.86,748.67 659.93,753.93 664.00,760.44 668.07,766.32 672.14,769.99" fill="none" stroke="#F14040" stroke-width="1.6" stroke-linejoin="round"/>
<circle cx="57.27" cy="815.80" r="2.70" fill="#F14040"/><circle cx="65.42" cy="674.97" r="2.70" fill="#F14040"/><circle cx="73.56" cy="649.02" r="2.70" fill="#F14040"/><circle cx="81.70" cy="658.37" r="2.70" fill="#F14040"/><circle cx="89.85" cy="766.39" r="2.70" fill="#F14040"/><circle cx="97.99" cy="688.81" r="2.70" fill="#F14040"/><circle cx="106.14" cy="710.06" r="2.70" fill="#F14040"/><circle cx="114.28" cy="761.82" r="2.70" fill="#F14040"/><circle cx="122.42" cy="742.44" r="2.70" fill="#F14040"/><circle cx="130.57" cy="737.95" r="2.70" fill="#F14040"/><circle cx="138.71" cy="738.57" r="2.70" fill="#F14040"/><circle cx="146.86" cy="737.95" r="2.70" fill="#F14040"/><circle cx="155.00" cy="738.08" r="2.70" fill="#F14040"/><circle cx="163.14" cy="738.08" r="2.70" fill="#F14040"/><circle cx="171.29" cy="738.57" r="2.70" fill="#F14040"/><circle cx="179.43" cy="739.68" r="2.70" fill="#F14040"/><circle cx="187.58" cy="742.72" r="2.70" fill="#F14040"/><circle cx="195.72" cy="726.87" r="2.70" fill="#F14040"/><circle cx="203.86" cy="719.40" r="2.70" fill="#F14040"/><circle cx="212.01" cy="737.25" r="2.70" fill="#F14040"/><circle cx="220.15" cy="716.84" r="2.70" fill="#F14040"/><circle cx="228.30" cy="738.57" r="2.70" fill="#F14040"/><circle cx="236.44" cy="736.22" r="2.70" fill="#F14040"/><circle cx="244.58" cy="735.04" r="2.70" fill="#F14040"/><circle cx="252.73" cy="734.35" r="2.70" fill="#F14040"/><circle cx="260.87" cy="735.73" r="2.70" fill="#F14040"/><circle cx="269.02" cy="738.98" r="2.70" fill="#F14040"/><circle cx="277.16" cy="750.06" r="2.70" fill="#F14040"/><circle cx="285.30" cy="791.58" r="2.70" fill="#F14040"/><circle cx="293.45" cy="662.24" r="2.70" fill="#F14040"/><circle cx="301.59" cy="645.91" r="2.70" fill="#F14040"/><circle cx="309.74" cy="649.16" r="2.70" fill="#F14040"/><circle cx="317.88" cy="682.66" r="2.70" fill="#F14040"/><circle cx="326.02" cy="783.06" r="2.70" fill="#F14040"/><circle cx="334.17" cy="739.33" r="2.70" fill="#F14040"/><circle cx="342.31" cy="683.42" r="2.70" fill="#F14040"/><circle cx="350.46" cy="669.99" r="2.70" fill="#F14040"/><circle cx="358.60" cy="753.93" r="2.70" fill="#F14040"/><circle cx="366.74" cy="735.04" r="2.70" fill="#F14040"/><circle cx="374.89" cy="716.36" r="2.70" fill="#F14040"/><circle cx="383.03" cy="736.22" r="2.70" fill="#F14040"/><circle cx="391.18" cy="738.98" r="2.70" fill="#F14040"/><circle cx="399.32" cy="738.98" r="2.70" fill="#F14040"/><circle cx="407.46" cy="739.68" r="2.70" fill="#F14040"/><circle cx="415.61" cy="742.03" r="2.70" fill="#F14040"/><circle cx="423.75" cy="743.14" r="2.70" fill="#F14040"/><circle cx="431.90" cy="718.71" r="2.70" fill="#F14040"/><circle cx="440.04" cy="740.37" r="2.70" fill="#F14040"/><circle cx="448.18" cy="723.07" r="2.70" fill="#F14040"/><circle cx="456.33" cy="725.84" r="2.70" fill="#F14040"/><circle cx="464.47" cy="742.03" r="2.70" fill="#F14040"/><circle cx="472.62" cy="737.39" r="2.70" fill="#F14040"/><circle cx="480.76" cy="736.22" r="2.70" fill="#F14040"/><circle cx="488.90" cy="736.22" r="2.70" fill="#F14040"/><circle cx="497.05" cy="737.39" r="2.70" fill="#F14040"/><circle cx="505.19" cy="745.21" r="2.70" fill="#F14040"/><circle cx="513.34" cy="763.48" r="2.70" fill="#F14040"/><circle cx="521.48" cy="770.12" r="2.70" fill="#F14040"/><circle cx="529.62" cy="669.23" r="2.70" fill="#F14040"/><circle cx="537.77" cy="640.10" r="2.70" fill="#F14040"/><circle cx="545.91" cy="645.91" r="2.70" fill="#F14040"/><circle cx="554.06" cy="649.16" r="2.70" fill="#F14040"/><circle cx="562.20" cy="649.16" r="2.70" fill="#F14040"/><circle cx="570.34" cy="645.91" r="2.70" fill="#F14040"/><circle cx="578.49" cy="641.55" r="2.70" fill="#F14040"/><circle cx="586.63" cy="655.39" r="2.70" fill="#F14040"/><circle cx="594.78" cy="702.79" r="2.70" fill="#F14040"/><circle cx="602.92" cy="719.61" r="2.70" fill="#F14040"/><circle cx="611.06" cy="733.45" r="2.70" fill="#F14040"/><circle cx="619.21" cy="748.67" r="2.70" fill="#F14040"/><circle cx="627.35" cy="713.38" r="2.70" fill="#F14040"/><circle cx="635.50" cy="741.54" r="2.70" fill="#F14040"/><circle cx="643.64" cy="740.78" r="2.70" fill="#F14040"/><circle cx="651.78" cy="744.52" r="2.70" fill="#F14040"/><circle cx="659.93" cy="753.93" r="2.70" fill="#F14040"/><circle cx="668.07" cy="766.32" r="2.70" fill="#F14040"/><circle cx="672.14" cy="769.99" r="2.70" fill="#F14040"/>
<polyline points="53.20,820.64 57.27,820.64 61.34,764.93 65.42,678.09 69.49,676.01 73.56,662.86 77.63,675.11 81.70,695.53 85.78,774.97 89.85,815.10 93.92,754.69 97.99,757.67 102.06,761.13 106.14,775.38 110.21,761.82 114.28,750.06 118.35,741.75 122.42,737.95 126.50,735.52 130.57,735.04 134.64,734.76 138.71,734.49 142.78,734.35 146.86,734.21 150.93,734.07 155.00,733.93 159.07,733.85 163.14,733.76 167.22,733.67 171.29,733.59 175.36,733.52 179.43,733.45 183.50,733.66 187.58,733.86 191.65,739.68 195.72,749.02 199.79,752.55 203.86,751.44 207.94,747.29 212.01,746.60 216.08,750.75 220.15,751.44 224.22,745.56 228.30,736.22 232.37,731.37 236.44,730.40 240.51,729.85 244.58,729.30 248.66,729.30 252.73,729.30 256.80,729.57 260.87,729.85 264.94,731.30 269.02,732.76 273.09,736.91 277.16,742.44 281.23,753.93 285.30,772.20 289.38,732.76 293.45,693.31 297.52,649.58 301.59,659.06 305.66,645.22 309.74,654.70 313.81,672.21 317.88,753.93 321.95,806.38 326.02,762.51 330.10,770.12 334.17,759.74 338.24,777.04 342.31,739.33 346.38,689.64 350.46,729.16 354.53,761.13 358.60,751.02 362.67,740.85 366.74,744.52 370.82,750.06 374.89,750.75 378.96,745.56 383.03,737.60 387.10,733.86 391.18,732.06 395.25,731.79 399.32,731.51 403.39,732.13 407.46,732.76 411.54,733.31 415.61,733.86 419.68,736.22 423.75,740.85 427.82,750.06 431.90,756.01 435.97,753.72 440.04,749.36 444.11,752.55 448.18,754.90 452.26,754.90 456.33,751.44 460.40,740.85 464.47,736.22 468.54,735.04 472.62,733.86 476.69,733.66 480.76,733.45 484.83,733.66 488.90,733.86 492.98,734.45 497.05,735.04 501.12,737.25 505.19,740.85 509.26,748.67 513.34,757.67 517.41,772.20 521.48,821.82 525.55,756.28 529.62,677.26 533.70,672.21 537.77,652.48 541.84,643.76 545.91,640.86 549.98,645.22 554.06,642.31 558.13,645.91 562.20,642.31 566.27,645.91 570.34,642.31 574.42,645.91 578.49,651.10 582.56,666.32 586.63,678.09 590.70,692.62 594.78,758.36 598.85,825.48 602.92,782.37 606.99,780.92 611.06,774.97 615.14,764.10 619.21,752.48 623.28,756.84 627.35,755.38 631.42,752.48 635.50,741.54 639.57,737.18 643.64,737.88 647.71,739.33 651.78,742.24 655.86,746.60 659.93,752.48 664.00,759.05 668.07,764.86 672.14,769.22" fill="none" stroke="#1A6FDF" stroke-width="1.6" stroke-linejoin="round"/>
<polygon points="57.27,816.84 60.57,822.59 53.97,822.59" fill="#1A6FDF"/><polygon points="65.42,674.29 68.72,680.04 62.12,680.04" fill="#1A6FDF"/><polygon points="73.56,659.06 76.86,664.81 70.26,664.81" fill="#1A6FDF"/><polygon points="81.70,691.73 85.00,697.48 78.40,697.48" fill="#1A6FDF"/><polygon points="89.85,811.30 93.15,817.05 86.55,817.05" fill="#1A6FDF"/><polygon points="97.99,753.87 101.29,759.62 94.69,759.62" fill="#1A6FDF"/><polygon points="106.14,771.58 109.44,777.33 102.84,777.33" fill="#1A6FDF"/><polygon points="114.28,746.26 117.58,752.01 110.98,752.01" fill="#1A6FDF"/><polygon points="122.42,734.15 125.72,739.90 119.12,739.90" fill="#1A6FDF"/><polygon points="130.57,731.24 133.87,736.99 127.27,736.99" fill="#1A6FDF"/><polygon points="138.71,730.69 142.01,736.44 135.41,736.44" fill="#1A6FDF"/><polygon points="146.86,730.41 150.16,736.16 143.56,736.16" fill="#1A6FDF"/><polygon points="155.00,730.13 158.30,735.88 151.70,735.88" fill="#1A6FDF"/><polygon points="163.14,729.96 166.44,735.71 159.84,735.71" fill="#1A6FDF"/><polygon points="171.29,729.79 174.59,735.54 167.99,735.54" fill="#1A6FDF"/><polygon points="179.43,729.65 182.73,735.40 176.13,735.40" fill="#1A6FDF"/><polygon points="187.58,730.06 190.88,735.81 184.28,735.81" fill="#1A6FDF"/><polygon points="195.72,745.22 199.02,750.97 192.42,750.97" fill="#1A6FDF"/><polygon points="203.86,747.64 207.16,753.39 200.56,753.39" fill="#1A6FDF"/><polygon points="212.01,742.80 215.31,748.55 208.71,748.55" fill="#1A6FDF"/><polygon points="220.15,747.64 223.45,753.39 216.85,753.39" fill="#1A6FDF"/><polygon points="228.30,732.42 231.60,738.17 225.00,738.17" fill="#1A6FDF"/><polygon points="236.44,726.60 239.74,732.35 233.14,732.35" fill="#1A6FDF"/><polygon points="244.58,725.50 247.88,731.25 241.28,731.25" fill="#1A6FDF"/><polygon points="252.73,725.50 256.03,731.25 249.43,731.25" fill="#1A6FDF"/><polygon points="260.87,726.05 264.17,731.80 257.57,731.80" fill="#1A6FDF"/><polygon points="269.02,728.96 272.32,734.71 265.72,734.71" fill="#1A6FDF"/><polygon points="277.16,738.64 280.46,744.39 273.86,744.39" fill="#1A6FDF"/><polygon points="285.30,768.40 288.60,774.15 282.00,774.15" fill="#1A6FDF"/><polygon points="293.45,689.51 296.75,695.26 290.15,695.26" fill="#1A6FDF"/><polygon points="301.59,655.26 304.89,661.01 298.29,661.01" fill="#1A6FDF"/><polygon points="309.74,650.90 313.04,656.65 306.44,656.65" fill="#1A6FDF"/><polygon points="317.88,750.13 321.18,755.88 314.58,755.88" fill="#1A6FDF"/><polygon points="326.02,758.71 329.32,764.46 322.72,764.46" fill="#1A6FDF"/><polygon points="334.17,755.94 337.47,761.69 330.87,761.69" fill="#1A6FDF"/><polygon points="342.31,735.53 345.61,741.28 339.01,741.28" fill="#1A6FDF"/><polygon points="350.46,725.36 353.76,731.11 347.16,731.11" fill="#1A6FDF"/><polygon points="358.60,747.22 361.90,752.97 355.30,752.97" fill="#1A6FDF"/><polygon points="366.74,740.72 370.04,746.47 363.44,746.47" fill="#1A6FDF"/><polygon points="374.89,746.95 378.19,752.70 371.59,752.70" fill="#1A6FDF"/><polygon points="383.03,733.80 386.33,739.55 379.73,739.55" fill="#1A6FDF"/><polygon points="391.18,728.26 394.48,734.01 387.88,734.01" fill="#1A6FDF"/><polygon points="399.32,727.71 402.62,733.46 396.02,733.46" fill="#1A6FDF"/><polygon points="407.46,728.96 410.76,734.71 404.16,734.71" fill="#1A6FDF"/><polygon points="415.61,730.06 418.91,735.81 412.31,735.81" fill="#1A6FDF"/><polygon points="423.75,737.05 427.05,742.80 420.45,742.80" fill="#1A6FDF"/><polygon points="431.90,752.21 435.20,757.96 428.60,757.96" fill="#1A6FDF"/><polygon points="440.04,745.56 443.34,751.31 436.74,751.31" fill="#1A6FDF"/><polygon points="448.18,751.10 451.48,756.85 444.88,756.85" fill="#1A6FDF"/><polygon points="456.33,747.64 459.63,753.39 453.03,753.39" fill="#1A6FDF"/><polygon points="464.47,732.42 467.77,738.17 461.17,738.17" fill="#1A6FDF"/><polygon points="472.62,730.06 475.92,735.81 469.32,735.81" fill="#1A6FDF"/><polygon points="480.76,729.65 484.06,735.40 477.46,735.40" fill="#1A6FDF"/><polygon points="488.90,730.06 492.20,735.81 485.60,735.81" fill="#1A6FDF"/><polygon points="497.05,731.24 500.35,736.99 493.75,736.99" fill="#1A6FDF"/><polygon points="505.19,737.05 508.49,742.80 501.89,742.80" fill="#1A6FDF"/><polygon points="513.34,753.87 516.64,759.62 510.04,759.62" fill="#1A6FDF"/><polygon points="521.48,818.02 524.78,823.77 518.18,823.77" fill="#1A6FDF"/><polygon points="529.62,673.46 532.92,679.21 526.32,679.21" fill="#1A6FDF"/><polygon points="537.77,648.68 541.07,654.43 534.47,654.43" fill="#1A6FDF"/><polygon points="545.91,637.06 549.21,642.81 542.61,642.81" fill="#1A6FDF"/><polygon points="554.06,638.51 557.36,644.26 550.76,644.26" fill="#1A6FDF"/><polygon points="562.20,638.51 565.50,644.26 558.90,644.26" fill="#1A6FDF"/><polygon points="570.34,638.51 573.64,644.26 567.04,644.26" fill="#1A6FDF"/><polygon points="578.49,647.30 581.79,653.05 575.19,653.05" fill="#1A6FDF"/><polygon points="586.63,674.29 589.93,680.04 583.33,680.04" fill="#1A6FDF"/><polygon points="594.78,754.56 598.08,760.31 591.48,760.31" fill="#1A6FDF"/><polygon points="602.92,778.57 606.22,784.32 599.62,784.32" fill="#1A6FDF"/><polygon points="611.06,771.17 614.36,776.92 607.76,776.92" fill="#1A6FDF"/><polygon points="619.21,748.68 622.51,754.43 615.91,754.43" fill="#1A6FDF"/><polygon points="627.35,751.58 630.65,757.33 624.05,757.33" fill="#1A6FDF"/><polygon points="635.50,737.74 638.80,743.49 632.20,743.49" fill="#1A6FDF"/><polygon points="643.64,734.08 646.94,739.83 640.34,739.83" fill="#1A6FDF"/><polygon points="651.78,738.44 655.08,744.19 648.48,744.19" fill="#1A6FDF"/><polygon points="659.93,748.68 663.23,754.43 656.63,754.43" fill="#1A6FDF"/><polygon points="668.07,761.06 671.37,766.81 664.77,766.81" fill="#1A6FDF"/><polygon points="672.14,765.42 675.44,771.17 668.84,771.17" fill="#1A6FDF"/>
<polyline points="53.20,746.94 57.27,746.94 61.34,838.63 65.42,783.27 69.49,680.86 73.56,674.35 77.63,650.41 81.70,738.29 85.78,831.71 89.85,772.20 93.92,792.96 97.99,779.81 102.06,779.47 106.14,760.09 110.21,744.52 114.28,736.49 118.35,731.93 122.42,729.02 126.50,727.57 130.57,727.22 134.64,727.03 138.71,726.84 142.78,726.65 146.86,726.46 150.93,726.27 155.00,726.08 159.07,725.89 163.14,725.70 167.22,725.49 171.29,725.28 175.36,725.07 179.43,724.87 183.50,724.66 187.58,724.45 191.65,725.84 195.72,729.30 199.79,731.10 203.86,727.22 207.94,725.70 212.01,727.22 216.08,730.68 220.15,730.40 224.22,726.87 228.30,724.11 232.37,724.11 236.44,724.11 240.51,724.11 244.58,724.11 248.66,724.11 252.73,724.11 256.80,724.11 260.87,724.11 264.94,724.90 269.02,725.70 273.09,726.70 277.16,727.70 281.23,735.52 285.30,737.60 289.38,799.19 293.45,736.91 297.52,666.32 301.59,659.06 305.66,661.96 309.74,654.70 313.81,689.64 317.88,800.57 321.95,761.82 326.02,740.09 330.10,745.21 334.17,740.78 338.24,747.98 342.31,757.67 346.38,759.05 350.46,763.20 354.53,750.75 358.60,729.16 362.67,729.30 366.74,728.05 370.82,730.40 374.89,731.51 378.96,729.23 383.03,726.39 387.10,726.04 391.18,725.70 395.25,725.70 399.32,725.70 403.39,725.70 407.46,725.70 411.54,725.70 415.61,725.70 419.68,725.70 423.75,725.70 427.82,729.23 431.90,733.86 435.97,731.51 440.04,729.23 444.11,731.51 448.18,732.76 452.26,732.06 456.33,729.23 460.40,727.22 464.47,726.87 468.54,727.05 472.62,727.22 476.69,727.98 480.76,728.74 484.83,729.57 488.90,730.40 492.98,731.58 497.05,732.76 501.12,735.52 505.19,738.57 509.26,743.14 513.34,747.29 517.41,751.79 521.48,780.23 525.55,832.75 529.62,763.48 533.70,689.16 537.77,659.82 541.84,661.27 545.91,659.06 549.98,656.15 554.06,656.84 558.13,655.39 562.20,656.43 566.27,657.60 570.34,657.33 574.42,661.96 578.49,656.84 582.56,672.21 586.63,705.77 590.70,778.08 594.78,836.56 598.85,784.52 602.92,783.83 606.99,769.99 611.06,753.17 615.14,744.52 619.21,740.78 623.28,738.64 627.35,742.24 631.42,737.88 635.50,735.73 639.57,734.14 643.64,734.83 647.71,737.18 651.78,739.33 655.86,743.14 659.93,747.98 664.00,754.62 668.07,760.44 672.14,764.10" fill="none" stroke="#37AD6B" stroke-width="1.6" stroke-linejoin="round"/>
<polygon points="57.27,750.74 60.57,744.99 53.97,744.99" fill="#37AD6B"/><polygon points="65.42,787.07 68.72,781.32 62.12,781.32" fill="#37AD6B"/><polygon points="73.56,678.15 76.86,672.40 70.26,672.40" fill="#37AD6B"/><polygon points="81.70,742.09 85.00,736.34 78.40,736.34" fill="#37AD6B"/><polygon points="89.85,776.00 93.15,770.25 86.55,770.25" fill="#37AD6B"/><polygon points="97.99,783.61 101.29,777.86 94.69,777.86" fill="#37AD6B"/><polygon points="106.14,763.89 109.44,758.14 102.84,758.14" fill="#37AD6B"/><polygon points="114.28,740.29 117.58,734.54 110.98,734.54" fill="#37AD6B"/><polygon points="122.42,732.82 125.72,727.07 119.12,727.07" fill="#37AD6B"/><polygon points="130.57,731.02 133.87,725.27 127.27,725.27" fill="#37AD6B"/><polygon points="138.71,730.64 142.01,724.89 135.41,724.89" fill="#37AD6B"/><polygon points="146.86,730.26 150.16,724.51 143.56,724.51" fill="#37AD6B"/><polygon points="155.00,729.88 158.30,724.13 151.70,724.13" fill="#37AD6B"/><polygon points="163.14,729.50 166.44,723.75 159.84,723.75" fill="#37AD6B"/><polygon points="171.29,729.08 174.59,723.33 167.99,723.33" fill="#37AD6B"/><polygon points="179.43,728.67 182.73,722.92 176.13,722.92" fill="#37AD6B"/><polygon points="187.58,728.25 190.88,722.50 184.28,722.50" fill="#37AD6B"/><polygon points="195.72,733.10 199.02,727.35 192.42,727.35" fill="#37AD6B"/><polygon points="203.86,731.02 207.16,725.27 200.56,725.27" fill="#37AD6B"/><polygon points="212.01,731.02 215.31,725.27 208.71,725.27" fill="#37AD6B"/><polygon points="220.15,734.20 223.45,728.45 216.85,728.45" fill="#37AD6B"/><polygon points="228.30,727.91 231.60,722.16 225.00,722.16" fill="#37AD6B"/><polygon points="236.44,727.91 239.74,722.16 233.14,722.16" fill="#37AD6B"/><polygon points="244.58,727.91 247.88,722.16 241.28,722.16" fill="#37AD6B"/><polygon points="252.73,727.91 256.03,722.16 249.43,722.16" fill="#37AD6B"/><polygon points="260.87,727.91 264.17,722.16 257.57,722.16" fill="#37AD6B"/><polygon points="269.02,729.50 272.32,723.75 265.72,723.75" fill="#37AD6B"/><polygon points="277.16,731.50 280.46,725.75 273.86,725.75" fill="#37AD6B"/><polygon points="285.30,741.40 288.60,735.65 282.00,735.65" fill="#37AD6B"/><polygon points="293.45,740.71 296.75,734.96 290.15,734.96" fill="#37AD6B"/><polygon points="301.59,662.86 304.89,657.11 298.29,657.11" fill="#37AD6B"/><polygon points="309.74,658.50 313.04,652.75 306.44,652.75" fill="#37AD6B"/><polygon points="317.88,804.37 321.18,798.62 314.58,798.62" fill="#37AD6B"/><polygon points="326.02,743.89 329.32,738.14 322.72,738.14" fill="#37AD6B"/><polygon points="334.17,744.58 337.47,738.83 330.87,738.83" fill="#37AD6B"/><polygon points="342.31,761.47 345.61,755.72 339.01,755.72" fill="#37AD6B"/><polygon points="350.46,767.00 353.76,761.25 347.16,761.25" fill="#37AD6B"/><polygon points="358.60,732.96 361.90,727.21 355.30,727.21" fill="#37AD6B"/><polygon points="366.74,731.85 370.04,726.10 363.44,726.10" fill="#37AD6B"/><polygon points="374.89,735.31 378.19,729.56 371.59,729.56" fill="#37AD6B"/><polygon points="383.03,730.19 386.33,724.44 379.73,724.44" fill="#37AD6B"/><polygon points="391.18,729.50 394.48,723.75 387.88,723.75" fill="#37AD6B"/><polygon points="399.32,729.50 402.62,723.75 396.02,723.75" fill="#37AD6B"/><polygon points="407.46,729.50 410.76,723.75 404.16,723.75" fill="#37AD6B"/><polygon points="415.61,729.50 418.91,723.75 412.31,723.75" fill="#37AD6B"/><polygon points="423.75,729.50 427.05,723.75 420.45,723.75" fill="#37AD6B"/><polygon points="431.90,737.66 435.20,731.91 428.60,731.91" fill="#37AD6B"/><polygon points="440.04,733.03 443.34,727.28 436.74,727.28" fill="#37AD6B"/><polygon points="448.18,736.56 451.48,730.81 444.88,730.81" fill="#37AD6B"/><polygon points="456.33,733.03 459.63,727.28 453.03,727.28" fill="#37AD6B"/><polygon points="464.47,730.67 467.77,724.92 461.17,724.92" fill="#37AD6B"/><polygon points="472.62,731.02 475.92,725.27 469.32,725.27" fill="#37AD6B"/><polygon points="480.76,732.54 484.06,726.79 477.46,726.79" fill="#37AD6B"/><polygon points="488.90,734.20 492.20,728.45 485.60,728.45" fill="#37AD6B"/><polygon points="497.05,736.56 500.35,730.81 493.75,730.81" fill="#37AD6B"/><polygon points="505.19,742.37 508.49,736.62 501.89,736.62" fill="#37AD6B"/><polygon points="513.34,751.09 516.64,745.34 510.04,745.34" fill="#37AD6B"/><polygon points="521.48,784.03 524.78,778.28 518.18,778.28" fill="#37AD6B"/><polygon points="529.62,767.28 532.92,761.53 526.32,761.53" fill="#37AD6B"/><polygon points="537.77,663.62 541.07,657.87 534.47,657.87" fill="#37AD6B"/><polygon points="545.91,662.86 549.21,657.11 542.61,657.11" fill="#37AD6B"/><polygon points="554.06,660.64 557.36,654.89 550.76,654.89" fill="#37AD6B"/><polygon points="562.20,660.23 565.50,654.48 558.90,654.48" fill="#37AD6B"/><polygon points="570.34,661.13 573.64,655.38 567.04,655.38" fill="#37AD6B"/><polygon points="578.49,660.64 581.79,654.89 575.19,654.89" fill="#37AD6B"/><polygon points="586.63,709.57 589.93,703.82 583.33,703.82" fill="#37AD6B"/><polygon points="594.78,840.36 598.08,834.61 591.48,834.61" fill="#37AD6B"/><polygon points="602.92,787.63 606.22,781.88 599.62,781.88" fill="#37AD6B"/><polygon points="611.06,756.97 614.36,751.22 607.76,751.22" fill="#37AD6B"/><polygon points="619.21,744.58 622.51,738.83 615.91,738.83" fill="#37AD6B"/><polygon points="627.35,746.04 630.65,740.29 624.05,740.29" fill="#37AD6B"/><polygon points="635.50,739.53 638.80,733.78 632.20,733.78" fill="#37AD6B"/><polygon points="643.64,738.63 646.94,732.88 640.34,732.88" fill="#37AD6B"/><polygon points="651.78,743.13 655.08,737.38 648.48,737.38" fill="#37AD6B"/><polygon points="659.93,751.78 663.23,746.03 656.63,746.03" fill="#37AD6B"/><polygon points="668.07,764.24 671.37,758.49 664.77,758.49" fill="#37AD6B"/><polygon points="672.14,767.90 675.44,762.15 668.84,762.15" fill="#37AD6B"/>
<polyline points="53.20,727.57 57.27,727.57 61.34,797.11 65.42,839.32 69.49,790.88 73.56,746.25 77.63,773.58 81.70,806.80 85.78,770.82 89.85,743.83 93.92,741.61 97.99,745.21 102.06,738.71 106.14,732.69 110.21,731.16 114.28,729.64 118.35,728.60 122.42,726.74 126.50,726.29 130.57,725.84 134.64,725.49 138.71,725.14 142.78,724.80 146.86,724.45 150.93,724.19 155.00,723.93 159.07,723.67 163.14,723.41 167.22,723.12 171.29,722.83 175.36,722.53 179.43,722.24 183.50,722.15 187.58,722.05 191.65,721.96 195.72,721.87 199.79,721.78 203.86,721.68 207.94,721.45 212.01,721.22 216.08,720.99 220.15,720.76 224.22,720.53 228.30,720.30 232.37,720.09 236.44,719.88 240.51,720.09 244.58,720.30 248.66,720.65 252.73,720.99 256.80,721.34 260.87,721.68 264.94,721.51 269.02,721.34 273.09,721.16 277.16,720.99 281.23,722.89 285.30,724.80 289.38,753.93 293.45,784.66 297.52,717.53 301.59,646.67 305.66,682.38 309.74,661.96 313.81,725.84 317.88,788.81 321.95,727.70 326.02,732.06 330.10,724.04 334.17,727.70 338.24,724.80 342.31,735.73 346.38,749.36 350.46,738.64 354.53,730.68 358.60,723.34 362.67,723.03 366.74,722.72 370.82,722.72 374.89,722.72 378.96,722.72 383.03,722.72 387.10,722.72 391.18,722.72 395.25,722.72 399.32,722.72 403.39,722.72 407.46,722.72 411.54,722.72 415.61,722.72 419.68,722.72 423.75,722.72 427.82,723.41 431.90,724.11 435.97,724.31 440.04,724.52 444.11,724.76 448.18,725.01 452.26,725.04 456.33,725.07 460.40,725.11 464.47,725.14 468.54,726.01 472.62,726.87 476.69,727.46 480.76,728.05 484.83,728.64 488.90,729.23 492.98,729.82 497.05,730.40 501.12,731.93 505.19,733.45 509.26,736.56 513.34,739.68 517.41,741.41 521.48,743.14 525.55,794.07 529.62,852.47 533.70,794.07 537.77,729.02 541.84,689.64 545.91,693.31 549.98,683.83 554.06,670.75 558.13,675.11 562.20,675.11 566.27,698.43 570.34,712.96 574.42,711.51 578.49,738.29 582.56,783.96 586.63,834.20 590.70,848.04 594.78,781.61 598.85,746.60 602.92,744.52 606.99,742.24 611.06,740.78 615.14,738.64 619.21,736.42 623.28,736.08 627.35,735.73 631.42,735.73 635.50,735.73 639.57,736.08 643.64,736.42 647.71,737.88 651.78,740.09 655.86,743.00 659.93,747.29 664.00,753.17 668.07,759.05 672.14,763.41" fill="none" stroke="#B177DE" stroke-width="1.6" stroke-linejoin="round"/>
<polygon points="57.27,724.17 60.47,727.57 57.27,730.97 54.07,727.57" fill="#B177DE"/><polygon points="65.42,835.92 68.62,839.32 65.42,842.72 62.22,839.32" fill="#B177DE"/><polygon points="73.56,742.85 76.76,746.25 73.56,749.65 70.36,746.25" fill="#B177DE"/><polygon points="81.70,803.40 84.90,806.80 81.70,810.20 78.50,806.80" fill="#B177DE"/><polygon points="89.85,740.43 93.05,743.83 89.85,747.23 86.65,743.83" fill="#B177DE"/><polygon points="97.99,741.81 101.19,745.21 97.99,748.61 94.79,745.21" fill="#B177DE"/><polygon points="106.14,729.29 109.34,732.69 106.14,736.09 102.94,732.69" fill="#B177DE"/><polygon points="114.28,726.24 117.48,729.64 114.28,733.04 111.08,729.64" fill="#B177DE"/><polygon points="122.42,723.34 125.62,726.74 122.42,730.14 119.22,726.74" fill="#B177DE"/><polygon points="130.57,722.44 133.77,725.84 130.57,729.24 127.37,725.84" fill="#B177DE"/><polygon points="138.71,721.74 141.91,725.14 138.71,728.54 135.51,725.14" fill="#B177DE"/><polygon points="146.86,721.05 150.06,724.45 146.86,727.85 143.66,724.45" fill="#B177DE"/><polygon points="155.00,720.53 158.20,723.93 155.00,727.33 151.80,723.93" fill="#B177DE"/><polygon points="163.14,720.01 166.34,723.41 163.14,726.81 159.94,723.41" fill="#B177DE"/><polygon points="171.29,719.43 174.49,722.83 171.29,726.23 168.09,722.83" fill="#B177DE"/><polygon points="179.43,718.84 182.63,722.24 179.43,725.64 176.23,722.24" fill="#B177DE"/><polygon points="187.58,718.65 190.78,722.05 187.58,725.45 184.38,722.05" fill="#B177DE"/><polygon points="195.72,718.47 198.92,721.87 195.72,725.27 192.52,721.87" fill="#B177DE"/><polygon points="203.86,718.28 207.06,721.68 203.86,725.08 200.66,721.68" fill="#B177DE"/><polygon points="212.01,717.82 215.21,721.22 212.01,724.62 208.81,721.22" fill="#B177DE"/><polygon points="220.15,717.36 223.35,720.76 220.15,724.16 216.95,720.76" fill="#B177DE"/><polygon points="228.30,716.90 231.50,720.30 228.30,723.70 225.10,720.30" fill="#B177DE"/><polygon points="236.44,716.48 239.64,719.88 236.44,723.28 233.24,719.88" fill="#B177DE"/><polygon points="244.58,716.90 247.78,720.30 244.58,723.70 241.38,720.30" fill="#B177DE"/><polygon points="252.73,717.59 255.93,720.99 252.73,724.39 249.53,720.99" fill="#B177DE"/><polygon points="260.87,718.28 264.07,721.68 260.87,725.08 257.67,721.68" fill="#B177DE"/><polygon points="269.02,717.94 272.22,721.34 269.02,724.74 265.82,721.34" fill="#B177DE"/><polygon points="277.16,717.59 280.36,720.99 277.16,724.39 273.96,720.99" fill="#B177DE"/><polygon points="285.30,721.40 288.50,724.80 285.30,728.20 282.10,724.80" fill="#B177DE"/><polygon points="293.45,781.26 296.65,784.66 293.45,788.06 290.25,784.66" fill="#B177DE"/><polygon points="301.59,643.27 304.79,646.67 301.59,650.07 298.39,646.67" fill="#B177DE"/><polygon points="309.74,658.56 312.94,661.96 309.74,665.36 306.54,661.96" fill="#B177DE"/><polygon points="317.88,785.41 321.08,788.81 317.88,792.21 314.68,788.81" fill="#B177DE"/><polygon points="326.02,728.66 329.22,732.06 326.02,735.46 322.82,732.06" fill="#B177DE"/><polygon points="334.17,724.30 337.37,727.70 334.17,731.10 330.97,727.70" fill="#B177DE"/><polygon points="342.31,732.33 345.51,735.73 342.31,739.13 339.11,735.73" fill="#B177DE"/><polygon points="350.46,735.24 353.66,738.64 350.46,742.04 347.26,738.64" fill="#B177DE"/><polygon points="358.60,719.94 361.80,723.34 358.60,726.74 355.40,723.34" fill="#B177DE"/><polygon points="366.74,719.32 369.94,722.72 366.74,726.12 363.54,722.72" fill="#B177DE"/><polygon points="374.89,719.32 378.09,722.72 374.89,726.12 371.69,722.72" fill="#B177DE"/><polygon points="383.03,719.32 386.23,722.72 383.03,726.12 379.83,722.72" fill="#B177DE"/><polygon points="391.18,719.32 394.38,722.72 391.18,726.12 387.98,722.72" fill="#B177DE"/><polygon points="399.32,719.32 402.52,722.72 399.32,726.12 396.12,722.72" fill="#B177DE"/><polygon points="407.46,719.32 410.66,722.72 407.46,726.12 404.26,722.72" fill="#B177DE"/><polygon points="415.61,719.32 418.81,722.72 415.61,726.12 412.41,722.72" fill="#B177DE"/><polygon points="423.75,719.32 426.95,722.72 423.75,726.12 420.55,722.72" fill="#B177DE"/><polygon points="431.90,720.71 435.10,724.11 431.90,727.51 428.70,724.11" fill="#B177DE"/><polygon points="440.04,721.12 443.24,724.52 440.04,727.92 436.84,724.52" fill="#B177DE"/><polygon points="448.18,721.61 451.38,725.01 448.18,728.41 444.98,725.01" fill="#B177DE"/><polygon points="456.33,721.67 459.53,725.07 456.33,728.47 453.13,725.07" fill="#B177DE"/><polygon points="464.47,721.74 467.67,725.14 464.47,728.54 461.27,725.14" fill="#B177DE"/><polygon points="472.62,723.47 475.82,726.87 472.62,730.27 469.42,726.87" fill="#B177DE"/><polygon points="480.76,724.65 483.96,728.05 480.76,731.45 477.56,728.05" fill="#B177DE"/><polygon points="488.90,725.83 492.10,729.23 488.90,732.63 485.70,729.23" fill="#B177DE"/><polygon points="497.05,727.00 500.25,730.40 497.05,733.80 493.85,730.40" fill="#B177DE"/><polygon points="505.19,730.05 508.39,733.45 505.19,736.85 501.99,733.45" fill="#B177DE"/><polygon points="513.34,736.28 516.54,739.68 513.34,743.08 510.14,739.68" fill="#B177DE"/><polygon points="521.48,739.74 524.68,743.14 521.48,746.54 518.28,743.14" fill="#B177DE"/><polygon points="529.62,849.07 532.82,852.47 529.62,855.87 526.42,852.47" fill="#B177DE"/><polygon points="537.77,725.62 540.97,729.02 537.77,732.42 534.57,729.02" fill="#B177DE"/><polygon points="545.91,689.91 549.11,693.31 545.91,696.71 542.71,693.31" fill="#B177DE"/><polygon points="554.06,667.35 557.26,670.75 554.06,674.15 550.86,670.75" fill="#B177DE"/><polygon points="562.20,671.71 565.40,675.11 562.20,678.51 559.00,675.11" fill="#B177DE"/><polygon points="570.34,709.56 573.54,712.96 570.34,716.36 567.14,712.96" fill="#B177DE"/><polygon points="578.49,734.89 581.69,738.29 578.49,741.69 575.29,738.29" fill="#B177DE"/><polygon points="586.63,830.80 589.83,834.20 586.63,837.60 583.43,834.20" fill="#B177DE"/><polygon points="594.78,778.21 597.98,781.61 594.78,785.01 591.58,781.61" fill="#B177DE"/><polygon points="602.92,741.12 606.12,744.52 602.92,747.92 599.72,744.52" fill="#B177DE"/><polygon points="611.06,737.38 614.26,740.78 611.06,744.18 607.86,740.78" fill="#B177DE"/><polygon points="619.21,733.02 622.41,736.42 619.21,739.82 616.01,736.42" fill="#B177DE"/><polygon points="627.35,732.33 630.55,735.73 627.35,739.13 624.15,735.73" fill="#B177DE"/><polygon points="635.50,732.33 638.70,735.73 635.50,739.13 632.30,735.73" fill="#B177DE"/><polygon points="643.64,733.02 646.84,736.42 643.64,739.82 640.44,736.42" fill="#B177DE"/><polygon points="651.78,736.69 654.98,740.09 651.78,743.49 648.58,740.09" fill="#B177DE"/><polygon points="659.93,743.89 663.13,747.29 659.93,750.69 656.73,747.29" fill="#B177DE"/><polygon points="668.07,755.65 671.27,759.05 668.07,762.45 664.87,759.05" fill="#B177DE"/><polygon points="672.14,760.01 675.34,763.41 672.14,766.81 668.94,763.41" fill="#B177DE"/>
<polyline points="53.20,689.64 57.27,689.64 61.34,701.62 65.42,705.77 69.49,761.82 73.56,785.35 77.63,777.04 81.70,735.52 85.78,705.77 89.85,703.00 93.92,706.46 97.99,709.92 102.06,712.69 106.14,714.76 110.21,716.84 114.28,718.71 118.35,720.16 122.42,720.92 126.50,721.68 130.57,721.68 134.64,721.34 138.71,720.30 142.78,719.50 146.86,718.71 150.93,718.12 155.00,717.53 159.07,716.94 163.14,716.36 167.22,715.78 171.29,715.21 175.36,714.64 179.43,714.07 183.50,713.24 187.58,712.41 191.65,711.51 195.72,710.61 199.79,710.34 203.86,710.06 207.94,709.95 212.01,709.85 216.08,710.44 220.15,711.03 224.22,711.96 228.30,712.90 232.37,713.69 236.44,714.49 240.51,715.08 244.58,715.66 248.66,716.25 252.73,716.84 256.80,716.98 260.87,717.12 264.94,716.56 269.02,716.01 273.09,714.69 277.16,713.38 281.23,709.92 285.30,707.15 289.38,720.30 293.45,749.57 297.52,771.51 301.59,747.98 305.66,772.89 309.74,777.25 313.81,761.13 317.88,718.09 321.95,702.03 326.02,702.79 330.10,704.25 334.17,705.01 338.24,706.46 342.31,707.15 346.38,707.50 350.46,707.84 354.53,708.19 358.60,708.54 362.67,709.54 366.74,710.54 370.82,711.13 374.89,711.72 378.96,712.55 383.03,713.38 387.10,713.97 391.18,714.56 395.25,714.90 399.32,715.25 403.39,715.25 407.46,715.25 411.54,714.90 415.61,714.56 419.68,713.73 423.75,712.90 427.82,712.31 431.90,711.72 435.97,711.72 440.04,711.72 444.11,712.07 448.18,712.41 452.26,713.48 456.33,714.56 460.40,716.29 464.47,718.02 468.54,719.78 472.62,721.55 476.69,722.83 480.76,724.11 484.83,724.90 488.90,725.70 492.98,726.46 497.05,727.22 501.12,727.91 505.19,727.77 509.26,726.53 513.34,725.49 517.41,721.68 521.48,718.09 525.55,719.61 529.62,736.91 533.70,794.07 537.77,836.35 541.84,822.51 545.91,840.71 549.98,849.50 554.06,826.18 558.13,842.09 562.20,831.99 566.27,848.04 570.34,856.62 574.42,837.94 578.49,842.78 582.56,808.67 586.63,767.36 590.70,723.07 594.78,712.69 598.85,714.76 602.92,717.74 606.99,720.65 611.06,723.76 615.14,725.97 619.21,727.64 623.28,729.09 627.35,729.85 631.42,731.03 635.50,732.20 639.57,733.45 643.64,734.62 647.71,736.22 651.78,737.18 655.86,740.78 659.93,744.52 664.00,749.57 668.07,753.93 672.14,759.05" fill="none" stroke="#CC9900" stroke-width="1.6" stroke-linejoin="round"/>
<polygon points="53.47,689.64 59.22,686.34 59.22,692.94" fill="#CC9900"/><polygon points="61.62,705.77 67.37,702.47 67.37,709.07" fill="#CC9900"/><polygon points="69.76,785.35 75.51,782.05 75.51,788.65" fill="#CC9900"/><polygon points="77.90,735.52 83.65,732.22 83.65,738.82" fill="#CC9900"/><polygon points="86.05,703.00 91.80,699.70 91.80,706.30" fill="#CC9900"/><polygon points="94.19,709.92 99.94,706.62 99.94,713.22" fill="#CC9900"/><polygon points="102.34,714.76 108.09,711.46 108.09,718.06" fill="#CC9900"/><polygon points="110.48,718.71 116.23,715.41 116.23,722.01" fill="#CC9900"/><polygon points="118.62,720.92 124.37,717.62 124.37,724.22" fill="#CC9900"/><polygon points="126.77,721.68 132.52,718.38 132.52,724.98" fill="#CC9900"/><polygon points="134.91,720.30 140.66,717.00 140.66,723.60" fill="#CC9900"/><polygon points="143.06,718.71 148.81,715.41 148.81,722.01" fill="#CC9900"/><polygon points="151.20,717.53 156.95,714.23 156.95,720.83" fill="#CC9900"/><polygon points="159.34,716.36 165.09,713.06 165.09,719.66" fill="#CC9900"/><polygon points="167.49,715.21 173.24,711.91 173.24,718.51" fill="#CC9900"/><polygon points="175.63,714.07 181.38,710.77 181.38,717.37" fill="#CC9900"/><polygon points="183.78,712.41 189.53,709.11 189.53,715.71" fill="#CC9900"/><polygon points="191.92,710.61 197.67,707.31 197.67,713.91" fill="#CC9900"/><polygon points="200.06,710.06 205.81,706.76 205.81,713.36" fill="#CC9900"/><polygon points="208.21,709.85 213.96,706.55 213.96,713.15" fill="#CC9900"/><polygon points="216.35,711.03 222.10,707.73 222.10,714.33" fill="#CC9900"/><polygon points="224.50,712.90 230.25,709.60 230.25,716.20" fill="#CC9900"/><polygon points="232.64,714.49 238.39,711.19 238.39,717.79" fill="#CC9900"/><polygon points="240.78,715.66 246.53,712.36 246.53,718.96" fill="#CC9900"/><polygon points="248.93,716.84 254.68,713.54 254.68,720.14" fill="#CC9900"/><polygon points="257.07,717.12 262.82,713.82 262.82,720.42" fill="#CC9900"/><polygon points="265.22,716.01 270.97,712.71 270.97,719.31" fill="#CC9900"/><polygon points="273.36,713.38 279.11,710.08 279.11,716.68" fill="#CC9900"/><polygon points="281.50,707.15 287.25,703.85 287.25,710.45" fill="#CC9900"/><polygon points="289.65,749.57 295.40,746.27 295.40,752.87" fill="#CC9900"/><polygon points="297.79,747.98 303.54,744.68 303.54,751.28" fill="#CC9900"/><polygon points="305.94,777.25 311.69,773.95 311.69,780.55" fill="#CC9900"/><polygon points="314.08,718.09 319.83,714.79 319.83,721.39" fill="#CC9900"/><polygon points="322.22,702.79 327.97,699.49 327.97,706.09" fill="#CC9900"/><polygon points="330.37,705.01 336.12,701.71 336.12,708.31" fill="#CC9900"/><polygon points="338.51,707.15 344.26,703.85 344.26,710.45" fill="#CC9900"/><polygon points="346.66,707.84 352.41,704.54 352.41,711.14" fill="#CC9900"/><polygon points="354.80,708.54 360.55,705.24 360.55,711.84" fill="#CC9900"/><polygon points="362.94,710.54 368.69,707.24 368.69,713.84" fill="#CC9900"/><polygon points="371.09,711.72 376.84,708.42 376.84,715.02" fill="#CC9900"/><polygon points="379.23,713.38 384.98,710.08 384.98,716.68" fill="#CC9900"/><polygon points="387.38,714.56 393.13,711.26 393.13,717.86" fill="#CC9900"/><polygon points="395.52,715.25 401.27,711.95 401.27,718.55" fill="#CC9900"/><polygon points="403.66,715.25 409.41,711.95 409.41,718.55" fill="#CC9900"/><polygon points="411.81,714.56 417.56,711.26 417.56,717.86" fill="#CC9900"/><polygon points="419.95,712.90 425.70,709.60 425.70,716.20" fill="#CC9900"/><polygon points="428.10,711.72 433.85,708.42 433.85,715.02" fill="#CC9900"/><polygon points="436.24,711.72 441.99,708.42 441.99,715.02" fill="#CC9900"/><polygon points="444.38,712.41 450.13,709.11 450.13,715.71" fill="#CC9900"/><polygon points="452.53,714.56 458.28,711.26 458.28,717.86" fill="#CC9900"/><polygon points="460.67,718.02 466.42,714.72 466.42,721.32" fill="#CC9900"/><polygon points="468.82,721.55 474.57,718.25 474.57,724.85" fill="#CC9900"/><polygon points="476.96,724.11 482.71,720.81 482.71,727.41" fill="#CC9900"/><polygon points="485.10,725.70 490.85,722.40 490.85,729.00" fill="#CC9900"/><polygon points="493.25,727.22 499.00,723.92 499.00,730.52" fill="#CC9900"/><polygon points="501.39,727.77 507.14,724.47 507.14,731.07" fill="#CC9900"/><polygon points="509.54,725.49 515.29,722.19 515.29,728.79" fill="#CC9900"/><polygon points="517.68,718.09 523.43,714.79 523.43,721.39" fill="#CC9900"/><polygon points="525.82,736.91 531.57,733.61 531.57,740.21" fill="#CC9900"/><polygon points="533.97,836.35 539.72,833.05 539.72,839.65" fill="#CC9900"/><polygon points="542.11,840.71 547.86,837.41 547.86,844.01" fill="#CC9900"/><polygon points="550.26,826.18 556.01,822.88 556.01,829.48" fill="#CC9900"/><polygon points="558.40,831.99 564.15,828.69 564.15,835.29" fill="#CC9900"/><polygon points="566.54,856.62 572.29,853.32 572.29,859.92" fill="#CC9900"/><polygon points="574.69,842.78 580.44,839.48 580.44,846.08" fill="#CC9900"/><polygon points="582.83,767.36 588.58,764.06 588.58,770.66" fill="#CC9900"/><polygon points="590.98,712.69 596.73,709.39 596.73,715.99" fill="#CC9900"/><polygon points="599.12,717.74 604.87,714.44 604.87,721.04" fill="#CC9900"/><polygon points="607.26,723.76 613.01,720.46 613.01,727.06" fill="#CC9900"/><polygon points="615.41,727.64 621.16,724.34 621.16,730.94" fill="#CC9900"/><polygon points="623.55,729.85 629.30,726.55 629.30,733.15" fill="#CC9900"/><polygon points="631.70,732.20 637.45,728.90 637.45,735.50" fill="#CC9900"/><polygon points="639.84,734.62 645.59,731.32 645.59,737.92" fill="#CC9900"/><polygon points="647.98,737.18 653.73,733.88 653.73,740.48" fill="#CC9900"/><polygon points="656.13,744.52 661.88,741.22 661.88,747.82" fill="#CC9900"/><polygon points="664.27,753.93 670.02,750.63 670.02,757.23" fill="#CC9900"/><polygon points="668.34,759.05 674.09,755.75 674.09,762.35" fill="#CC9900"/>
<polyline points="53.20,760.78 57.27,760.78 61.34,750.06 65.42,737.60 69.49,718.71 73.56,702.79 77.63,705.77 81.70,730.68 85.78,772.20 89.85,760.44 93.92,741.75 97.99,737.25 102.06,739.40 106.14,740.16 110.21,738.64 114.28,736.49 118.35,733.45 122.42,731.16 126.50,730.33 130.57,729.99 134.64,729.82 138.71,729.64 142.78,729.47 146.86,729.30 150.93,729.12 155.00,728.95 159.07,728.78 163.14,728.60 167.22,728.37 171.29,728.14 175.36,727.91 179.43,727.68 183.50,727.45 187.58,727.22 191.65,727.39 195.72,727.57 199.79,727.74 203.86,727.91 207.94,727.65 212.01,727.39 216.08,727.13 220.15,726.87 224.22,726.58 228.30,726.29 232.37,725.99 236.44,725.70 240.51,725.70 244.58,725.70 248.66,725.70 252.73,725.70 256.80,726.04 260.87,726.39 264.94,727.05 269.02,727.70 273.09,729.88 277.16,732.06 281.23,736.91 285.30,745.90 289.38,751.44 293.45,723.07 297.52,689.64 301.59,673.66 305.66,680.16 309.74,680.93 313.81,704.25 317.88,747.98 321.95,755.38 326.02,742.24 330.10,739.33 334.17,736.42 338.24,740.09 342.31,725.14 346.38,714.42 350.46,721.89 354.53,730.68 358.60,732.06 362.67,729.85 366.74,728.05 370.82,727.64 374.89,727.22 378.96,727.22 383.03,727.22 387.10,727.22 391.18,727.22 395.25,727.22 399.32,727.22 403.39,727.22 407.46,727.22 411.54,727.22 415.61,727.22 419.68,727.22 423.75,727.22 427.82,727.98 431.90,728.74 435.97,728.98 440.04,729.23 444.11,729.23 448.18,729.23 452.26,729.23 456.33,729.23 460.40,728.98 464.47,728.74 468.54,728.98 472.62,729.23 476.69,729.82 480.76,730.40 484.83,730.96 488.90,731.51 492.98,732.48 497.05,733.45 501.12,735.04 505.19,737.39 509.26,742.03 513.34,745.90 517.41,754.76 521.48,766.39 525.55,754.21 529.62,741.61 533.70,724.45 537.77,703.55 541.84,696.98 545.91,696.22 549.98,692.62 554.06,689.64 558.13,691.10 562.20,691.86 566.27,698.43 570.34,702.79 574.42,700.58 578.49,706.46 582.56,711.51 586.63,728.60 590.70,747.98 594.78,765.56 598.85,755.38 602.92,749.57 606.99,747.29 611.06,745.21 615.14,743.69 619.21,740.78 623.28,738.64 627.35,735.73 631.42,735.73 635.50,736.42 639.57,736.22 643.64,736.42 647.71,737.88 651.78,740.09 655.86,743.69 659.93,747.98 664.00,753.93 668.07,759.74 672.14,763.90" fill="none" stroke="#00CBCC" stroke-width="1.6" stroke-linejoin="round" stroke-dasharray="4.3 2.6"/>
<polygon points="61.07,760.78 55.32,757.48 55.32,764.08" fill="#00CBCC"/><polygon points="69.22,737.60 63.47,734.30 63.47,740.90" fill="#00CBCC"/><polygon points="77.36,702.79 71.61,699.49 71.61,706.09" fill="#00CBCC"/><polygon points="85.50,730.68 79.75,727.38 79.75,733.98" fill="#00CBCC"/><polygon points="93.65,760.44 87.90,757.14 87.90,763.74" fill="#00CBCC"/><polygon points="101.79,737.25 96.04,733.95 96.04,740.55" fill="#00CBCC"/><polygon points="109.94,740.16 104.19,736.86 104.19,743.46" fill="#00CBCC"/><polygon points="118.08,736.49 112.33,733.19 112.33,739.79" fill="#00CBCC"/><polygon points="126.22,731.16 120.47,727.86 120.47,734.46" fill="#00CBCC"/><polygon points="134.37,729.99 128.62,726.69 128.62,733.29" fill="#00CBCC"/><polygon points="142.51,729.64 136.76,726.34 136.76,732.94" fill="#00CBCC"/><polygon points="150.66,729.30 144.91,726.00 144.91,732.60" fill="#00CBCC"/><polygon points="158.80,728.95 153.05,725.65 153.05,732.25" fill="#00CBCC"/><polygon points="166.94,728.60 161.19,725.30 161.19,731.90" fill="#00CBCC"/><polygon points="175.09,728.14 169.34,724.84 169.34,731.44" fill="#00CBCC"/><polygon points="183.23,727.68 177.48,724.38 177.48,730.98" fill="#00CBCC"/><polygon points="191.38,727.22 185.63,723.92 185.63,730.52" fill="#00CBCC"/><polygon points="199.52,727.57 193.77,724.27 193.77,730.87" fill="#00CBCC"/><polygon points="207.66,727.91 201.91,724.61 201.91,731.21" fill="#00CBCC"/><polygon points="215.81,727.39 210.06,724.09 210.06,730.69" fill="#00CBCC"/><polygon points="223.95,726.87 218.20,723.57 218.20,730.17" fill="#00CBCC"/><polygon points="232.10,726.29 226.35,722.99 226.35,729.59" fill="#00CBCC"/><polygon points="240.24,725.70 234.49,722.40 234.49,729.00" fill="#00CBCC"/><polygon points="248.38,725.70 242.63,722.40 242.63,729.00" fill="#00CBCC"/><polygon points="256.53,725.70 250.78,722.40 250.78,729.00" fill="#00CBCC"/><polygon points="264.67,726.39 258.92,723.09 258.92,729.69" fill="#00CBCC"/><polygon points="272.82,727.70 267.07,724.40 267.07,731.00" fill="#00CBCC"/><polygon points="280.96,732.06 275.21,728.76 275.21,735.36" fill="#00CBCC"/><polygon points="289.10,745.90 283.35,742.60 283.35,749.20" fill="#00CBCC"/><polygon points="297.25,723.07 291.50,719.77 291.50,726.37" fill="#00CBCC"/><polygon points="305.39,673.66 299.64,670.36 299.64,676.96" fill="#00CBCC"/><polygon points="313.54,680.93 307.79,677.63 307.79,684.23" fill="#00CBCC"/><polygon points="321.68,747.98 315.93,744.68 315.93,751.28" fill="#00CBCC"/><polygon points="329.82,742.24 324.07,738.94 324.07,745.54" fill="#00CBCC"/><polygon points="337.97,736.42 332.22,733.12 332.22,739.72" fill="#00CBCC"/><polygon points="346.11,725.14 340.36,721.84 340.36,728.44" fill="#00CBCC"/><polygon points="354.26,721.89 348.51,718.59 348.51,725.19" fill="#00CBCC"/><polygon points="362.40,732.06 356.65,728.76 356.65,735.36" fill="#00CBCC"/><polygon points="370.54,728.05 364.79,724.75 364.79,731.35" fill="#00CBCC"/><polygon points="378.69,727.22 372.94,723.92 372.94,730.52" fill="#00CBCC"/><polygon points="386.83,727.22 381.08,723.92 381.08,730.52" fill="#00CBCC"/><polygon points="394.98,727.22 389.23,723.92 389.23,730.52" fill="#00CBCC"/><polygon points="403.12,727.22 397.37,723.92 397.37,730.52" fill="#00CBCC"/><polygon points="411.26,727.22 405.51,723.92 405.51,730.52" fill="#00CBCC"/><polygon points="419.41,727.22 413.66,723.92 413.66,730.52" fill="#00CBCC"/><polygon points="427.55,727.22 421.80,723.92 421.80,730.52" fill="#00CBCC"/><polygon points="435.70,728.74 429.95,725.44 429.95,732.04" fill="#00CBCC"/><polygon points="443.84,729.23 438.09,725.93 438.09,732.53" fill="#00CBCC"/><polygon points="451.98,729.23 446.23,725.93 446.23,732.53" fill="#00CBCC"/><polygon points="460.13,729.23 454.38,725.93 454.38,732.53" fill="#00CBCC"/><polygon points="468.27,728.74 462.52,725.44 462.52,732.04" fill="#00CBCC"/><polygon points="476.42,729.23 470.67,725.93 470.67,732.53" fill="#00CBCC"/><polygon points="484.56,730.40 478.81,727.10 478.81,733.70" fill="#00CBCC"/><polygon points="492.70,731.51 486.95,728.21 486.95,734.81" fill="#00CBCC"/><polygon points="500.85,733.45 495.10,730.15 495.10,736.75" fill="#00CBCC"/><polygon points="508.99,737.39 503.24,734.09 503.24,740.69" fill="#00CBCC"/><polygon points="517.14,745.90 511.39,742.60 511.39,749.20" fill="#00CBCC"/><polygon points="525.28,766.39 519.53,763.09 519.53,769.69" fill="#00CBCC"/><polygon points="533.42,741.61 527.67,738.31 527.67,744.91" fill="#00CBCC"/><polygon points="541.57,703.55 535.82,700.25 535.82,706.85" fill="#00CBCC"/><polygon points="549.71,696.22 543.96,692.92 543.96,699.52" fill="#00CBCC"/><polygon points="557.86,689.64 552.11,686.34 552.11,692.94" fill="#00CBCC"/><polygon points="566.00,691.86 560.25,688.56 560.25,695.16" fill="#00CBCC"/><polygon points="574.14,702.79 568.39,699.49 568.39,706.09" fill="#00CBCC"/><polygon points="582.29,706.46 576.54,703.16 576.54,709.76" fill="#00CBCC"/><polygon points="590.43,728.60 584.68,725.30 584.68,731.90" fill="#00CBCC"/><polygon points="598.58,765.56 592.83,762.26 592.83,768.86" fill="#00CBCC"/><polygon points="606.72,749.57 600.97,746.27 600.97,752.87" fill="#00CBCC"/><polygon points="614.86,745.21 609.11,741.91 609.11,748.51" fill="#00CBCC"/><polygon points="623.01,740.78 617.26,737.48 617.26,744.08" fill="#00CBCC"/><polygon points="631.15,735.73 625.40,732.43 625.40,739.03" fill="#00CBCC"/><polygon points="639.30,736.42 633.55,733.12 633.55,739.72" fill="#00CBCC"/><polygon points="647.44,736.42 641.69,733.12 641.69,739.72" fill="#00CBCC"/><polygon points="655.58,740.09 649.83,736.79 649.83,743.39" fill="#00CBCC"/><polygon points="663.73,747.98 657.98,744.68 657.98,751.28" fill="#00CBCC"/><polygon points="671.87,759.74 666.12,756.44 666.12,763.04" fill="#00CBCC"/><polygon points="675.94,763.90 670.19,760.60 670.19,767.20" fill="#00CBCC"/>
</g>
<rect x="91.40" y="810.03" width="392.30" height="37.17" fill="#fff" stroke="#000" stroke-width="1.2"/>
<line x1="92.30" y1="820.06" x2="125.50" y2="820.06" stroke="#515151" stroke-width="1.45"/>
<rect x="106.20" y="817.51" width="5.10" height="5.10" fill="#515151"/>
<text x="128.90" y="824.46" font-size="14">Element 1</text>
<line x1="189.70" y1="820.06" x2="222.90" y2="820.06" stroke="#F14040" stroke-width="1.6"/>
<circle cx="206.15" cy="820.06" r="2.70" fill="#F14040"/>
<text x="226.30" y="824.46" font-size="14">Element 2</text>
<line x1="287.10" y1="820.06" x2="320.30" y2="820.06" stroke="#1A6FDF" stroke-width="1.6"/>
<polygon points="303.55,816.26 306.85,822.01 300.25,822.01" fill="#1A6FDF"/>
<text x="323.70" y="824.46" font-size="14">Element 3</text>
<line x1="384.50" y1="820.06" x2="417.70" y2="820.06" stroke="#37AD6B" stroke-width="1.6"/>
<polygon points="400.95,823.86 404.25,818.11 397.65,818.11" fill="#37AD6B"/>
<text x="421.10" y="824.46" font-size="14">Element 4</text>
<line x1="92.30" y1="837.44" x2="125.50" y2="837.44" stroke="#B177DE" stroke-width="1.6"/>
<polygon points="108.75,834.04 111.95,837.44 108.75,840.84 105.55,837.44" fill="#B177DE"/>
<text x="128.90" y="841.84" font-size="14">Element 5</text>
<line x1="189.70" y1="837.44" x2="222.90" y2="837.44" stroke="#CC9900" stroke-width="1.6"/>
<polygon points="202.35,837.44 208.10,834.14 208.10,840.74" fill="#CC9900"/>
<text x="226.30" y="841.84" font-size="14">Element 6</text>
<line x1="287.10" y1="837.44" x2="320.30" y2="837.44" stroke="#00CBCC" stroke-width="1.6" stroke-dasharray="4.3 2.6"/>
<polygon points="307.35,837.44 301.60,834.14 301.60,840.74" fill="#00CBCC"/>
<text x="323.70" y="841.84" font-size="14">Average</text>
<rect x="53.30" y="616.70" width="631.00" height="241.80" fill="none" stroke="#000" stroke-width="1.3"/>
<text x="44.8" y="621.65" font-size="16.3" text-anchor="end">5</text>
<text x="44.8" y="656.25" font-size="16.3" text-anchor="end">0</text>
<text x="44.8" y="690.85" font-size="16.3" text-anchor="end">-5</text>
<text x="44.8" y="725.45" font-size="16.3" text-anchor="end">-10</text>
<text x="44.8" y="760.05" font-size="16.3" text-anchor="end">-15</text>
<text x="44.8" y="794.65" font-size="16.3" text-anchor="end">-20</text>
<text x="44.8" y="829.25" font-size="16.3" text-anchor="end">-25</text>
<text x="44.8" y="863.85" font-size="16.3" text-anchor="end">-30</text>
<path d="M73.43 858.50v-3.6M93.81 858.50v-7M114.19 858.50v-3.6M134.57 858.50v-7M154.95 858.50v-3.6M175.33 858.50v-7M195.71 858.50v-3.6M216.09 858.50v-7M236.47 858.50v-3.6M256.85 858.50v-7M277.23 858.50v-3.6M297.61 858.50v-7M317.99 858.50v-3.6M338.37 858.50v-7M358.75 858.50v-3.6M379.13 858.50v-7M399.51 858.50v-3.6M419.89 858.50v-7M440.27 858.50v-3.6M460.65 858.50v-7M481.03 858.50v-3.6M501.41 858.50v-7M521.79 858.50v-3.6M542.17 858.50v-7M562.55 858.50v-3.6M582.93 858.50v-7M603.31 858.50v-3.6M623.69 858.50v-7M644.07 858.50v-3.6M664.45 858.50v-7M53.30 633.80h4M53.30 651.10h7.4M53.30 668.40h4M53.30 685.70h7.4M53.30 703.00h4M53.30 720.30h7.4M53.30 737.60h4M53.30 754.90h7.4M53.30 772.20h4M53.30 789.50h7.4M53.30 806.80h4M53.30 824.10h7.4M53.30 841.40h4" stroke="#000" stroke-width="1.3" fill="none"/>
<text transform="translate(14.8 737.60) rotate(-90)" font-size="20.45" text-anchor="middle">Stress (MPa)</text>
<text x="368.8" y="882.40" font-size="20.5" text-anchor="middle">Position</text>
<text x="340" y="907.30" font-size="20" text-anchor="middle">(c)</text>
</svg>
</body></html>
